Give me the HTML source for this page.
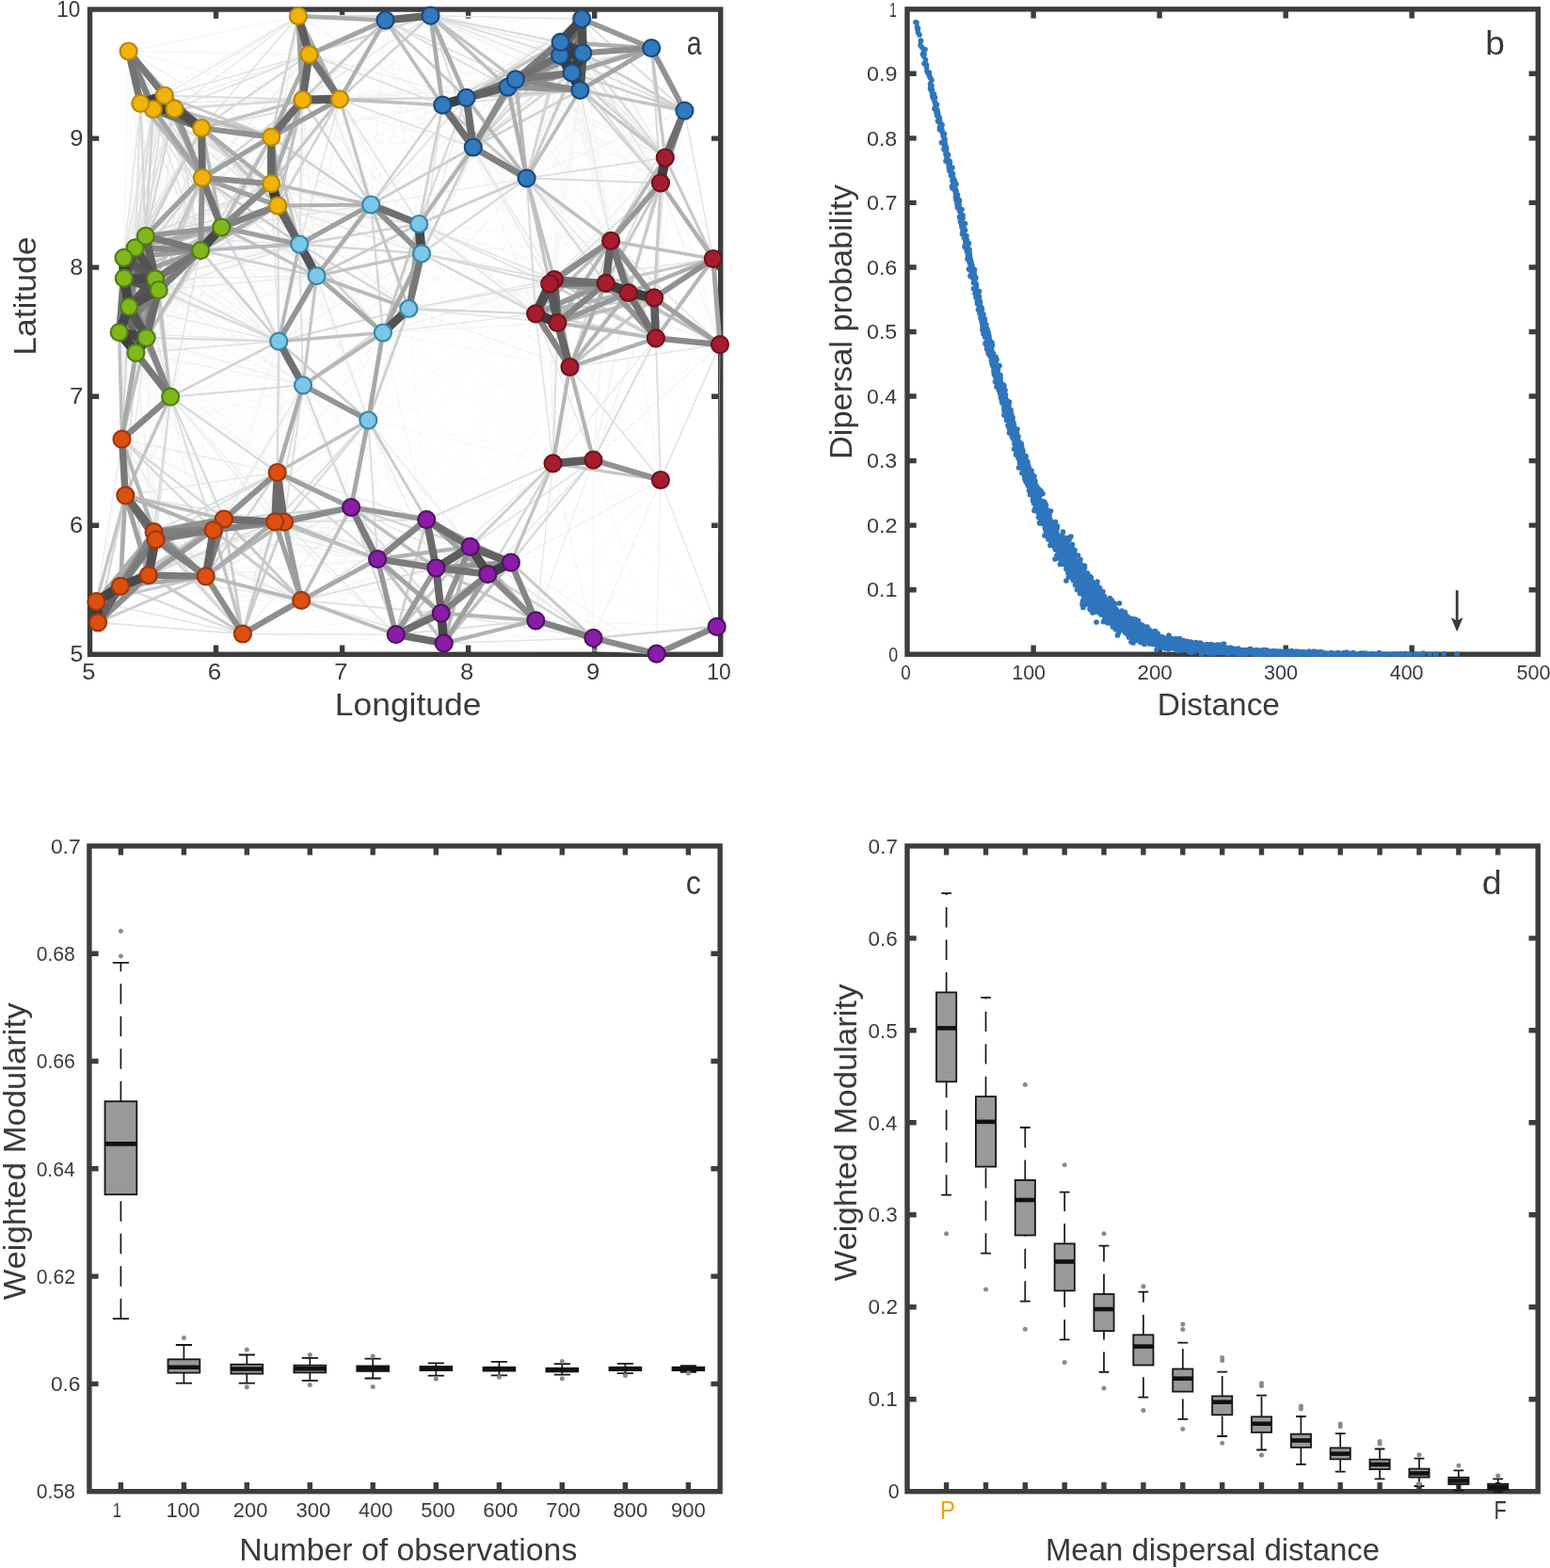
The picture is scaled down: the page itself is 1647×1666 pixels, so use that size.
<!DOCTYPE html>
<html lang="en">
<head>
<meta charset="utf-8">
<title>Network modularity figure</title>
<style>
html,body{margin:0;padding:0;background:#fff;}
body{width:1647px;height:1666px;overflow:hidden;}
svg{display:block;}
svg text{font-family:'Liberation Sans', Arial, Helvetica, sans-serif;fill:#3a3a3a;font-kerning:none;}
</style>
</head>
<body>
<svg width="1647" height="1666" viewBox="0 0 1647 1666">
<rect width="1647" height="1666" fill="#fff"/>
<g id="pa">
<g fill="none" stroke="#3d3d3b" stroke-width="5.4"><rect x="95.5" y="10" width="670.2" height="685.3"/><path d="M229.5 695.3v-9.7M229.5 10v9.7M363.6 695.3v-9.7M363.6 10v9.7M497.6 695.3v-9.7M497.6 10v9.7M631.7 695.3v-9.7M631.7 10v9.7M95.5 558.2h9.7M765.7 558.2h-9.7M95.5 421.2h9.7M765.7 421.2h-9.7M95.5 284.1h9.7M765.7 284.1h-9.7M95.5 147.1h9.7M765.7 147.1h-9.7"/></g>
<g fill="none">
<path stroke="#fbfefd" stroke-width="0.45" d="M696.9 359.4L453.2 552.1M165 296.4L157.8 611.1M154.8 250.8L163.6 565.2M214.9 188.9L391.3 446.5M547.8 84.4L696.9 359.4M162.9 116L470.3 111.7M131.5 273.8L434.3 328M643.7 300.8L542.9 597.7M136.6 54.5L336.5 293.2M445.2 238L630.5 488.7M336.5 293.2L643.7 300.8M445.2 238L453.2 552.1M692.2 51.2L445.2 238M322 409.3L471.7 683.4M667.7 311L542.9 597.7M149.3 109.9L181.1 421.7M696.9 359.4L761.7 665.8M391.3 446.5L667.7 311M162.9 116L445.2 238M296.2 362.7L257.9 673.5M619.2 56.4L696.9 359.4M502.8 156.5L322 409.3M126.7 353.2L373.1 539.1M457.5 16.7L584.2 301.5M727.4 117.6L445.2 238M607.7 77.4L605.5 390M143.6 263.3L391.3 446.5M157.8 611.1L463.4 603.5M181.1 421.7L448 269.4M154.8 250.8L237.9 551.5M569.1 333.3L401.1 594.1M336.5 293.2L133.3 526.3M457.5 16.7L434.3 328M155.6 358.8L448 269.4M131.8 295.7L302 554.7M296.2 362.7L127.9 622.8M361 105.3L569.1 333.3M143.6 263.3L226.7 563.2M502.8 156.5L391.3 446.5M316.9 17.1L619.2 56.4M539.6 92.6L696.9 359.4M168.7 308.1L373.1 539.1M328.5 57.9L131.8 295.7M463.4 603.5L761.7 665.8M143.6 263.3L448 269.4M547.8 84.4L605.5 390M213.1 266.1L165.5 573.4M154.8 250.8L391.3 446.5M104.1 661.4L401.1 594.1M131.8 295.7L434.3 328M457.5 16.7L589 297.1M143.6 263.3L165.5 573.4M470.3 111.7L605.5 390M295.2 218.5L589 297.1M696.9 359.4L518.4 610.1M616.4 95.8L765 366.1M235.3 241.5L237.9 551.5M445.2 238L373.1 539.1M136.6 54.5L394.2 217.5M587.6 492.4L320.2 637.8M559.6 189.3L391.3 446.5M143.6 263.3L445.2 238M185.4 115.7L448 269.4M457.5 16.7L649.1 255.9M692.2 51.2L592.4 343M126.7 353.2L104.1 661.4M163.6 565.2L463.4 603.5M692.2 51.2L569.1 333.3M102.4 639.2L401.1 594.1M168.7 308.1L218.7 612.3M587.6 492.4L292.1 554.3M321.5 106L619.2 56.4M174.8 101.5L445.2 238M692.2 51.2L696.9 359.4M316.9 17.1L618.2 20M336.5 293.2L401.1 594.1M559.6 189.3L630.5 488.7M470.3 111.7L695.1 316.4M157.8 611.1L453.2 552.1M470.3 111.7L296.2 362.7M409.5 21.5L434.3 328M495.5 103.8L605.5 390M181.1 421.7L453.2 552.1M155.6 358.8L104.1 661.4M607.7 77.4L434.3 328M295.2 218.5L584.2 301.5M288.2 195.2L294.7 502M457.5 16.7L702 194.4M618.2 20L695.1 316.4M361 105.3L322 409.3M328.5 57.9L296.2 362.7M296.2 362.7L589 297.1M218.7 612.3L518.4 610.1M328.5 57.9L406.9 353.5M162.9 116L181.1 421.7M131.8 295.7L292.1 554.3M165.5 573.4L463.4 603.5M185.4 115.7L181.1 421.7M445.2 238L294.7 502M129.5 466.7L401.1 594.1M406.9 353.5L129.5 466.7M126.7 353.2L394.2 217.5M131.5 273.8L226.7 563.2M547.8 84.4L406.9 353.5M131.8 295.7L391.3 446.5M470.3 111.7L213.1 266.1M539.6 92.6L605.5 390M136.6 54.5L155.6 358.8M406.9 353.5L468.8 651.6M434.3 328L702 194.4M559.6 189.3L587.6 492.4M321.5 106L155.6 358.8M589 297.1L542.9 597.7M143.6 263.3L434.3 328M618.2 20L448 269.4M137.1 325.8L434.3 328M143.6 263.3L237.9 551.5M127.9 622.8L420.7 674.2M296.2 362.7L592.4 343M316.9 17.1L607.7 77.4M213.1 266.1L163.6 565.2M316.9 17.1L143.6 263.3M318.2 259.5L237.9 551.5M321.5 106L322 409.3M235.3 241.5L133.3 526.3M702 194.4L630.5 488.7M168.7 308.1L157.8 611.1M457.5 16.7L336.5 293.2M295.2 218.5L569.1 333.3M143.6 263.3L163.6 565.2M213.1 266.1L302 554.7M618.2 20L394.2 217.5M174.8 101.5L470.3 111.7M292.1 554.3L569.3 659.3M394.2 217.5L294.7 502M316.9 17.1L559.6 189.3M214.9 188.9L457.5 16.7M361 105.3L131.8 295.7M226.7 563.2L518.4 610.1M361 105.3L589 297.1M321.5 106L616.4 95.8M131.5 273.8L165.5 573.4M296.2 362.7L499.7 580.9M174.8 101.5L457.5 16.7M257.9 673.5L542.9 597.7M104.1 661.4L373.1 539.1M361 105.3L584.2 301.5M296.2 362.7L584.2 301.5M295.2 218.5L129.5 466.7M434.3 328L237.9 551.5M547.8 84.4L336.5 293.2M154.8 250.8L448 269.4M144.4 374.8L434.3 328M144.4 374.8L394.2 217.5M468.8 651.6L761.7 665.8M765 366.1L761.7 665.8M587.6 492.4L294.7 502M495.5 103.8L235.3 241.5M727.4 117.6L605.5 390M696.9 359.4L499.7 580.9M213.1 266.1L292.1 554.3M214.9 188.9L495.5 103.8M584.2 301.5L542.9 597.7M136.6 54.5L126.7 353.2M328.5 57.9L168.7 308.1M328.5 57.9L618.2 20M181.1 421.7L394.2 217.5M587.6 492.4L302 554.7M137.1 325.8L218.7 612.3M131.5 273.8L237.9 551.5M595.6 44.8L592.4 343M589 297.1L499.7 580.9M592.4 343L373.1 539.1M406.9 353.5L320.2 637.8M616.4 95.8L434.3 328M373.1 539.1L630.5 677.9M213.1 266.1L226.7 563.2M328.5 57.9L619.2 56.4M154.8 250.8L445.2 238M137.1 325.8L127.9 622.8M471.7 683.4L761.7 665.8M288.2 145.6L181.1 421.7M406.9 353.5L695.1 316.4M328.5 57.9L616.4 95.8M605.5 390L468.8 651.6M406.9 353.5L696.9 359.4M163.6 565.2L453.2 552.1M607.7 77.4L696.9 359.4M391.3 446.5L643.7 300.8M457.5 16.7L706.8 167.5M214.9 188.9L502.8 156.5M154.8 250.8L434.3 328M318.2 259.5L292.1 554.3M214.2 136.1L502.8 156.5M214.2 136.1L434.3 328M318.2 259.5L302 554.7M618.2 20L667.7 311M296.2 362.7L463.4 603.5M185.4 115.7L457.5 16.7M328.5 57.9L131.5 273.8M502.8 156.5L296.2 362.7M322 409.3L589 297.1M165.5 573.4L453.2 552.1M434.3 328L518.4 610.1M394.2 217.5L667.7 311M495.5 103.8L695.1 316.4M214.2 136.1L322 409.3M616.4 95.8L605.5 390M102.4 639.2L373.1 539.1M322 409.3L542.9 597.7M539.6 92.6L406.9 353.5M149.3 109.9L296.2 362.7M321.5 106L607.7 77.4M457.5 16.7L727.4 117.6M165 296.4L302 554.7M214.2 136.1L406.9 353.5M131.5 273.8L163.6 565.2M445.2 238L587.6 492.4M547.8 84.4L318.2 259.5M237.9 551.5L518.4 610.1M131.5 273.8L406.9 353.5M302 554.7L569.3 659.3M318.2 259.5L592.4 343M584.2 301.5L499.7 580.9M185.4 115.7L445.2 238M336.5 293.2L226.7 563.2M165 296.4L445.2 238M701.9 510L471.7 683.4M618.2 20L757.8 275M605.5 390L401.1 594.1M592.4 343L463.4 603.5M434.3 328L542.9 597.7M336.5 293.2L605.5 390M322 409.3L127.9 622.8M185.4 115.7L470.3 111.7M168.7 308.1L445.2 238M328.5 57.9L165 296.4M214.9 188.9L129.5 466.7M295.2 218.5L547.8 84.4M569.1 333.3L463.4 603.5M328.5 57.9L434.3 328M165 296.4L448 269.4M409.5 21.5L692.2 51.2M322 409.3L605.5 390M589 297.1L453.2 552.1M595.6 44.8L695.1 316.4M391.3 446.5L157.8 611.1M595.6 44.8L569.1 333.3M321.5 106L137.1 325.8M144.4 374.8L104.1 661.4M214.2 136.1L495.5 103.8M174.8 101.5L296.2 362.7M154.8 250.8L294.7 502M218.7 612.3L499.7 580.9M605.5 390L630.5 677.9M322 409.3L584.2 301.5M361 105.3L131.5 273.8M165 296.4L292.1 554.3M539.6 92.6L336.5 293.2M168.7 308.1L448 269.4M539.6 92.6L757.8 275M448 269.4L630.5 488.7M619.2 56.4L592.4 343"/>
<path stroke="#fafdfc" stroke-width="0.45" d="M453.2 552.1L697.6 694.6M288.2 195.2L547.8 84.4M214.2 136.1L181.1 421.7M316.9 17.1L595.1 58.9M569.1 333.3L373.1 539.1M131.8 295.7L406.9 353.5M547.8 84.4L757.8 275M126.7 353.2L102.4 639.2M321.5 106L595.6 44.8M155.6 358.8L434.3 328M137.1 325.8L391.3 446.5M213.1 266.1L237.9 551.5M126.7 353.2L406.9 353.5M316.9 17.1L154.8 250.8M502.8 156.5L235.3 241.5M502.8 156.5L757.8 275M316.9 17.1L595.6 44.8M155.6 358.8L373.1 539.1M126.7 353.2L391.3 446.5M328.5 57.9L607.7 77.4M137.1 325.8L157.8 611.1M296.2 362.7L157.8 611.1M144.4 374.8L373.1 539.1M316.9 17.1L448 269.4M696.9 359.4L542.9 597.7M155.6 358.8L102.4 639.2M318.2 259.5L373.1 539.1M336.5 293.2L453.2 552.1M322 409.3L468.8 651.6M163.6 565.2L420.7 674.2M445.2 238L696.9 359.4M131.8 295.7L226.7 563.2M143.6 263.3L294.7 502M322 409.3L592.4 343M137.1 325.8L394.2 217.5M137.1 325.8L302 554.7M584.2 301.5L453.2 552.1M595.1 58.9L592.4 343M322 409.3L587.6 492.4M322 409.3L518.4 610.1M143.6 263.3L406.9 353.5M420.7 674.2L697.6 694.6M502.8 156.5L696.9 359.4M595.6 44.8L757.8 275M321.5 106L595.1 58.9M470.3 111.7L667.7 311M618.2 20L584.2 301.5M630.5 488.7L420.7 674.2M448 269.4L706.8 167.5M295.2 218.5L294.7 502M322 409.3L420.7 674.2M181.1 421.7L401.1 594.1M318.2 259.5L129.5 466.7M409.5 21.5L235.3 241.5M448 269.4L453.2 552.1M131.5 273.8L294.7 502M361 105.3L168.7 308.1M133.3 526.3L401.1 594.1M618.2 20L643.7 300.8M155.6 358.8L394.2 217.5M162.9 116L296.2 362.7M409.5 21.5L336.5 293.2M168.7 308.1L302 554.7M569.1 333.3L518.4 610.1M619.2 56.4L569.1 333.3M457.5 16.7L318.2 259.5M539.6 92.6L318.2 259.5M499.7 580.9L761.7 665.8M406.9 353.5L542.9 597.7M136.6 54.5L409.5 21.5M288.2 145.6L559.6 189.3M619.2 56.4L394.2 217.5M127.9 622.8L401.1 594.1M406.9 353.5L518.4 610.1M618.2 20L445.2 238M296.2 362.7L569.1 333.3M605.5 390L373.1 539.1M448 269.4L294.7 502M149.3 109.9L409.5 21.5M448 269.4L373.1 539.1M391.3 446.5L569.3 659.3M131.8 295.7L165.5 573.4M295.2 218.5L539.6 92.6M165.5 573.4L420.7 674.2M226.7 563.2L499.7 580.9M131.8 295.7L394.2 217.5M318.2 259.5L589 297.1M328.5 57.9L143.6 263.3M406.9 353.5L226.7 563.2M618.2 20L589 297.1M757.8 275L587.6 492.4M137.1 325.8L292.1 554.3M226.7 563.2L471.7 683.4M131.8 295.7L237.9 551.5M592.4 343L518.4 610.1M288.2 195.2L559.6 189.3M154.8 250.8L406.9 353.5M336.5 293.2L237.9 551.5M137.1 325.8L406.9 353.5M701.9 510L468.8 651.6M165 296.4L434.3 328M434.3 328L463.4 603.5M595.1 58.9L695.1 316.4M165 296.4L165.5 573.4M361 105.3L165 296.4M316.9 17.1L336.5 293.2M288.2 195.2L539.6 92.6M168.7 308.1L292.1 554.3M445.2 238L706.8 167.5M547.8 84.4L695.1 316.4M136.6 54.5L318.2 259.5M361 105.3L618.2 20M394.2 217.5L605.5 390M154.8 250.8L133.3 526.3M595.6 44.8L667.7 311M296.2 362.7L320.2 637.8M616.4 95.8L696.9 359.4M157.8 611.1L420.7 674.2M214.2 136.1L457.5 16.7M165 296.4L391.3 446.5M619.2 56.4L448 269.4M595.1 58.9L569.1 333.3M126.7 353.2L218.7 612.3M391.3 446.5L133.3 526.3M181.1 421.7L434.3 328M318.2 259.5L584.2 301.5M174.8 101.5L144.4 374.8M559.6 189.3L765 366.1M539.6 92.6L695.1 316.4M131.5 273.8L394.2 217.5M165 296.4L226.7 563.2M257.9 673.5L518.4 610.1M214.2 136.1L448 269.4M336.5 293.2L129.5 466.7M692.2 51.2L584.2 301.5M328.5 57.9L595.6 44.8M470.3 111.7L235.3 241.5M237.9 551.5L471.7 683.4M361 105.3L143.6 263.3M595.1 58.9L757.8 275M213.1 266.1L133.3 526.3M328.5 57.9L595.1 58.9M149.3 109.9L394.2 217.5M288.2 195.2L391.3 446.5M288.2 145.6L547.8 84.4M214.9 188.9L470.3 111.7M168.7 308.1L434.3 328M288.2 145.6L144.4 374.8M322 409.3L257.9 673.5M295.2 218.5L559.6 189.3M495.5 103.8L667.7 311M605.5 390L569.3 659.3M185.4 115.7L296.2 362.7M131.8 295.7L163.6 565.2M619.2 56.4L695.1 316.4M321.5 106L131.8 295.7M136.6 54.5L137.1 325.8M294.7 502L542.9 597.7"/>
<path stroke="#fafdfc" stroke-width="0.45" d="M316.9 17.1L213.1 266.1M595.6 44.8L448 269.4M328.5 57.9L559.6 189.3M434.3 328L696.9 359.4M448 269.4L702 194.4M406.9 353.5L667.7 311M448 269.4L696.9 359.4M547.8 84.4L434.3 328M126.7 353.2L302 554.7M727.4 117.6L569.1 333.3M126.7 353.2L127.9 622.8M237.9 551.5L499.7 580.9M162.9 116L409.5 21.5M144.4 374.8L406.9 353.5M434.3 328L292.1 554.3M165 296.4L163.6 565.2M595.6 44.8L394.2 217.5M361 105.3L619.2 56.4M391.3 446.5L129.5 466.7M394.2 217.5L643.7 300.8M218.7 612.3L471.7 683.4M434.3 328L401.1 594.1M630.5 488.7L373.1 539.1M144.4 374.8L102.4 639.2M692.2 51.2L589 297.1M235.3 241.5L294.7 502M445.2 238L695.1 316.4M318.2 259.5L569.1 333.3M434.3 328L695.1 316.4M168.7 308.1L391.3 446.5M336.5 293.2L592.4 343M406.9 353.5L649.1 255.9M445.2 238L702 194.4M607.7 77.4L592.4 343M288.2 145.6L322 409.3M361 105.3L296.2 362.7M165 296.4L237.9 551.5M569.1 333.3L542.9 597.7M495.5 103.8L406.9 353.5M406.9 353.5L630.5 488.7M155.6 358.8L127.9 622.8M168.7 308.1L165.5 573.4M288.2 145.6L126.7 353.2M692.2 51.2L695.1 316.4M131.8 295.7L294.7 502M149.3 109.9L336.5 293.2M336.5 293.2L292.1 554.3M149.3 109.9L144.4 374.8M391.3 446.5L257.9 673.5M448 269.4L587.6 492.4M127.9 622.8L373.1 539.1M727.4 117.6L592.4 343M257.9 673.5L499.7 580.9M434.3 328L302 554.7M214.9 188.9L434.3 328M336.5 293.2L302 554.7M322 409.3L569.1 333.3"/>
<path stroke="#f9fcfb" stroke-width="0.80" d="M181.1 421.7L257.9 673.5M391.3 446.5L165.5 573.4M394.2 217.5L649.1 255.9M143.6 263.3L133.3 526.3M214.2 136.1L470.3 111.7M470.3 111.7L727.4 117.6M226.7 563.2L468.8 651.6M470.3 111.7L592.4 343M406.9 353.5L237.9 551.5M595.1 58.9L667.7 311M126.7 353.2L292.1 554.3M547.8 84.4L592.4 343M322 409.3L157.8 611.1M288.2 145.6L539.6 92.6M185.4 115.7L144.4 374.8M321.5 106L406.9 353.5M144.4 374.8L391.3 446.5M328.5 57.9L154.8 250.8M168.7 308.1L226.7 563.2M296.2 362.7L218.7 612.3M434.3 328L499.7 580.9M155.6 358.8L218.7 612.3M391.3 446.5L163.6 565.2M361 105.3L616.4 95.8M295.2 218.5L457.5 16.7M701.9 510L463.4 603.5M692.2 51.2L667.7 311M595.6 44.8L643.7 300.8M619.2 56.4L757.8 275M143.6 263.3L394.2 217.5M292.1 554.3L542.9 597.7M214.9 188.9L409.5 21.5M126.7 353.2L157.8 611.1M649.1 255.9L701.9 510M235.3 241.5L391.3 446.5M592.4 343L542.9 597.7M595.1 58.9L394.2 217.5M162.9 116L144.4 374.8M129.5 466.7L320.2 637.8M607.7 77.4L394.2 217.5M129.5 466.7L373.1 539.1M619.2 56.4L667.7 311M470.3 111.7L643.7 300.8M607.7 77.4L569.1 333.3M495.5 103.8L592.4 343M539.6 92.6L434.3 328M218.7 612.3L468.8 651.6M595.1 58.9L448 269.4M181.1 421.7L320.2 637.8M605.5 390L463.4 603.5M336.5 293.2L589 297.1M174.8 101.5L155.6 358.8M321.5 106L296.2 362.7M701.9 510L453.2 552.1M616.4 95.8L394.2 217.5M547.8 84.4L667.7 311M569.1 333.3L499.7 580.9M162.9 116L394.2 217.5M321.5 106L559.6 189.3M214.2 136.1L445.2 238M630.5 488.7L401.1 594.1M168.7 308.1L163.6 565.2M434.3 328L630.5 488.7M155.6 358.8L406.9 353.5M448 269.4L695.1 316.4"/>
<path stroke="#f9fcfb" stroke-width="0.80" d="M595.6 44.8L584.2 301.5M316.9 17.1L445.2 238M321.5 106L131.5 273.8M559.6 189.3L318.2 259.5M406.9 353.5L463.4 603.5M155.6 358.8L391.3 446.5M174.8 101.5L126.7 353.2M237.9 551.5L468.8 651.6M213.1 266.1L391.3 446.5M294.7 502L471.7 683.4M463.4 603.5L697.6 694.6M214.9 188.9L406.9 353.5M361 105.3L154.8 250.8M539.6 92.6L592.4 343M592.4 343L499.7 580.9M502.8 156.5L605.5 390M136.6 54.5L168.7 308.1M409.5 21.5L318.2 259.5M320.2 637.8L569.3 659.3M321.5 106L168.7 308.1M607.7 77.4L695.1 316.4M296.2 362.7L401.1 594.1M518.4 610.1L761.7 665.8M539.6 92.6L667.7 311M692.2 51.2L643.7 300.8M137.1 325.8L226.7 563.2M619.2 56.4L445.2 238M165 296.4L406.9 353.5M361 105.3L607.7 77.4M630.5 488.7L471.7 683.4M168.7 308.1L237.9 551.5M502.8 156.5L695.1 316.4M336.5 293.2L584.2 301.5M174.8 101.5L336.5 293.2M294.7 502L518.4 610.1M174.8 101.5L409.5 21.5M592.4 343L453.2 552.1M457.5 16.7L448 269.4M288.2 145.6L155.6 358.8M361 105.3L406.9 353.5M174.8 101.5L394.2 217.5M131.5 273.8L133.3 526.3M595.6 44.8L589 297.1M155.6 358.8L157.8 611.1M181.1 421.7L104.1 661.4M607.7 77.4L448 269.4M294.7 502L104.1 661.4M288.2 195.2L181.1 421.7M214.9 188.9L448 269.4M727.4 117.6L765 366.1M391.3 446.5L589 297.1M409.5 21.5L448 269.4M470.3 111.7L702 194.4M162.9 116L336.5 293.2M391.3 446.5L471.7 683.4M559.6 189.3L336.5 293.2M218.7 612.3L463.4 603.5M470.3 111.7L406.9 353.5M757.8 275L630.5 488.7M213.1 266.1L294.7 502M607.7 77.4L757.8 275M321.5 106L434.3 328"/>
<path stroke="#f8fbfa" stroke-width="0.80" d="M302 554.7L542.9 597.7M322 409.3L499.7 580.9M547.8 84.4L569.1 333.3M235.3 241.5L129.5 466.7M495.5 103.8L336.5 293.2M296.2 362.7L165.5 573.4M157.8 611.1L401.1 594.1M144.4 374.8L218.7 612.3M587.6 492.4L420.7 674.2M137.1 325.8L165.5 573.4M214.2 136.1L144.4 374.8M401.1 594.1L630.5 677.9M149.3 109.9L155.6 358.8M569.1 333.3L453.2 552.1M336.5 293.2L373.1 539.1M321.5 106L165 296.4M288.2 195.2L457.5 16.7M144.4 374.8L127.9 622.8M495.5 103.8L643.7 300.8M587.6 492.4L761.7 665.8M616.4 95.8L592.4 343M296.2 362.7L453.2 552.1M295.2 218.5L391.3 446.5M391.3 446.5L630.5 488.7M470.3 111.7L706.8 167.5M137.1 325.8L237.9 551.5M406.9 353.5L643.7 300.8M168.7 308.1L406.9 353.5M185.4 115.7L409.5 21.5M168.7 308.1L394.2 217.5M619.2 56.4L584.2 301.5M361 105.3L595.6 44.8M165 296.4L394.2 217.5M218.7 612.3L453.2 552.1M154.8 250.8L394.2 217.5M595.1 58.9L643.7 300.8M595.6 44.8L445.2 238M155.6 358.8L302 554.7M406.9 353.5L499.7 580.9M214.9 188.9L322 409.3M619.2 56.4L643.7 300.8M133.3 526.3L373.1 539.1M316.9 17.1L547.8 84.4M706.8 167.5L605.5 390M226.7 563.2L463.4 603.5M185.4 115.7L155.6 358.8M185.4 115.7L126.7 353.2M129.5 466.7L257.9 673.5M391.3 446.5L584.2 301.5M649.1 255.9L587.6 492.4M165 296.4L294.7 502M163.6 565.2L401.1 594.1M616.4 95.8L448 269.4M149.3 109.9L126.7 353.2M328.5 57.9L448 269.4M361 105.3L595.1 58.9M727.4 117.6L696.9 359.4M296.2 362.7L163.6 565.2M318.2 259.5L294.7 502M136.6 54.5L165 296.4M470.3 111.7L569.1 333.3"/>
<path stroke="#f7faf9" stroke-width="0.80" d="M162.9 116L155.6 358.8M595.1 58.9L584.2 301.5M619.2 56.4L589 297.1M539.6 92.6L569.1 333.3M457.5 16.7L692.2 51.2M316.9 17.1L318.2 259.5M616.4 95.8L569.1 333.3M589 297.1L701.9 510M391.3 446.5L218.7 612.3M322 409.3L463.4 603.5M757.8 275L701.9 510M165.5 573.4L401.1 594.1M214.2 136.1L296.2 362.7M495.5 103.8L569.1 333.3M144.4 374.8L302 554.7M607.7 77.4L667.7 311M136.6 54.5L131.8 295.7M336.5 293.2L569.1 333.3M137.1 325.8L163.6 565.2M181.1 421.7L406.9 353.5M584.2 301.5L701.9 510M288.2 145.6L406.9 353.5M406.9 353.5L401.1 594.1M214.9 188.9L445.2 238M321.5 106L143.6 263.3M213.1 266.1L448 269.4M155.6 358.8L292.1 554.3M162.9 116L126.7 353.2M316.9 17.1L539.6 92.6M294.7 502L102.4 639.2M316.9 17.1L235.3 241.5M328.5 57.9L213.1 266.1M434.3 328L667.7 311M213.1 266.1L445.2 238M495.5 103.8L318.2 259.5M445.2 238L667.7 311M137.1 325.8L294.7 502M394.2 217.5L592.4 343M595.1 58.9L589 297.1M292.1 554.3L518.4 610.1M618.2 20L649.1 255.9M468.8 651.6L697.6 694.6M547.8 84.4L643.7 300.8M495.5 103.8L727.4 117.6M605.5 390L518.4 610.1M288.2 145.6L137.1 325.8M131.5 273.8L322 409.3M144.4 374.8L157.8 611.1M185.4 115.7L394.2 217.5"/>
<path stroke="#f7faf9" stroke-width="0.80" d="M237.9 551.5L463.4 603.5M288.2 145.6L434.3 328M595.1 58.9L445.2 238M316.9 17.1L502.8 156.5M328.5 57.9L336.5 293.2M214.9 188.9L181.1 421.7M185.4 115.7L336.5 293.2M727.4 117.6L584.2 301.5M136.6 54.5L361 105.3M361 105.3L434.3 328M470.3 111.7L692.2 51.2M616.4 95.8L695.1 316.4M214.2 136.1L126.7 353.2M295.2 218.5L495.5 103.8M144.4 374.8L292.1 554.3M213.1 266.1L434.3 328M295.2 218.5L181.1 421.7M373.1 539.1L569.3 659.3M542.9 597.7L761.7 665.8M539.6 92.6L643.7 300.8M257.9 673.5L453.2 552.1M143.6 263.3L322 409.3M692.2 51.2L757.8 275M649.1 255.9L630.5 488.7M126.7 353.2L226.7 563.2M296.2 362.7L133.3 526.3M154.8 250.8L322 409.3M502.8 156.5L727.4 117.6M470.3 111.7L649.1 255.9M168.7 308.1L294.7 502M495.5 103.8L434.3 328M406.9 353.5L292.1 554.3M294.7 502L468.8 651.6M321.5 106L547.8 84.4M165 296.4L133.3 526.3M288.2 195.2L144.4 374.8M499.7 580.9L697.6 694.6M630.5 488.7L468.8 651.6M181.1 421.7L102.4 639.2M226.7 563.2L453.2 552.1M157.8 611.1L373.1 539.1M587.6 492.4L697.6 694.6M471.7 683.4L697.6 694.6M320.2 637.8L542.9 597.7M434.3 328L649.1 255.9M406.9 353.5L587.6 492.4M607.7 77.4L445.2 238M288.2 195.2L495.5 103.8M136.6 54.5L295.2 218.5M214.2 136.1L155.6 358.8M131.8 295.7L133.3 526.3M616.4 95.8L757.8 275M214.2 136.1L409.5 21.5M391.3 446.5L592.4 343M495.5 103.8L702 194.4M391.3 446.5L420.7 674.2"/>
<path stroke="#f6f9f8" stroke-width="0.80" d="M322 409.3L165.5 573.4M295.2 218.5L409.5 21.5M394.2 217.5L391.3 446.5M322 409.3L218.7 612.3M302 554.7L104.1 661.4M181.1 421.7L373.1 539.1M502.8 156.5L667.7 311M126.7 353.2L237.9 551.5M727.4 117.6L589 297.1M288.2 195.2L126.7 353.2M322 409.3L320.2 637.8M149.3 109.9L318.2 259.5M448 269.4L667.7 311M302 554.7L518.4 610.1M406.9 353.5L302 554.7M174.8 101.5L137.1 325.8M409.5 21.5L559.6 189.3M226.7 563.2L420.7 674.2M470.3 111.7L336.5 293.2M126.7 353.2L294.7 502M434.3 328L587.6 492.4M559.6 189.3L406.9 353.5M607.7 77.4L643.7 300.8M391.3 446.5L605.5 390M328.5 57.9L547.8 84.4M322 409.3L133.3 526.3M136.6 54.5L213.1 266.1M616.4 95.8L445.2 238M607.7 77.4L584.2 301.5M495.5 103.8L706.8 167.5M131.8 295.7L322 409.3M434.3 328L294.7 502M434.3 328L453.2 552.1M322 409.3L163.6 565.2M605.5 390L453.2 552.1M587.6 492.4L471.7 683.4M292.1 554.3L471.7 683.4M587.6 492.4L373.1 539.1M409.5 21.5L616.4 95.8M294.7 502L499.7 580.9M126.7 353.2L165.5 573.4M321.5 106L154.8 250.8M237.9 551.5L420.7 674.2M445.2 238L605.5 390M321.5 106L539.6 92.6M569.1 333.3L701.9 510M288.2 195.2L502.8 156.5M126.7 353.2L336.5 293.2"/>
<path stroke="#f4f7f6" stroke-width="0.80" d="M102.4 639.2L320.2 637.8M470.3 111.7L584.2 301.5M104.1 661.4L320.2 637.8M630.5 488.7L761.7 665.8M457.5 16.7L445.2 238M470.3 111.7L589 297.1M616.4 95.8L667.7 311M257.9 673.5L463.4 603.5M133.3 526.3L320.2 637.8M168.7 308.1L133.3 526.3M295.2 218.5L502.8 156.5M235.3 241.5L434.3 328M765 366.1L587.6 492.4M302 554.7L102.4 639.2M361 105.3L213.1 266.1M453.2 552.1L630.5 677.9M559.6 189.3L696.9 359.4M607.7 77.4L589 297.1M502.8 156.5L692.2 51.2M547.8 84.4L584.2 301.5M434.3 328L373.1 539.1M237.9 551.5L453.2 552.1M292.1 554.3L104.1 661.4M502.8 156.5L406.9 353.5M559.6 189.3L757.8 275M391.3 446.5L468.8 651.6M361 105.3L559.6 189.3M288.2 145.6L502.8 156.5M295.2 218.5L144.4 374.8M409.5 21.5L445.2 238M605.5 390L499.7 580.9M470.3 111.7L434.3 328M136.6 54.5L131.5 273.8M288.2 145.6L131.8 295.7M235.3 241.5L448 269.4M702 194.4L605.5 390M257.9 673.5L471.7 683.4M295.2 218.5L126.7 353.2M495.5 103.8L649.1 255.9M328.5 57.9L539.6 92.6M701.9 510L499.7 580.9M502.8 156.5L336.5 293.2M595.6 44.8L649.1 255.9M213.1 266.1L129.5 466.7M706.8 167.5L569.1 333.3M495.5 103.8L584.2 301.5M643.7 300.8L701.9 510M154.8 250.8L129.5 466.7M605.5 390L542.9 597.7M288.2 145.6L296.2 362.7M409.5 21.5L619.2 56.4M126.7 353.2L318.2 259.5M630.5 488.7L697.6 694.6M155.6 358.8L226.7 563.2M288.2 195.2L322 409.3M547.8 84.4L589 297.1M257.9 673.5L468.8 651.6M213.1 266.1L406.9 353.5M391.3 446.5L542.9 597.7M149.3 109.9L361 105.3M181.1 421.7L391.3 446.5M149.3 109.9L137.1 325.8M587.6 492.4L401.1 594.1M288.2 145.6L495.5 103.8M328.5 57.9L445.2 238M302 554.7L471.7 683.4"/>
<path stroke="#f3f6f5" stroke-width="0.80" d="M434.3 328L643.7 300.8M288.2 145.6L457.5 16.7M185.4 115.7L137.1 325.8M163.6 565.2L373.1 539.1M445.2 238L391.3 446.5M495.5 103.8L589 297.1M218.7 612.3L420.7 674.2M174.8 101.5L318.2 259.5M316.9 17.1L394.2 217.5M126.7 353.2L163.6 565.2M294.7 502L420.7 674.2M502.8 156.5L318.2 259.5M165.5 573.4L373.1 539.1M155.6 358.8L165.5 573.4M235.3 241.5L445.2 238M420.7 674.2L630.5 677.9M470.3 111.7L318.2 259.5M394.2 217.5L589 297.1M181.1 421.7L318.2 259.5M391.3 446.5L569.1 333.3M162.9 116L318.2 259.5M292.1 554.3L499.7 580.9M539.6 92.6L584.2 301.5M288.2 195.2L409.5 21.5M409.5 21.5L618.2 20M336.5 293.2L294.7 502M394.2 217.5L569.1 333.3M296.2 362.7L226.7 563.2M144.4 374.8L336.5 293.2M701.9 510L518.4 610.1M445.2 238L322 409.3M136.6 54.5L235.3 241.5M288.2 195.2L155.6 358.8M445.2 238L643.7 300.8M144.4 374.8L318.2 259.5M292.1 554.3L102.4 639.2M394.2 217.5L584.2 301.5M162.9 116L137.1 325.8M547.8 84.4L448 269.4M457.5 16.7L394.2 217.5M706.8 167.5L592.4 343M539.6 92.6L589 297.1M131.5 273.8L336.5 293.2M155.6 358.8L237.9 551.5M409.5 21.5L607.7 77.4M692.2 51.2L649.1 255.9M136.6 54.5L288.2 195.2M131.8 295.7L336.5 293.2M445.2 238L649.1 255.9"/>
<path stroke="#f2f5f4" stroke-width="0.80" d="M294.7 502L127.9 622.8M391.3 446.5L518.4 610.1M136.6 54.5L143.6 263.3M502.8 156.5L706.8 167.5M295.2 218.5L470.3 111.7M321.5 106L448 269.4M181.1 421.7L127.9 622.8M616.4 95.8L584.2 301.5M235.3 241.5L406.9 353.5M495.5 103.8L692.2 51.2M502.8 156.5L592.4 343M695.1 316.4L587.6 492.4M126.7 353.2L322 409.3M706.8 167.5L765 366.1M502.8 156.5L702 194.4M616.4 95.8L643.7 300.8M328.5 57.9L235.3 241.5M174.8 101.5L168.7 308.1M137.1 325.8L322 409.3M155.6 358.8L163.6 565.2M137.1 325.8L336.5 293.2M144.4 374.8L226.7 563.2M406.9 353.5L605.5 390M559.6 189.3L605.5 390M448 269.4L649.1 255.9M391.3 446.5L587.6 492.4M547.8 84.4L394.2 217.5M630.5 488.7L463.4 603.5M394.2 217.5L322 409.3M214.2 136.1L137.1 325.8M292.1 554.3L468.8 651.6M288.2 145.6L131.5 273.8M322 409.3L129.5 466.7M288.2 145.6L448 269.4M391.3 446.5L226.7 563.2M391.3 446.5L320.2 637.8M595.1 58.9L649.1 255.9M320.2 637.8L518.4 610.1M181.1 421.7L336.5 293.2"/>
<path stroke="#f1f4f3" stroke-width="0.80" d="M406.9 353.5L453.2 552.1M288.2 195.2L470.3 111.7M502.8 156.5L643.7 300.8M143.6 263.3L129.5 466.7M302 554.7L499.7 580.9M328.5 57.9L502.8 156.5M288.2 145.6L168.7 308.1M616.4 95.8L589 297.1M569.1 333.3L765 366.1M162.9 116L361 105.3M727.4 117.6L667.7 311M316.9 17.1L295.2 218.5M448 269.4L643.7 300.8M288.2 195.2L137.1 325.8M727.4 117.6L643.7 300.8M316.9 17.1L495.5 103.8M667.7 311L701.9 510M328.5 57.9L318.2 259.5M155.6 358.8L294.7 502M619.2 56.4L649.1 255.9M518.4 610.1L697.6 694.6M322 409.3L401.1 594.1M457.5 16.7L559.6 189.3M701.9 510L569.3 659.3M757.8 275L569.1 333.3M727.4 117.6L695.1 316.4"/>
<path stroke="#f0f3f2" stroke-width="0.80" d="M318.2 259.5L391.3 446.5M214.2 136.1L394.2 217.5M448 269.4L605.5 390M592.4 343L701.9 510M316.9 17.1L214.9 188.9M144.4 374.8L237.9 551.5M214.2 136.1L336.5 293.2M137.1 325.8L133.3 526.3M547.8 84.4L649.1 255.9M587.6 492.4L468.8 651.6M295.2 218.5L155.6 358.8M294.7 502L463.4 603.5M539.6 92.6L448 269.4M643.7 300.8L587.6 492.4M288.2 195.2L434.3 328M144.4 374.8L165.5 573.4M296.2 362.7L129.5 466.7M143.6 263.3L336.5 293.2M144.4 374.8L294.7 502M288.2 195.2L406.9 353.5M214.9 188.9L144.4 374.8M149.3 109.9L168.7 308.1M174.8 101.5L131.8 295.7M667.7 311L587.6 492.4"/>
<path stroke="#f0f3f2" stroke-width="0.80" d="M539.6 92.6L649.1 255.9M296.2 362.7L237.9 551.5M185.4 115.7L318.2 259.5M127.9 622.8L320.2 637.8M136.6 54.5L154.8 250.8M129.5 466.7L302 554.7M445.2 238L296.2 362.7M569.3 659.3L761.7 665.8M137.1 325.8L318.2 259.5M409.5 21.5L394.2 217.5M288.2 145.6L165 296.4M129.5 466.7L104.1 661.4M155.6 358.8L336.5 293.2M165 296.4L322 409.3M136.6 54.5L328.5 57.9M589 297.1L630.5 488.7M302 554.7L468.8 651.6"/>
<path stroke="#eff2f1" stroke-width="0.81" d="M136.6 54.5L321.5 106M322 409.3L453.2 552.1M584.2 301.5L765 366.1M589 297.1L587.6 492.4M174.8 101.5L165 296.4M316.9 17.1L149.3 109.9M539.6 92.6L702 194.4M321.5 106L213.1 266.1M133.3 526.3L257.9 673.5M406.9 353.5L589 297.1M181.1 421.7L218.7 612.3M702 194.4L569.1 333.3M618.2 20L702 194.4M539.6 92.6L394.2 217.5M295.2 218.5L137.1 325.8M131.8 295.7L318.2 259.5M695.1 316.4L701.9 510M155.6 358.8L318.2 259.5M539.6 92.6L727.4 117.6M757.8 275L605.5 390M692.2 51.2L559.6 189.3M409.5 21.5L595.1 58.9"/>
<path stroke="#eef1f0" stroke-width="0.85" d="M185.4 115.7L168.7 308.1M296.2 362.7L373.1 539.1M584.2 301.5L630.5 488.7M131.5 273.8L129.5 466.7M295.2 218.5L322 409.3M589 297.1L765 366.1M214.9 188.9L296.2 362.7M547.8 84.4L702 194.4M162.9 116L168.7 308.1M706.8 167.5L696.9 359.4M320.2 637.8L499.7 580.9M361 105.3L547.8 84.4M321.5 106L502.8 156.5M296.2 362.7L302 554.7M630.5 488.7L453.2 552.1M409.5 21.5L595.6 44.8M296.2 362.7L292.1 554.3M213.1 266.1L394.2 217.5M131.5 273.8L318.2 259.5M144.4 374.8L163.6 565.2M584.2 301.5L587.6 492.4M181.1 421.7L157.8 611.1M587.6 492.4L630.5 677.9M302 554.7L127.9 622.8M154.8 250.8L336.5 293.2"/>
<path stroke="#eef1f0" stroke-width="0.89" d="M328.5 57.9L149.3 109.9M131.5 273.8L296.2 362.7M174.8 101.5L361 105.3M448 269.4L322 409.3M406.9 353.5L592.4 343M235.3 241.5L322 409.3M361 105.3L336.5 293.2M502.8 156.5L569.1 333.3M288.2 145.6L470.3 111.7M630.5 488.7L630.5 677.9M288.2 145.6L143.6 263.3M288.2 195.2L131.8 295.7M559.6 189.3L434.3 328M406.9 353.5L373.1 539.1M391.3 446.5L237.9 551.5M406.9 353.5L584.2 301.5M235.3 241.5L181.1 421.7M643.7 300.8L630.5 488.7M185.4 115.7L131.8 295.7M136.6 54.5L316.9 17.1M559.6 189.3L695.1 316.4M129.5 466.7L292.1 554.3M321.5 106L336.5 293.2"/>
<path stroke="#edf0ef" stroke-width="0.93" d="M406.9 353.5L294.7 502M214.9 188.9L126.7 353.2M218.7 612.3L401.1 594.1M361 105.3L235.3 241.5M149.3 109.9L165 296.4M361 105.3L448 269.4M149.3 109.9L131.8 295.7M539.6 92.6L706.8 167.5M547.8 84.4L727.4 117.6M168.7 308.1L322 409.3M463.4 603.5L630.5 677.9M448 269.4L391.3 446.5M702 194.4L592.4 343M547.8 84.4L445.2 238M727.4 117.6L559.6 189.3M316.9 17.1L162.9 116M434.3 328L605.5 390M214.9 188.9L394.2 217.5M542.9 597.7L697.6 694.6M502.8 156.5L434.3 328M288.2 145.6L445.2 238"/>
<path stroke="#ecefee" stroke-width="0.99" d="M143.6 263.3L296.2 362.7M595.6 44.8L702 194.4M144.4 374.8L322 409.3M701.9 510L542.9 597.7M701.9 510L697.6 694.6M149.3 109.9L295.2 218.5M695.1 316.4L630.5 488.7M765 366.1L630.5 488.7M295.2 218.5L131.8 295.7M401.1 594.1L569.3 659.3M445.2 238L592.4 343M706.8 167.5L584.2 301.5M607.7 77.4L649.1 255.9M702 194.4L765 366.1M373.1 539.1L542.9 597.7M316.9 17.1L470.3 111.7M701.9 510L630.5 677.9M361 105.3L539.6 92.6M154.8 250.8L296.2 362.7M321.5 106L445.2 238M547.8 84.4L706.8 167.5M162.9 116L131.8 295.7"/>
<path stroke="#ebeeed" stroke-width="1.05" d="M757.8 275L592.4 343M322 409.3L226.7 563.2M292.1 554.3L463.4 603.5M185.4 115.7L165 296.4M667.7 311L630.5 488.7M630.5 488.7L569.3 659.3M181.1 421.7L302 554.7M213.1 266.1L322 409.3M292.1 554.3L127.9 622.8M448 269.4L296.2 362.7M226.7 563.2L401.1 594.1M131.8 295.7L296.2 362.7M457.5 16.7L616.4 95.8M316.9 17.1L288.2 195.2M214.2 136.1L131.8 295.7M502.8 156.5L618.2 20M162.9 116L165 296.4M214.9 188.9L155.6 358.8M185.4 115.7L361 105.3M136.6 54.5L288.2 145.6M502.8 156.5L649.1 255.9M618.2 20L559.6 189.3"/>
<path stroke="#eaedec" stroke-width="1.11" d="M295.2 218.5L434.3 328M757.8 275L584.2 301.5M288.2 195.2L448 269.4M328.5 57.9L162.9 116M257.9 673.5L373.1 539.1M143.6 263.3L318.2 259.5M288.2 195.2L131.5 273.8M214.2 136.1L168.7 308.1M592.4 343L765 366.1M292.1 554.3L420.7 674.2M321.5 106L495.5 103.8M174.8 101.5L131.5 273.8M155.6 358.8L322 409.3M294.7 502L157.8 611.1M706.8 167.5L589 297.1M470.3 111.7L618.2 20M295.2 218.5L406.9 353.5M328.5 57.9L495.5 103.8"/>
<path stroke="#e9eceb" stroke-width="1.18" d="M394.2 217.5L296.2 362.7M295.2 218.5L131.5 273.8M149.3 109.9L321.5 106M373.1 539.1L471.7 683.4M163.6 565.2L320.2 637.8M294.7 502L257.9 673.5M237.9 551.5L104.1 661.4M288.2 145.6L409.5 21.5M165 296.4L336.5 293.2M328.5 57.9L214.9 188.9M133.3 526.3L302 554.7M129.5 466.7L102.4 639.2M181.1 421.7L292.1 554.3M539.6 92.6L445.2 238M391.3 446.5L499.7 580.9M165 296.4L129.5 466.7M595.1 58.9L702 194.4"/>
<path stroke="#e7eae9" stroke-width="1.24" d="M218.7 612.3L373.1 539.1M757.8 275L589 297.1M696.9 359.4L587.6 492.4M126.7 353.2L296.2 362.7M391.3 446.5L463.4 603.5M126.7 353.2L133.3 526.3M328.5 57.9L394.2 217.5M618.2 20L706.8 167.5M154.8 250.8L181.1 421.7M495.5 103.8L448 269.4M129.5 466.7L294.7 502M288.2 145.6L154.8 250.8M237.9 551.5L401.1 594.1M168.7 308.1L336.5 293.2M302 554.7L463.4 603.5M129.5 466.7L218.7 612.3M559.6 189.3L394.2 217.5"/>
<path stroke="#e6e9e8" stroke-width="1.31" d="M361 105.3L214.9 188.9M131.8 295.7L129.5 466.7M165.5 573.4L320.2 637.8M302 554.7L420.7 674.2M457.5 16.7L619.2 56.4M174.8 101.5L295.2 218.5M162.9 116L295.2 218.5M294.7 502L453.2 552.1M149.3 109.9L213.1 266.1M174.8 101.5L213.1 266.1M155.6 358.8L133.3 526.3M587.6 492.4L463.4 603.5"/>
<path stroke="#e5e8e7" stroke-width="1.39" d="M157.8 611.1L320.2 637.8M316.9 17.1L174.8 101.5M214.2 136.1L165 296.4M587.6 492.4L569.3 659.3M288.2 195.2L296.2 362.7M569.1 333.3L630.5 488.7M185.4 115.7L131.5 273.8M468.8 651.6L630.5 677.9M701.9 510L761.7 665.8M154.8 250.8L318.2 259.5M595.6 44.8L706.8 167.5M502.8 156.5L584.2 301.5M406.9 353.5L569.1 333.3M630.5 488.7L518.4 610.1M137.1 325.8L296.2 362.7M133.3 526.3L294.7 502M316.9 17.1L185.4 115.7M257.9 673.5L401.1 594.1M257.9 673.5L420.7 674.2M288.2 195.2L168.7 308.1M322 409.3L237.9 551.5M288.2 195.2L445.2 238M502.8 156.5L589 297.1"/>
<path stroke="#e4e7e6" stroke-width="1.46" d="M149.3 109.9L288.2 195.2M409.5 21.5L502.8 156.5M321.5 106L457.5 16.7M499.7 580.9L630.5 677.9M457.5 16.7L607.7 77.4M702 194.4L696.9 359.4M448 269.4L592.4 343M174.8 101.5L143.6 263.3M149.3 109.9L131.5 273.8M765 366.1L605.5 390M133.3 526.3L292.1 554.3M292.1 554.3L453.2 552.1M373.1 539.1L518.4 610.1M559.6 189.3L667.7 311M457.5 16.7L618.2 20M295.2 218.5L448 269.4M235.3 241.5L394.2 217.5M328.5 57.9L295.2 218.5M237.9 551.5L102.4 639.2M168.7 308.1L129.5 466.7M616.4 95.8L649.1 255.9M336.5 293.2L391.3 446.5"/>
<path stroke="#e2e5e4" stroke-width="1.53" d="M328.5 57.9L174.8 101.5M143.6 263.3L181.1 421.7M214.2 136.1L318.2 259.5M288.2 195.2L143.6 263.3M102.4 639.2L257.9 673.5M235.3 241.5L144.4 374.8M162.9 116L321.5 106M471.7 683.4L630.5 677.9M630.5 488.7L499.7 580.9M434.3 328L592.4 343M214.9 188.9L336.5 293.2M470.3 111.7L619.2 56.4M619.2 56.4L702 194.4M649.1 255.9L765 366.1M321.5 106L235.3 241.5M214.2 136.1L131.5 273.8M288.2 195.2L165 296.4M320.2 637.8L471.7 683.4M539.6 92.6L692.2 51.2M295.2 218.5L143.6 263.3M702 194.4L584.2 301.5M434.3 328L589 297.1M162.9 116L131.5 273.8M165 296.4L318.2 259.5M320.2 637.8L453.2 552.1M727.4 117.6L757.8 275M168.7 308.1L318.2 259.5"/>
<path stroke="#e1e4e3" stroke-width="1.61" d="M361 105.3L318.2 259.5M569.1 333.3L587.6 492.4M453.2 552.1L569.3 659.3M727.4 117.6L649.1 255.9M470.3 111.7L448 269.4M226.7 563.2L104.1 661.4M213.1 266.1L181.1 421.7M316.9 17.1L214.2 136.1M162.9 116L213.1 266.1M445.2 238L569.1 333.3M445.2 238L589 297.1M214.9 188.9L137.1 325.8M149.3 109.9L235.3 241.5M361 105.3L445.2 238M302 554.7L157.8 611.1M104.1 661.4L257.9 673.5M765 366.1L701.9 510"/>
<path stroke="#e0e3e2" stroke-width="1.69" d="M595.1 58.9L706.8 167.5M235.3 241.5L126.7 353.2M295.2 218.5L168.7 308.1M328.5 57.9L185.4 115.7M559.6 189.3L592.4 343M136.6 54.5L214.9 188.9M131.5 273.8L181.1 421.7M129.5 466.7L127.9 622.8M144.4 374.8L296.2 362.7M445.2 238L584.2 301.5M288.2 145.6L336.5 293.2M434.3 328L584.2 301.5M502.8 156.5L619.2 56.4M605.5 390L701.9 510"/>
<path stroke="#dee1e0" stroke-width="1.77" d="M409.5 21.5L547.8 84.4M328.5 57.9L470.3 111.7M302 554.7L453.2 552.1M295.2 218.5L445.2 238M702 194.4L589 297.1M295.2 218.5L165 296.4M495.5 103.8L394.2 217.5M361 105.3L502.8 156.5M185.4 115.7L143.6 263.3M321.5 106L318.2 259.5M149.3 109.9L143.6 263.3M214.2 136.1L361 105.3M595.6 44.8L727.4 117.6M174.8 101.5L235.3 241.5M185.4 115.7L213.1 266.1M420.7 674.2L569.3 659.3M320.2 637.8L468.8 651.6M181.1 421.7L165.5 573.4M321.5 106L470.3 111.7M185.4 115.7L295.2 218.5"/>
<path stroke="#dcdfde" stroke-width="1.86" d="M559.6 189.3L706.8 167.5M144.4 374.8L133.3 526.3M226.7 563.2L373.1 539.1M607.7 77.4L702 194.4M547.8 84.4L692.2 51.2M495.5 103.8L618.2 20M409.5 21.5L539.6 92.6M592.4 343L630.5 488.7M174.8 101.5L154.8 250.8M696.9 359.4L701.9 510M162.9 116L288.2 195.2M320.2 637.8L463.4 603.5M470.3 111.7L616.4 95.8M294.7 502L165.5 573.4M174.8 101.5L321.5 106M318.2 259.5L322 409.3M587.6 492.4L453.2 552.1M165 296.4L296.2 362.7M592.4 343L587.6 492.4"/>
<path stroke="#dbdedd" stroke-width="1.96" d="M706.8 167.5L695.1 316.4M595.6 44.8L559.6 189.3M373.1 539.1L468.8 651.6M174.8 101.5L288.2 195.2M181.1 421.7L226.7 563.2M706.8 167.5L667.7 311M162.9 116L143.6 263.3M292.1 554.3L157.8 611.1M618.2 20L727.4 117.6M294.7 502L163.6 565.2M322 409.3L292.1 554.3M706.8 167.5L643.7 300.8M226.7 563.2L102.4 639.2M391.3 446.5L292.1 554.3M391.3 446.5L401.1 594.1M595.1 58.9L727.4 117.6M288.2 195.2L154.8 250.8M457.5 16.7L502.8 156.5M129.5 466.7L157.8 611.1M295.2 218.5L154.8 250.8M457.5 16.7L595.1 58.9M322 409.3L302 554.7M448 269.4L589 297.1"/>
<path stroke="#d9dcdb" stroke-width="2.05" d="M502.8 156.5L595.6 44.8M542.9 597.7L420.7 674.2M149.3 109.9L288.2 145.6M214.2 136.1L143.6 263.3M619.2 56.4L559.6 189.3M696.9 359.4L630.5 488.7M162.9 116L235.3 241.5M559.6 189.3L702 194.4M434.3 328L296.2 362.7M401.1 594.1L542.9 597.7M163.6 565.2L257.9 673.5M470.3 111.7L607.7 77.4M181.1 421.7L163.6 565.2M181.1 421.7L322 409.3M470.3 111.7L595.6 44.8M559.6 189.3L569.1 333.3M295.2 218.5L296.2 362.7M457.5 16.7L595.6 44.8"/>
<path stroke="#d7dad9" stroke-width="2.15" d="M155.6 358.8L296.2 362.7M316.9 17.1L457.5 16.7M495.5 103.8L445.2 238M373.1 539.1L420.7 674.2M692.2 51.2L702 194.4M328.5 57.9L288.2 195.2M448 269.4L584.2 301.5M288.2 145.6L213.1 266.1M235.3 241.5L155.6 358.8M619.2 56.4L706.8 167.5M294.7 502L401.1 594.1M127.9 622.8L257.9 673.5M181.1 421.7L237.9 551.5M163.6 565.2L302 554.7M391.3 446.5L302 554.7M168.7 308.1L296.2 362.7M649.1 255.9L605.5 390M181.1 421.7L294.7 502"/>
<path stroke="#d6d9d8" stroke-width="2.25" d="M137.1 325.8L129.5 466.7M630.5 488.7L542.9 597.7M149.3 109.9L154.8 250.8M165.5 573.4L302 554.7M559.6 189.3L643.7 300.8M434.3 328L322 409.3M328.5 57.9L214.2 136.1M643.7 300.8L765 366.1M322 409.3L373.1 539.1M129.5 466.7L237.9 551.5M185.4 115.7L321.5 106M559.6 189.3L448 269.4M448 269.4L569.1 333.3M296.2 362.7L294.7 502M237.9 551.5L373.1 539.1M185.4 115.7L154.8 250.8M129.5 466.7L226.7 563.2"/>
<path stroke="#d4d7d6" stroke-width="2.35" d="M133.3 526.3L104.1 661.4M294.7 502L320.2 637.8M328.5 57.9L457.5 16.7M470.3 111.7L595.1 58.9M434.3 328L569.1 333.3M165.5 573.4L257.9 673.5M361 105.3L495.5 103.8M587.6 492.4L518.4 610.1M318.2 259.5L434.3 328M321.5 106L214.9 188.9M394.2 217.5L406.9 353.5M214.9 188.9L131.8 295.7M235.3 241.5L296.2 362.7M373.1 539.1L499.7 580.9M569.3 659.3L697.6 694.6M502.8 156.5L595.1 58.9M185.4 115.7L235.3 241.5M131.8 295.7L181.1 421.7"/>
<path stroke="#d2d5d4" stroke-width="2.45" d="M607.7 77.4L706.8 167.5M595.1 58.9L559.6 189.3M495.5 103.8L619.2 56.4M162.9 116L154.8 250.8M294.7 502L218.7 612.3M630.5 677.9L761.7 665.8M321.5 106L394.2 217.5M502.8 156.5L607.7 77.4M569.1 333.3L696.9 359.4M518.4 610.1L630.5 677.9M237.9 551.5L127.9 622.8M318.2 259.5L448 269.4"/>
<path stroke="#d0d3d2" stroke-width="2.56" d="M453.2 552.1L471.7 683.4M361 105.3L457.5 16.7M163.6 565.2L292.1 554.3M616.4 95.8L702 194.4M316.9 17.1L288.2 145.6M185.4 115.7L288.2 195.2M361 105.3L295.2 218.5M181.1 421.7L296.2 362.7M445.2 238L318.2 259.5M162.9 116L288.2 145.6M470.3 111.7L394.2 217.5M235.3 241.5L137.1 325.8M502.8 156.5L616.4 95.8M165.5 573.4L292.1 554.3M318.2 259.5L406.9 353.5"/>
<path stroke="#ced1d0" stroke-width="2.67" d="M288.2 145.6L394.2 217.5M214.2 136.1L213.1 266.1M695.1 316.4L569.1 333.3M214.2 136.1L154.8 250.8M213.1 266.1L144.4 374.8M213.1 266.1L336.5 293.2M584.2 301.5L696.9 359.4M470.3 111.7L445.2 238M607.7 77.4L727.4 117.6M213.1 266.1L296.2 362.7M296.2 362.7L391.3 446.5M214.9 188.9L168.7 308.1"/>
<path stroke="#cccfce" stroke-width="2.78" d="M302 554.7L257.9 673.5M218.7 612.3L104.1 661.4M214.9 188.9L318.2 259.5M559.6 189.3L445.2 238M589 297.1L696.9 359.4M502.8 156.5L394.2 217.5M453.2 552.1L420.7 674.2M619.2 56.4L727.4 117.6M434.3 328L391.3 446.5M165 296.4L181.1 421.7M587.6 492.4L499.7 580.9M502.8 156.5L448 269.4"/>
<path stroke="#c9cccb" stroke-width="2.92" d="M154.8 250.8L144.4 374.8M292.1 554.3L257.9 673.5M445.2 238L336.5 293.2M213.1 266.1L126.7 353.2M174.8 101.5L288.2 145.6M495.5 103.8L616.4 95.8M237.9 551.5L257.9 673.5M321.5 106L409.5 21.5M499.7 580.9L420.7 674.2M391.3 446.5L453.2 552.1M133.3 526.3L218.7 612.3M607.7 77.4L559.6 189.3M702 194.4L695.1 316.4"/>
<path stroke="#c7cac9" stroke-width="3.07" d="M702 194.4L643.7 300.8M445.2 238L406.9 353.5M218.7 612.3L102.4 639.2M463.4 603.5L569.3 659.3M702 194.4L667.7 311M226.7 563.2L320.2 637.8M401.1 594.1L518.4 610.1M237.9 551.5L320.2 637.8M409.5 21.5L495.5 103.8M214.9 188.9L131.5 273.8M542.9 597.7L630.5 677.9M157.8 611.1L257.9 673.5M470.3 111.7L559.6 189.3M757.8 275L643.7 300.8M706.8 167.5L757.8 275"/>
<path stroke="#c4c7c6" stroke-width="3.22" d="M214.9 188.9L165 296.4M235.3 241.5L131.8 295.7M518.4 610.1L420.7 674.2M292.1 554.3L401.1 594.1M587.6 492.4L701.9 510M495.5 103.8L595.6 44.8M288.2 145.6L318.2 259.5M394.2 217.5L434.3 328M495.5 103.8L607.7 77.4M695.1 316.4L605.5 390M226.7 563.2L127.9 622.8M692.2 51.2L706.8 167.5M133.3 526.3L102.4 639.2M361 105.3L394.2 217.5M336.5 293.2L322 409.3M616.4 95.8L706.8 167.5M214.2 136.1L295.2 218.5M361 105.3L288.2 195.2"/>
<path stroke="#c1c4c3" stroke-width="3.38" d="M448 269.4L336.5 293.2M235.3 241.5L336.5 293.2M321.5 106L295.2 218.5M616.4 95.8L727.4 117.6M181.1 421.7L133.3 526.3M559.6 189.3L584.2 301.5M401.1 594.1L471.7 683.4M226.7 563.2L257.9 673.5M587.6 492.4L542.9 597.7M457.5 16.7L547.8 84.4M649.1 255.9L696.9 359.4M584.2 301.5L695.1 316.4M168.7 308.1L181.1 421.7M163.6 565.2L104.1 661.4M136.6 54.5L214.2 136.1M214.2 136.1L321.5 106"/>
<path stroke="#bec1c0" stroke-width="3.55" d="M667.7 311L765 366.1M406.9 353.5L296.2 362.7M126.7 353.2L129.5 466.7M391.3 446.5L294.7 502M559.6 189.3L649.1 255.9M457.5 16.7L539.6 92.6M129.5 466.7L165.5 573.4M649.1 255.9L757.8 275M649.1 255.9L569.1 333.3M373.1 539.1L463.4 603.5M320.2 637.8L373.1 539.1M542.9 597.7L471.7 683.4M361 105.3L470.3 111.7M559.6 189.3L589 297.1M143.6 263.3L144.4 374.8M495.5 103.8L595.1 58.9M155.6 358.8L129.5 466.7"/>
<path stroke="#bbbebd" stroke-width="3.71" d="M235.3 241.5L131.5 273.8M288.2 195.2L394.2 217.5M589 297.1L695.1 316.4M288.2 145.6L235.3 241.5M616.4 95.8L559.6 189.3M133.3 526.3L237.9 551.5M213.1 266.1L155.6 358.8M288.2 195.2L336.5 293.2M409.5 21.5L470.3 111.7M185.4 115.7L288.2 145.6M320.2 637.8L420.7 674.2M302 554.7L401.1 594.1M695.1 316.4L592.4 343M539.6 92.6L618.2 20"/>
<path stroke="#b7bab9" stroke-width="3.88" d="M592.4 343L696.9 359.4M165.5 573.4L104.1 661.4M154.8 250.8L155.6 358.8M495.5 103.8L559.6 189.3M213.1 266.1L318.2 259.5M214.2 136.1L235.3 241.5M218.7 612.3L320.2 637.8M499.7 580.9L471.7 683.4M154.8 250.8L126.7 353.2M706.8 167.5L649.1 255.9M137.1 325.8L181.1 421.7M336.5 293.2L434.3 328M499.7 580.9L569.3 659.3M318.2 259.5L296.2 362.7M547.8 84.4L559.6 189.3"/>
<path stroke="#b4b7b6" stroke-width="4.06" d="M757.8 275L696.9 359.4M649.1 255.9L592.4 343M288.2 195.2L213.1 266.1M129.5 466.7L163.6 565.2M214.9 188.9L143.6 263.3M605.5 390L587.6 492.4M149.3 109.9L214.9 188.9M667.7 311L569.1 333.3M406.9 353.5L322 409.3M468.8 651.6L569.3 659.3M302 554.7L218.7 612.3"/>
<path stroke="#b1b4b3" stroke-width="4.24" d="M471.7 683.4L569.3 659.3M453.2 552.1L542.9 597.7M133.3 526.3L226.7 563.2M605.5 390L630.5 488.7M131.5 273.8L144.4 374.8M401.1 594.1L499.7 580.9M667.7 311L605.5 390M237.9 551.5L157.8 611.1M295.2 218.5L394.2 217.5M453.2 552.1L468.8 651.6M502.8 156.5L445.2 238"/>
<path stroke="#adb0af" stroke-width="4.42" d="M595.1 58.9L692.2 51.2M316.9 17.1L361 105.3M595.6 44.8L692.2 51.2M757.8 275L667.7 311M539.6 92.6L559.6 189.3M702 194.4L757.8 275M696.9 359.4L605.5 390M213.1 266.1L137.1 325.8M643.7 300.8L605.5 390M361 105.3L409.5 21.5"/>
<path stroke="#aaadac" stroke-width="4.61" d="M163.6 565.2L102.4 639.2M328.5 57.9L288.2 145.6M322 409.3L294.7 502M133.3 526.3L127.9 622.8M547.8 84.4L618.2 20M174.8 101.5L214.9 188.9M295.2 218.5L213.1 266.1M143.6 263.3L155.6 358.8M235.3 241.5L143.6 263.3M214.2 136.1L288.2 195.2M394.2 217.5L336.5 293.2M457.5 16.7L470.3 111.7M321.5 106L288.2 195.2M457.5 16.7L495.5 103.8M235.3 241.5L168.7 308.1M292.1 554.3L218.7 612.3M316.9 17.1L409.5 21.5"/>
<path stroke="#a6a9a8" stroke-width="4.81" d="M391.3 446.5L373.1 539.1M589 297.1L605.5 390M406.9 353.5L391.3 446.5M448 269.4L406.9 353.5M336.5 293.2L406.9 353.5M320.2 637.8L401.1 594.1M218.7 612.3L127.9 622.8M144.4 374.8L129.5 466.7M542.9 597.7L468.8 651.6M294.7 502L226.7 563.2M165.5 573.4L102.4 639.2"/>
<path stroke="#a2a5a4" stroke-width="5.00" d="M143.6 263.3L126.7 353.2M757.8 275L765 366.1M584.2 301.5L605.5 390M445.2 238L434.3 328M328.5 57.9L409.5 21.5M235.3 241.5L165 296.4M607.7 77.4L692.2 51.2M162.9 116L214.9 188.9M401.1 594.1L468.8 651.6M616.4 95.8L692.2 51.2"/>
<path stroke="#9ea1a0" stroke-width="5.21" d="M539.6 92.6L619.2 56.4M316.9 17.1L321.5 106M131.5 273.8L155.6 358.8M133.3 526.3L157.8 611.1M453.2 552.1L518.4 610.1M394.2 217.5L318.2 259.5M294.7 502L373.1 539.1M292.1 554.3L320.2 637.8M213.1 266.1L131.8 295.7M126.7 353.2L181.1 421.7M518.4 610.1L471.7 683.4M214.9 188.9L295.2 218.5M214.9 188.9L154.8 250.8M695.1 316.4L765 366.1M235.3 241.5L318.2 259.5M288.2 145.6L214.9 188.9"/>
<path stroke="#9a9d9c" stroke-width="5.41" d="M584.2 301.5L667.7 311M295.2 218.5L336.5 293.2M547.8 84.4L502.8 156.5M226.7 563.2L157.8 611.1M302 554.7L320.2 637.8M288.2 145.6L361 105.3M292.1 554.3L373.1 539.1M470.3 111.7L547.8 84.4M131.5 273.8L213.1 266.1"/>
<path stroke="#969998" stroke-width="5.62" d="M667.7 311L592.4 343M463.4 603.5L420.7 674.2M373.1 539.1L453.2 552.1M643.7 300.8L569.1 333.3M235.3 241.5L154.8 250.8M401.1 594.1L420.7 674.2M702 194.4L649.1 255.9M618.2 20L692.2 51.2M589 297.1L667.7 311M463.4 603.5L542.9 597.7M165 296.4L144.4 374.8M727.4 117.6L702 194.4"/>
<path stroke="#959595" stroke-width="5.82" d="M336.5 293.2L296.2 362.7M649.1 255.9L584.2 301.5M463.4 603.5L471.7 683.4M131.8 295.7L144.4 374.8M322 409.3L391.3 446.5M643.7 300.8L696.9 359.4M131.5 273.8L126.7 353.2M185.4 115.7L214.9 188.9M136.6 54.5L185.4 115.7M539.6 92.6L616.4 95.8M547.8 84.4L619.2 56.4"/>
<path stroke="#919191" stroke-width="6.02" d="M226.7 563.2L302 554.7M499.7 580.9L468.8 651.6M214.9 188.9L213.1 266.1M165.5 573.4L237.9 551.5M163.6 565.2L237.9 551.5M154.8 250.8L137.1 325.8M649.1 255.9L695.1 316.4M757.8 275L695.1 316.4M294.7 502L237.9 551.5M214.2 136.1L288.2 145.6M630.5 488.7L701.9 510M618.2 20L616.4 95.8M394.2 217.5L448 269.4M692.2 51.2L727.4 117.6"/>
<path stroke="#8d8d8d" stroke-width="6.22" d="M214.9 188.9L288.2 195.2M619.2 56.4L692.2 51.2M539.6 92.6L595.6 44.8M157.8 611.1L104.1 661.4M302 554.7L373.1 539.1M539.6 92.6L502.8 156.5M649.1 255.9L589 297.1M163.6 565.2L218.7 612.3M470.3 111.7L539.6 92.6M288.2 145.6L295.2 218.5M218.7 612.3L257.9 673.5M257.9 673.5L320.2 637.8"/>
<path stroke="#898989" stroke-width="6.43" d="M518.4 610.1L569.3 659.3M697.6 694.6L761.7 665.8M149.3 109.9L214.2 136.1M539.6 92.6L607.7 77.4M288.2 195.2L318.2 259.5M288.2 195.2L235.3 241.5M168.7 308.1L144.4 374.8M143.6 263.3L213.1 266.1M547.8 84.4L616.4 95.8M630.5 677.9L697.6 694.6M696.9 359.4L765 366.1"/>
<path stroke="#858585" stroke-width="6.64" d="M181.1 421.7L129.5 466.7M165 296.4L126.7 353.2M163.6 565.2L127.9 622.8M155.6 358.8L181.1 421.7M453.2 552.1L401.1 594.1M569.1 333.3L605.5 390M131.8 295.7L155.6 358.8M226.7 563.2L292.1 554.3M643.7 300.8L592.4 343M542.9 597.7L569.3 659.3"/>
<path stroke="#818181" stroke-width="6.85" d="M136.6 54.5L162.9 116M165.5 573.4L218.7 612.3M502.8 156.5L559.6 189.3M539.6 92.6L595.1 58.9M237.9 551.5L302 554.7M518.4 610.1L468.8 651.6M295.2 218.5L235.3 241.5M569.3 659.3L630.5 677.9M163.6 565.2L226.7 563.2"/>
<path stroke="#7c7c7c" stroke-width="7.07" d="M401.1 594.1L463.4 603.5M237.9 551.5L218.7 612.3M165.5 573.4L226.7 563.2M157.8 611.1L102.4 639.2M165 296.4L155.6 358.8M547.8 84.4L595.6 44.8M143.6 263.3L137.1 325.8M165.5 573.4L127.9 622.8M157.8 611.1L218.7 612.3M168.7 308.1L126.7 353.2M373.1 539.1L401.1 594.1M213.1 266.1L168.7 308.1"/>
<path stroke="#787878" stroke-width="7.29" d="M547.8 84.4L607.7 77.4M154.8 250.8L213.1 266.1M136.6 54.5L174.8 101.5M584.2 301.5L643.7 300.8M448 269.4L434.3 328M144.4 374.8L181.1 421.7M129.5 466.7L133.3 526.3M154.8 250.8L168.7 308.1"/>
<path stroke="#747474" stroke-width="7.51" d="M618.2 20L607.7 77.4M649.1 255.9L667.7 311M328.5 57.9L361 105.3M213.1 266.1L165 296.4M131.8 295.7L126.7 353.2M133.3 526.3L165.5 573.4M136.6 54.5L149.3 109.9M495.5 103.8L547.8 84.4M667.7 311L696.9 359.4M463.4 603.5L518.4 610.1M214.9 188.9L235.3 241.5"/>
<path stroke="#6f6f6f" stroke-width="7.74" d="M162.9 116L214.2 136.1M589 297.1L643.7 300.8M394.2 217.5L445.2 238M470.3 111.7L502.8 156.5M453.2 552.1L499.7 580.9M237.9 551.5L292.1 554.3M595.6 44.8L616.4 95.8M643.7 300.8L695.1 316.4M547.8 84.4L595.1 58.9M727.4 117.6L706.8 167.5M468.8 651.6L420.7 674.2M296.2 362.7L322 409.3"/>
<path stroke="#6b6b6b" stroke-width="7.97" d="M294.7 502L302 554.7M495.5 103.8L502.8 156.5M174.8 101.5L214.2 136.1M420.7 674.2L471.7 683.4M214.2 136.1L214.9 188.9M453.2 552.1L463.4 603.5M168.7 308.1L155.6 358.8M294.7 502L292.1 554.3M131.5 273.8L137.1 325.8M288.2 145.6L321.5 106M143.6 263.3L168.7 308.1M131.5 273.8L168.7 308.1"/>
<path stroke="#666666" stroke-width="8.21" d="M154.8 250.8L131.8 295.7M226.7 563.2L218.7 612.3M133.3 526.3L163.6 565.2M288.2 145.6L288.2 195.2M137.1 325.8L144.4 374.8M409.5 21.5L457.5 16.7M592.4 343L605.5 390M328.5 57.9L321.5 106M463.4 603.5L468.8 651.6"/>
<path stroke="#626262" stroke-width="8.45" d="M295.2 218.5L318.2 259.5M499.7 580.9L542.9 597.7M154.8 250.8L165 296.4M495.5 103.8L539.6 92.6M163.6 565.2L157.8 611.1M589 297.1L592.4 343M127.9 622.8L104.1 661.4M618.2 20L595.1 58.9M649.1 255.9L643.7 300.8"/>
<path stroke="#5d5d5d" stroke-width="8.69" d="M587.6 492.4L630.5 488.7M463.4 603.5L499.7 580.9M695.1 316.4L696.9 359.4M595.1 58.9L616.4 95.8M316.9 17.1L328.5 57.9"/>
<path stroke="#585858" stroke-width="8.93" d="M584.2 301.5L592.4 343M589 297.1L569.1 333.3M131.5 273.8L165 296.4M165 296.4L137.1 325.8M321.5 106L361 105.3"/>
<path stroke="#535353" stroke-width="9.18" d="M131.8 295.7L168.7 308.1M143.6 263.3L165 296.4M619.2 56.4L616.4 95.8M318.2 259.5L336.5 293.2M165.5 573.4L157.8 611.1M137.1 325.8L155.6 358.8M434.3 328L406.9 353.5M149.3 109.9L185.4 115.7"/>
<path stroke="#4e4e4e" stroke-width="9.44" d="M168.7 308.1L137.1 325.8M618.2 20L619.2 56.4M185.4 115.7L214.2 136.1M584.2 301.5L569.1 333.3M499.7 580.9L518.4 610.1M595.6 44.8L607.7 77.4M143.6 263.3L131.8 295.7"/>
<path stroke="#494949" stroke-width="9.69" d="M131.8 295.7L165 296.4M618.2 20L595.6 44.8M235.3 241.5L213.1 266.1M154.8 250.8L131.5 273.8M157.8 611.1L127.9 622.8M468.8 651.6L471.7 683.4M445.2 238L448 269.4"/>
<path stroke="#444444" stroke-width="9.95" d="M127.9 622.8L102.4 639.2M131.8 295.7L137.1 325.8M126.7 353.2L155.6 358.8M137.1 325.8L126.7 353.2"/>
<path stroke="#3f3f3f" stroke-width="10.21" d="M667.7 311L695.1 316.4M126.7 353.2L144.4 374.8M518.4 610.1L542.9 597.7M174.8 101.5L149.3 109.9M706.8 167.5L702 194.4M470.3 111.7L495.5 103.8M595.6 44.8L619.2 56.4M643.7 300.8L667.7 311"/>
<path stroke="#3b3b3b" stroke-width="10.47" d="M569.1 333.3L592.4 343M595.1 58.9L619.2 56.4M288.2 195.2L295.2 218.5M619.2 56.4L607.7 77.4"/>
<path stroke="#3b3b3b" stroke-width="10.74" d="M162.9 116L185.4 115.7M595.1 58.9L607.7 77.4M102.4 639.2L104.1 661.4M131.5 273.8L131.8 295.7"/>
<path stroke="#3b3b3b" stroke-width="11.01" d="M607.7 77.4L616.4 95.8M155.6 358.8L144.4 374.8M162.9 116L174.8 101.5M174.8 101.5L185.4 115.7"/>
<path stroke="#3b3b3b" stroke-width="11.28" d="M143.6 263.3L154.8 250.8M237.9 551.5L226.7 563.2M143.6 263.3L131.5 273.8M162.9 116L149.3 109.9"/>
<path stroke="#3b3b3b" stroke-width="11.46" d="M595.1 58.9L595.6 44.8"/>
<path stroke="#3b3b3b" stroke-width="11.62" d="M165 296.4L168.7 308.1M539.6 92.6L547.8 84.4M302 554.7L292.1 554.3"/>
<path stroke="#3b3b3b" stroke-width="11.74" d="M163.6 565.2L165.5 573.4"/>
<path stroke="#3b3b3b" stroke-width="11.82" d="M589 297.1L584.2 301.5"/>
</g>
<g fill="#f0b409" stroke="#b8860f" stroke-width="2.2">
<circle cx="136.6" cy="54.5" r="9"/>
<circle cx="316.9" cy="17.1" r="9"/>
<circle cx="328.5" cy="57.9" r="9"/>
<circle cx="162.9" cy="116" r="9"/>
<circle cx="174.8" cy="101.5" r="9"/>
<circle cx="149.3" cy="109.9" r="9"/>
<circle cx="185.4" cy="115.7" r="9"/>
<circle cx="214.2" cy="136.1" r="9"/>
<circle cx="288.2" cy="145.6" r="9"/>
<circle cx="321.5" cy="106" r="9"/>
<circle cx="361" cy="105.3" r="9"/>
<circle cx="214.9" cy="188.9" r="9"/>
<circle cx="288.2" cy="195.2" r="9"/>
<circle cx="295.2" cy="218.5" r="9"/>
</g>
<g fill="#3279be" stroke="#1c4a7e" stroke-width="2.2">
<circle cx="409.5" cy="21.5" r="9"/>
<circle cx="457.5" cy="16.7" r="9"/>
<circle cx="470.3" cy="111.7" r="9"/>
<circle cx="495.5" cy="103.8" r="9"/>
<circle cx="539.6" cy="92.6" r="9"/>
<circle cx="547.8" cy="84.4" r="9"/>
<circle cx="502.8" cy="156.5" r="9"/>
<circle cx="618.2" cy="20" r="9"/>
<circle cx="595.1" cy="58.9" r="9"/>
<circle cx="595.6" cy="44.8" r="9"/>
<circle cx="619.2" cy="56.4" r="9"/>
<circle cx="607.7" cy="77.4" r="9"/>
<circle cx="616.4" cy="95.8" r="9"/>
<circle cx="692.2" cy="51.2" r="9"/>
<circle cx="727.4" cy="117.6" r="9"/>
<circle cx="559.6" cy="189.3" r="9"/>
</g>
<g fill="#7fb81b" stroke="#517d16" stroke-width="2.2">
<circle cx="235.3" cy="241.5" r="9"/>
<circle cx="143.6" cy="263.3" r="9"/>
<circle cx="154.8" cy="250.8" r="9"/>
<circle cx="131.5" cy="273.8" r="9"/>
<circle cx="213.1" cy="266.1" r="9"/>
<circle cx="131.8" cy="295.7" r="9"/>
<circle cx="165" cy="296.4" r="9"/>
<circle cx="168.7" cy="308.1" r="9"/>
<circle cx="137.1" cy="325.8" r="9"/>
<circle cx="126.7" cy="353.2" r="9"/>
<circle cx="155.6" cy="358.8" r="9"/>
<circle cx="144.4" cy="374.8" r="9"/>
<circle cx="181.1" cy="421.7" r="9"/>
</g>
<g fill="#7ec6e8" stroke="#3a86a8" stroke-width="2.2">
<circle cx="394.2" cy="217.5" r="9"/>
<circle cx="445.2" cy="238" r="9"/>
<circle cx="318.2" cy="259.5" r="9"/>
<circle cx="448" cy="269.4" r="9"/>
<circle cx="336.5" cy="293.2" r="9"/>
<circle cx="434.3" cy="328" r="9"/>
<circle cx="406.9" cy="353.5" r="9"/>
<circle cx="296.2" cy="362.7" r="9"/>
<circle cx="322" cy="409.3" r="9"/>
<circle cx="391.3" cy="446.5" r="9"/>
</g>
<g fill="#a51d2d" stroke="#6e1420" stroke-width="2.2">
<circle cx="706.8" cy="167.5" r="9"/>
<circle cx="702" cy="194.4" r="9"/>
<circle cx="649.1" cy="255.9" r="9"/>
<circle cx="757.8" cy="275" r="9"/>
<circle cx="589" cy="297.1" r="9"/>
<circle cx="584.2" cy="301.5" r="9"/>
<circle cx="643.7" cy="300.8" r="9"/>
<circle cx="667.7" cy="311" r="9"/>
<circle cx="695.1" cy="316.4" r="9"/>
<circle cx="569.1" cy="333.3" r="9"/>
<circle cx="592.4" cy="343" r="9"/>
<circle cx="696.9" cy="359.4" r="9"/>
<circle cx="765" cy="366.1" r="9"/>
<circle cx="605.5" cy="390" r="9"/>
<circle cx="587.6" cy="492.4" r="9"/>
<circle cx="630.5" cy="488.7" r="9"/>
<circle cx="701.9" cy="510" r="9"/>
</g>
<g fill="#dc4f0f" stroke="#9c3712" stroke-width="2.2">
<circle cx="129.5" cy="466.7" r="9"/>
<circle cx="133.3" cy="526.3" r="9"/>
<circle cx="294.7" cy="502" r="9"/>
<circle cx="163.6" cy="565.2" r="9"/>
<circle cx="165.5" cy="573.4" r="9"/>
<circle cx="237.9" cy="551.5" r="9"/>
<circle cx="226.7" cy="563.2" r="9"/>
<circle cx="302" cy="554.7" r="9"/>
<circle cx="292.1" cy="554.3" r="9"/>
<circle cx="157.8" cy="611.1" r="9"/>
<circle cx="218.7" cy="612.3" r="9"/>
<circle cx="127.9" cy="622.8" r="9"/>
<circle cx="102.4" cy="639.2" r="9"/>
<circle cx="104.1" cy="661.4" r="9"/>
<circle cx="257.9" cy="673.5" r="9"/>
<circle cx="320.2" cy="637.8" r="9"/>
</g>
<g fill="#8a1ca8" stroke="#4f1461" stroke-width="2.2">
<circle cx="373.1" cy="539.1" r="9"/>
<circle cx="453.2" cy="552.1" r="9"/>
<circle cx="401.1" cy="594.1" r="9"/>
<circle cx="463.4" cy="603.5" r="9"/>
<circle cx="499.7" cy="580.9" r="9"/>
<circle cx="518.4" cy="610.1" r="9"/>
<circle cx="542.9" cy="597.7" r="9"/>
<circle cx="468.8" cy="651.6" r="9"/>
<circle cx="420.7" cy="674.2" r="9"/>
<circle cx="471.7" cy="683.4" r="9"/>
<circle cx="569.3" cy="659.3" r="9"/>
<circle cx="630.5" cy="677.9" r="9"/>
<circle cx="697.6" cy="694.6" r="9"/>
<circle cx="761.7" cy="665.8" r="9"/>
</g>
<text x="87.29" y="722.20" font-size="23.3" textLength="14.08" lengthAdjust="spacingAndGlyphs">5</text>
<text x="220.78" y="722.20" font-size="23.3" textLength="14.46" lengthAdjust="spacingAndGlyphs">6</text>
<text x="355.19" y="722.20" font-size="23.3" textLength="14.19" lengthAdjust="spacingAndGlyphs">7</text>
<text x="488.99" y="722.20" font-size="23.3" textLength="14.22" lengthAdjust="spacingAndGlyphs">8</text>
<text x="622.90" y="722.20" font-size="23.3" textLength="14.21" lengthAdjust="spacingAndGlyphs">9</text>
<text x="751.37" y="722.20" font-size="23.3" textLength="25.32" lengthAdjust="spacingAndGlyphs">10</text>
<text x="74.40" y="703.20" font-size="23.3" textLength="13.84" lengthAdjust="spacingAndGlyphs">5</text>
<text x="74.10" y="566.14" font-size="23.3" textLength="14.22" lengthAdjust="spacingAndGlyphs">6</text>
<text x="74.07" y="429.08" font-size="23.3" textLength="14.44" lengthAdjust="spacingAndGlyphs">7</text>
<text x="74.31" y="292.02" font-size="23.3" textLength="13.99" lengthAdjust="spacingAndGlyphs">8</text>
<text x="74.20" y="154.96" font-size="23.3" textLength="14.21" lengthAdjust="spacingAndGlyphs">9</text>
<text x="60.18" y="17.90" font-size="23.3" textLength="25.10" lengthAdjust="spacingAndGlyphs">10</text>
<text x="355.79" y="759.50" font-size="34" textLength="155.68" lengthAdjust="spacingAndGlyphs">Longitude</text>
<text transform="translate(38.20 374.80) rotate(-90)" x="-2.91" y="0" font-size="34" textLength="126.08" lengthAdjust="spacingAndGlyphs">Latitude</text>
<text x="729.79" y="57.70" font-size="35" textLength="15.81" lengthAdjust="spacingAndGlyphs">a</text>
</g>
<g id="pb">
<g fill="none" stroke="#3d3d3b" stroke-width="5.4"><rect x="964" y="9.8" width="670.3" height="685.4"/><path d="M1098.1 695.2v-9.7M1098.1 9.8v9.7M1232.1 695.2v-9.7M1232.1 9.8v9.7M1366.2 695.2v-9.7M1366.2 9.8v9.7M1500.2 695.2v-9.7M1500.2 9.8v9.7M964 626.7h9.7M1634.3 626.7h-9.7M964 558.1h9.7M1634.3 558.1h-9.7M964 489.6h9.7M1634.3 489.6h-9.7M964 421h9.7M1634.3 421h-9.7M964 352.5h9.7M1634.3 352.5h-9.7M964 284h9.7M1634.3 284h-9.7M964 215.4h9.7M1634.3 215.4h-9.7M964 146.9h9.7M1634.3 146.9h-9.7M964 78.3h9.7M1634.3 78.3h-9.7"/></g>
<path fill="none" stroke="#2e75bc" stroke-width="5.7" stroke-linecap="round" d="M973 23.5h0M974 24h0M974.5 28.5h0M975 31.5h0M975.5 30.5h0M975.5 34.5h0M977 37h0M978 48h0M978.5 43h0M978.5 43.5h0M979.5 50h0M980.5 57.5h0M981.5 55h0M981.5 58h0M981.5 59.5h0M982 57.5h0M982 58.5h0M982 67.5h0M983 52.5h0M983 66.5h0M983.5 63.5h0M984.5 69h0M984.5 71.5h0M985 75.5h0M986 77.5h0M987.5 77h0M987.5 80.5h0M987.5 81h0M988.5 82.5h0M988.5 89h0M988.5 94h0M989 92.5h0M989.5 91.5h0M989.5 96h0M990 85h0M990 91h0M990 96.5h0M990.5 95.5h0M990.5 101h0M991 100.5h0M991 101.5h0M991 103h0M991.5 99.5h0M992 104.5h0M992.5 100h0M992.5 101.5h0M992.5 102h0M992.5 105.5h0M993 105.5h0M993 107.5h0M993 115.5h0M993.5 103.5h0M993.5 114.5h0M994 109.5h0M994 110.5h0M994 111.5h0M994 115h0M994.5 112h0M994.5 113.5h0M995 119h0M995.5 111h0M995.5 118h0M995.5 119h0M995.5 122.5h0M996 117h0M996 118h0M996.5 119.5h0M996.5 128.5h0M997 123.5h0M997.5 123.5h0M998 130h0M998.5 125.5h0M998.5 128h0M998.5 128.5h0M998.5 135.5h0M998.5 137.5h0M999 130h0M999 135h0M999 135.5h0M999.5 136h0M1000 132h0M1000 133.5h0M1000 134h0M1000.5 136h0M1000.5 151.5h0M1001 132.5h0M1001 138h0M1001 140h0M1002 144h0M1003 146h0M1003 149.5h0M1003 150.5h0M1003 151h0M1003 153h0M1003 158.5h0M1003.5 142h0M1003.5 153.5h0M1003.5 155h0M1004 148h0M1004 149.5h0M1004.5 153.5h0M1004.5 156.5h0M1004.5 158.5h0M1004.5 159h0M1005 161h0M1005 162h0M1005 164h0M1005 171h0M1005.5 156.5h0M1005.5 157h0M1005.5 158h0M1005.5 159h0M1005.5 159.5h0M1006 162.5h0M1006 166.5h0M1006 168h0M1006 168.5h0M1006.5 165.5h0M1007 164.5h0M1007 170h0M1007.5 164.5h0M1007.5 165h0M1007.5 171h0M1007.5 173h0M1008 172h0M1008 174.5h0M1008.5 175.5h0M1008.5 176h0M1008.5 178.5h0M1009 171h0M1009 172.5h0M1009 173.5h0M1009 174.5h0M1009 180.5h0M1009 181.5h0M1009.5 173h0M1009.5 176.5h0M1010 179h0M1010.5 182h0M1010.5 186.5h0M1011 183.5h0M1011.5 185.5h0M1011.5 198h0M1012 178h0M1012 185.5h0M1012 192h0M1012 200h0M1012.5 184.5h0M1012.5 189h0M1012.5 190h0M1013 191h0M1013 192h0M1013 193.5h0M1013 196h0M1013.5 190h0M1013.5 191h0M1013.5 191.5h0M1013.5 196.5h0M1014 195.5h0M1014.5 192.5h0M1014.5 202h0M1015 200h0M1015 202.5h0M1015.5 202.5h0M1015.5 205.5h0M1015.5 209.5h0M1016 195.5h0M1016 203h0M1016 207h0M1016 207.5h0M1016 208h0M1016 209h0M1016 210h0M1016 211h0M1016 212.5h0M1016.5 206h0M1016.5 210h0M1016.5 211.5h0M1017 210.5h0M1017 213h0M1017 214.5h0M1017 216.5h0M1017.5 207h0M1017.5 209h0M1017.5 210.5h0M1017.5 213h0M1017.5 220.5h0M1018 220.5h0M1018.5 212h0M1019 216.5h0M1019 217.5h0M1019 218h0M1019 220.5h0M1019 221.5h0M1019.5 213h0M1019.5 222.5h0M1019.5 230.5h0M1020 223h0M1020 223.5h0M1020 225h0M1020.5 223.5h0M1020.5 235.5h0M1021 230h0M1021.5 238h0M1022 222.5h0M1022 230h0M1022 230.5h0M1022 235h0M1022 237.5h0M1022 240h0M1022 241h0M1022.5 231h0M1022.5 233h0M1022.5 234.5h0M1022.5 235.5h0M1022.5 239h0M1022.5 240h0M1022.5 240.5h0M1022.5 248.5h0M1023 228.5h0M1023 231.5h0M1023 241h0M1023 241.5h0M1023 242h0M1023 245.5h0M1023.5 239h0M1023.5 245h0M1023.5 249h0M1024 239.5h0M1024 246.5h0M1024.5 243.5h0M1024.5 249.5h0M1024.5 251h0M1024.5 252h0M1024.5 252.5h0M1025 237.5h0M1025 249.5h0M1025 262h0M1025.5 237.5h0M1025.5 244.5h0M1025.5 252h0M1025.5 253h0M1025.5 254.5h0M1026 256.5h0M1026 258.5h0M1026.5 252.5h0M1026.5 258.5h0M1027 250.5h0M1027 254.5h0M1027 256h0M1027 265.5h0M1027.5 255.5h0M1027.5 258h0M1027.5 258.5h0M1027.5 259.5h0M1027.5 261.5h0M1027.5 263.5h0M1027.5 264.5h0M1028 258.5h0M1028 261.5h0M1028 267h0M1028 268.5h0M1028 275h0M1028.5 264.5h0M1028.5 265h0M1028.5 268h0M1028.5 271.5h0M1029 267h0M1029 275.5h0M1029.5 258.5h0M1029.5 266h0M1029.5 269.5h0M1029.5 272h0M1029.5 273.5h0M1029.5 277h0M1029.5 286h0M1030 265h0M1030 267h0M1030 276h0M1030.5 270h0M1030.5 272h0M1030.5 273.5h0M1030.5 278h0M1030.5 279.5h0M1031 275h0M1031 281h0M1031 293h0M1031.5 276.5h0M1031.5 279h0M1031.5 280h0M1031.5 282h0M1031.5 284h0M1031.5 284.5h0M1031.5 286.5h0M1031.5 287h0M1031.5 293.5h0M1032 279h0M1032 279.5h0M1032 286h0M1032 287.5h0M1032 288.5h0M1032.5 281h0M1032.5 282.5h0M1032.5 286.5h0M1033 282h0M1033 289h0M1033 290.5h0M1033.5 285h0M1033.5 287h0M1033.5 289h0M1033.5 295h0M1034 292h0M1034.5 286.5h0M1034.5 287.5h0M1034.5 292h0M1034.5 300.5h0M1034.5 306.5h0M1035 286.5h0M1035 289h0M1035 294.5h0M1035 295h0M1035 297.5h0M1035 298h0M1035 299h0M1035.5 286.5h0M1035.5 292h0M1035.5 294.5h0M1035.5 295h0M1035.5 295.5h0M1035.5 296h0M1035.5 296.5h0M1035.5 299.5h0M1035.5 300h0M1036 297h0M1036 307h0M1036 311.5h0M1036.5 301h0M1036.5 308h0M1037 295h0M1037 301.5h0M1037 306h0M1037 316h0M1037.5 302.5h0M1037.5 305h0M1037.5 308.5h0M1037.5 313.5h0M1038 310h0M1038 310.5h0M1038 311h0M1038 311.5h0M1038 314h0M1038 314.5h0M1038 315.5h0M1038.5 310.5h0M1038.5 313h0M1038.5 313.5h0M1038.5 320.5h0M1038.5 321h0M1038.5 322.5h0M1039 310.5h0M1039 311h0M1039 316h0M1039 321h0M1039.5 319h0M1039.5 319.5h0M1039.5 329h0M1040 316h0M1040 321h0M1040 324h0M1040 328.5h0M1040.5 309.5h0M1040.5 315h0M1040.5 315.5h0M1040.5 316h0M1040.5 322h0M1041 325h0M1041 333h0M1041.5 320.5h0M1041.5 321.5h0M1041.5 331.5h0M1041.5 333.5h0M1042 325.5h0M1042 328.5h0M1042 332h0M1042 337.5h0M1042.5 330.5h0M1042.5 334h0M1043 327h0M1043 328h0M1043 340.5h0M1043.5 329h0M1043.5 333.5h0M1043.5 334h0M1043.5 339.5h0M1043.5 341h0M1043.5 343h0M1044 340h0M1044 347h0M1044 350.5h0M1044.5 334h0M1044.5 340h0M1044.5 341.5h0M1044.5 344h0M1044.5 346h0M1045 334h0M1045 337h0M1045 337.5h0M1045 341h0M1045 342h0M1045 344.5h0M1045 347h0M1045 350h0M1045 354.5h0M1045.5 339.5h0M1045.5 341.5h0M1045.5 343.5h0M1045.5 345h0M1045.5 347h0M1045.5 347.5h0M1045.5 348.5h0M1045.5 351.5h0M1046.5 339h0M1046.5 342h0M1046.5 345h0M1046.5 356.5h0M1046.5 358h0M1047 347.5h0M1047 348.5h0M1047 351.5h0M1047 354.5h0M1047 355h0M1047 356.5h0M1047 357h0M1047 357.5h0M1047 365h0M1047.5 346.5h0M1047.5 352h0M1047.5 352.5h0M1047.5 353h0M1047.5 356.5h0M1047.5 364h0M1048 345h0M1048 351.5h0M1048 352.5h0M1048 353.5h0M1048 358h0M1048.5 350h0M1048.5 351.5h0M1048.5 352.5h0M1048.5 354h0M1048.5 356h0M1048.5 368h0M1048.5 370.5h0M1049 349.5h0M1049 354.5h0M1049 355h0M1049 362h0M1049 363.5h0M1049 364.5h0M1049 368.5h0M1049.5 358.5h0M1049.5 360.5h0M1049.5 361h0M1050 352.5h0M1050 358.5h0M1050 369h0M1050 374h0M1050.5 355h0M1050.5 358h0M1050.5 359.5h0M1050.5 360h0M1050.5 361h0M1050.5 363h0M1050.5 366h0M1050.5 369.5h0M1050.5 376h0M1051 357.5h0M1051 368h0M1051 369.5h0M1051 376.5h0M1051.5 360.5h0M1051.5 361h0M1051.5 366h0M1051.5 368.5h0M1052 362h0M1052 367.5h0M1052 370h0M1052 375h0M1052 378h0M1052.5 368h0M1052.5 371h0M1052.5 372.5h0M1052.5 378h0M1053 369.5h0M1053 375h0M1053 375.5h0M1053 376.5h0M1053.5 371h0M1053.5 376h0M1053.5 381h0M1053.5 383h0M1054 364h0M1054 373.5h0M1054 375h0M1054 376.5h0M1054 378.5h0M1054 379h0M1054 379.5h0M1054 386.5h0M1054.5 367h0M1054.5 379h0M1054.5 387h0M1054.5 388h0M1055 380h0M1055 382h0M1055 383.5h0M1055.5 375.5h0M1055.5 378.5h0M1055.5 385h0M1055.5 386.5h0M1056 380.5h0M1056 384.5h0M1056 385.5h0M1056 386.5h0M1056 389.5h0M1056 392h0M1056 394.5h0M1056.5 379.5h0M1056.5 383.5h0M1056.5 385h0M1056.5 390h0M1056.5 396h0M1056.5 398h0M1057 379h0M1057 381h0M1057 385.5h0M1057 388.5h0M1057 389.5h0M1057.5 381h0M1057.5 405.5h0M1058 379h0M1058 383h0M1058 384h0M1058 385h0M1058 387h0M1058 393h0M1058 398.5h0M1058 400.5h0M1058.5 393h0M1059 381.5h0M1059 382.5h0M1059 391h0M1059 396h0M1059 400.5h0M1059 401h0M1059 401.5h0M1059 403h0M1059 411h0M1059.5 394.5h0M1059.5 395.5h0M1059.5 397h0M1059.5 400h0M1059.5 408h0M1060 389h0M1060 399.5h0M1060 400.5h0M1060.5 390.5h0M1060.5 392h0M1060.5 396h0M1060.5 397h0M1060.5 399.5h0M1060.5 403h0M1060.5 404h0M1060.5 407h0M1061 398h0M1061 402.5h0M1061 403.5h0M1061 407.5h0M1061 411.5h0M1061.5 405.5h0M1061.5 408h0M1061.5 414.5h0M1062 388.5h0M1062 401h0M1062 407.5h0M1062 410.5h0M1062.5 404.5h0M1062.5 407.5h0M1062.5 408.5h0M1062.5 409.5h0M1062.5 411.5h0M1062.5 416.5h0M1062.5 417.5h0M1063 398.5h0M1063 401.5h0M1063 403.5h0M1063 409.5h0M1063 410h0M1063 413.5h0M1063.5 406h0M1063.5 407.5h0M1063.5 408h0M1063.5 410h0M1063.5 410.5h0M1063.5 412.5h0M1063.5 413.5h0M1063.5 414h0M1063.5 417h0M1063.5 419.5h0M1063.5 420h0M1063.5 420.5h0M1063.5 422.5h0M1064 408h0M1064 412h0M1064 413h0M1064.5 413.5h0M1064.5 418h0M1064.5 418.5h0M1064.5 421h0M1064.5 423h0M1064.5 424.5h0M1064.5 426.5h0M1065 412.5h0M1065 414h0M1065 421h0M1065 423h0M1065 428h0M1065.5 409.5h0M1065.5 418h0M1065.5 419h0M1065.5 419.5h0M1065.5 424.5h0M1065.5 425.5h0M1065.5 427h0M1066 414.5h0M1066 419h0M1066 419.5h0M1066 420.5h0M1066 425h0M1066.5 409h0M1066.5 411h0M1066.5 418h0M1066.5 426h0M1066.5 429h0M1066.5 430h0M1067 410.5h0M1067 411.5h0M1067 419.5h0M1067 424.5h0M1067 430.5h0M1067 434h0M1067 435h0M1067 436h0M1067 441h0M1067.5 423h0M1067.5 426.5h0M1067.5 428h0M1067.5 437.5h0M1068 414.5h0M1068 424.5h0M1068 426h0M1068 429.5h0M1068 431.5h0M1068 436.5h0M1068.5 419.5h0M1068.5 423h0M1068.5 427h0M1068.5 427.5h0M1068.5 431h0M1068.5 436.5h0M1068.5 440.5h0M1069 427.5h0M1069 429h0M1069 432h0M1069.5 427h0M1069.5 427.5h0M1069.5 428.5h0M1069.5 433h0M1069.5 437.5h0M1069.5 444h0M1069.5 446.5h0M1070 425.5h0M1070 434h0M1070 435h0M1070 436h0M1070 440.5h0M1070 446.5h0M1070.5 433h0M1070.5 433.5h0M1070.5 435h0M1070.5 435.5h0M1070.5 436h0M1070.5 439.5h0M1070.5 441.5h0M1071 432h0M1071 434.5h0M1071 435h0M1071 437.5h0M1071 446.5h0M1071 452h0M1071.5 427h0M1071.5 428.5h0M1071.5 431.5h0M1071.5 436.5h0M1071.5 437h0M1071.5 439.5h0M1071.5 440.5h0M1071.5 443.5h0M1071.5 444h0M1072 431.5h0M1072 441h0M1072 446.5h0M1072 452.5h0M1072.5 427h0M1072.5 437h0M1072.5 439.5h0M1072.5 441.5h0M1072.5 442.5h0M1072.5 455h0M1072.5 455.5h0M1072.5 460h0M1073 435h0M1073 445h0M1073 450h0M1073 451h0M1073.5 436h0M1073.5 437h0M1073.5 442h0M1073.5 443.5h0M1073.5 445.5h0M1073.5 446.5h0M1073.5 448.5h0M1074 435.5h0M1074 443h0M1074 448.5h0M1074 452.5h0M1074.5 439h0M1074.5 441h0M1074.5 443h0M1074.5 448.5h0M1074.5 456h0M1075 441.5h0M1075 444.5h0M1075 451.5h0M1075 455h0M1075 458h0M1075.5 445h0M1075.5 448h0M1075.5 456.5h0M1075.5 459.5h0M1075.5 464h0M1076 443.5h0M1076 447h0M1076 447.5h0M1076 450h0M1076 458.5h0M1076 460h0M1076 460.5h0M1076.5 448.5h0M1076.5 455h0M1076.5 466h0M1077 449.5h0M1077 459h0M1077 461h0M1077 463.5h0M1077 465.5h0M1077 466h0M1077.5 451.5h0M1077.5 454h0M1077.5 456.5h0M1077.5 461.5h0M1077.5 477h0M1078 458.5h0M1078 460h0M1078 460.5h0M1078 461.5h0M1078 469h0M1078 471.5h0M1078.5 461.5h0M1078.5 468h0M1078.5 469h0M1079 456h0M1079 471h0M1079 471.5h0M1079.5 459.5h0M1079.5 461h0M1079.5 465h0M1079.5 465.5h0M1079.5 468h0M1079.5 470h0M1079.5 472h0M1079.5 473h0M1079.5 474.5h0M1079.5 483h0M1080 463h0M1080 465.5h0M1080 471.5h0M1080 475h0M1080 477.5h0M1080 481.5h0M1080.5 460.5h0M1080.5 462.5h0M1080.5 469h0M1080.5 477h0M1081 456h0M1081 464h0M1081 465h0M1081 466.5h0M1081 468h0M1081 470h0M1081 472.5h0M1081 474h0M1081 475.5h0M1081 479h0M1081.5 478h0M1082 463.5h0M1082 464h0M1082 483.5h0M1082 484h0M1082 487h0M1082.5 469h0M1082.5 474.5h0M1082.5 476h0M1082.5 485h0M1082.5 497h0M1083 476.5h0M1083 477.5h0M1083 479h0M1083 480.5h0M1083 481.5h0M1083.5 471h0M1083.5 473.5h0M1083.5 475h0M1083.5 476h0M1083.5 478h0M1083.5 478.5h0M1083.5 480.5h0M1083.5 481h0M1083.5 483h0M1083.5 488h0M1083.5 491.5h0M1084 476.5h0M1084 483h0M1084 486h0M1084 490h0M1084 493.5h0M1084.5 476.5h0M1084.5 478.5h0M1084.5 481.5h0M1084.5 483h0M1084.5 489.5h0M1084.5 490.5h0M1084.5 491h0M1085 471h0M1085 478h0M1085 484h0M1085 487h0M1085 488.5h0M1085.5 473h0M1085.5 478h0M1085.5 479h0M1085.5 486.5h0M1085.5 490h0M1085.5 491h0M1085.5 491.5h0M1085.5 493h0M1086 476.5h0M1086 479h0M1086 479.5h0M1086 482h0M1086 483h0M1086 483.5h0M1086 486.5h0M1086 488.5h0M1086 493.5h0M1086 495.5h0M1086 502.5h0M1086.5 483h0M1086.5 486h0M1086.5 490h0M1086.5 492h0M1086.5 492.5h0M1086.5 495.5h0M1087 479h0M1087 482h0M1087 486.5h0M1087 489h0M1087 491h0M1087 500h0M1087.5 483.5h0M1087.5 484.5h0M1087.5 490.5h0M1087.5 493.5h0M1087.5 499h0M1087.5 500.5h0M1087.5 503h0M1088 487h0M1088 488.5h0M1088 490.5h0M1088 494h0M1088 495h0M1088 501h0M1088 503.5h0M1088.5 487.5h0M1088.5 492h0M1088.5 493h0M1088.5 495h0M1088.5 496h0M1088.5 496.5h0M1088.5 497.5h0M1088.5 500.5h0M1088.5 501h0M1088.5 504h0M1088.5 505.5h0M1089 492.5h0M1089 494.5h0M1089 496h0M1089 497h0M1089 497.5h0M1089 499h0M1089 501.5h0M1089 503.5h0M1089 509h0M1089.5 491.5h0M1089.5 498.5h0M1089.5 502.5h0M1089.5 504h0M1089.5 504.5h0M1089.5 506h0M1090 484.5h0M1090 485.5h0M1090 495.5h0M1090 496.5h0M1090 503h0M1090 509h0M1090 509.5h0M1090 510h0M1090 511.5h0M1090.5 492h0M1090.5 499h0M1090.5 502h0M1090.5 502.5h0M1090.5 505.5h0M1091 493h0M1091 494h0M1091 495.5h0M1091 496h0M1091 500.5h0M1091 501h0M1091 504h0M1091 506.5h0M1091 509h0M1091 510h0M1091.5 490h0M1091.5 495.5h0M1091.5 497h0M1091.5 501h0M1091.5 503h0M1091.5 514h0M1092 491.5h0M1092 497.5h0M1092 513h0M1092 514h0M1092.5 502.5h0M1092.5 508h0M1092.5 510.5h0M1092.5 516h0M1093 495.5h0M1093 503h0M1093 514h0M1093 514.5h0M1093 516h0M1093.5 502h0M1093.5 509h0M1093.5 512.5h0M1093.5 513h0M1093.5 521h0M1094 498.5h0M1094 503.5h0M1094 505h0M1094 508h0M1094 515h0M1094 515.5h0M1094.5 507.5h0M1094.5 508.5h0M1094.5 511h0M1094.5 512.5h0M1094.5 514h0M1094.5 518h0M1094.5 525.5h0M1095 505h0M1095 507h0M1095 507.5h0M1095 508h0M1095 516h0M1095.5 517.5h0M1095.5 518h0M1095.5 519h0M1095.5 520.5h0M1095.5 521.5h0M1096 500h0M1096 505h0M1096 506h0M1096 508h0M1096 510h0M1096 515h0M1096 517h0M1096 522.5h0M1096.5 503.5h0M1096.5 511h0M1096.5 516h0M1097 513.5h0M1097 520h0M1097 526h0M1097.5 510h0M1097.5 515h0M1097.5 517h0M1097.5 519h0M1097.5 527h0M1097.5 531.5h0M1098 506h0M1098 516.5h0M1098 525h0M1098.5 508.5h0M1098.5 510h0M1098.5 518.5h0M1098.5 519.5h0M1098.5 520h0M1098.5 522h0M1098.5 523h0M1098.5 525h0M1098.5 526h0M1098.5 534.5h0M1099 506h0M1099 510.5h0M1099 514.5h0M1099 516.5h0M1099 520.5h0M1099 522.5h0M1099 523h0M1099 542.5h0M1099.5 515h0M1099.5 520.5h0M1099.5 523h0M1099.5 526h0M1099.5 529h0M1100 511h0M1100 517.5h0M1100 526.5h0M1100 527h0M1100 528h0M1100 539.5h0M1100.5 517.5h0M1100.5 524h0M1100.5 528.5h0M1100.5 531h0M1101 515.5h0M1101 516h0M1101 525.5h0M1101 527h0M1101 527.5h0M1101 528h0M1101 529.5h0M1101 530.5h0M1101 531.5h0M1101 539h0M1101.5 523h0M1101.5 523.5h0M1101.5 525h0M1101.5 528h0M1101.5 534h0M1102 519.5h0M1102 520.5h0M1102 524h0M1102 526.5h0M1102 527h0M1102 530h0M1102 532.5h0M1102 537h0M1102 543h0M1102.5 522h0M1102.5 525.5h0M1102.5 527h0M1102.5 532h0M1102.5 533h0M1102.5 533.5h0M1102.5 537h0M1103 518.5h0M1103 528.5h0M1103 532h0M1103 535.5h0M1103 540h0M1103.5 529.5h0M1103.5 531.5h0M1103.5 535.5h0M1103.5 541h0M1103.5 544.5h0M1103.5 549.5h0M1104 520h0M1104 526h0M1104 530.5h0M1104.5 526.5h0M1104.5 534.5h0M1104.5 540h0M1104.5 543.5h0M1104.5 555.5h0M1105 524.5h0M1105 526.5h0M1105 534.5h0M1105 536.5h0M1105 542h0M1105 546h0M1105 546.5h0M1105 556h0M1105.5 532h0M1105.5 535h0M1105.5 538.5h0M1105.5 539.5h0M1105.5 545h0M1105.5 547.5h0M1106 521.5h0M1106 534h0M1106 537.5h0M1106 541.5h0M1106 553.5h0M1106.5 532h0M1106.5 533h0M1106.5 538.5h0M1106.5 539h0M1106.5 554.5h0M1107 524.5h0M1107 536h0M1107 539h0M1107 542.5h0M1107 547h0M1107 549.5h0M1107 551.5h0M1107.5 534.5h0M1107.5 535.5h0M1107.5 539h0M1107.5 545h0M1108 524.5h0M1108 534h0M1108 538h0M1108 541h0M1108 542.5h0M1108 546h0M1108 555h0M1108.5 544h0M1108.5 545.5h0M1108.5 546h0M1108.5 548h0M1108.5 556h0M1108.5 556.5h0M1109 538.5h0M1109 541.5h0M1109 543h0M1109 547.5h0M1109 549.5h0M1109 551.5h0M1109 555.5h0M1109.5 533h0M1109.5 545.5h0M1109.5 551.5h0M1110 535.5h0M1110 544.5h0M1110 554.5h0M1110 569h0M1110.5 534.5h0M1110.5 542h0M1110.5 546.5h0M1110.5 547h0M1110.5 547.5h0M1110.5 549h0M1110.5 553h0M1110.5 554.5h0M1110.5 557.5h0M1110.5 559.5h0M1110.5 561h0M1111 543h0M1111 546h0M1111 549.5h0M1111 553.5h0M1111 555h0M1111 556h0M1111 557.5h0M1111 563h0M1111.5 536.5h0M1111.5 550h0M1111.5 552h0M1111.5 558h0M1111.5 559.5h0M1111.5 565h0M1112 541h0M1112 542.5h0M1112 548.5h0M1112 552.5h0M1112 556.5h0M1112 559.5h0M1112 560h0M1112 564h0M1112 565.5h0M1112 569.5h0M1112.5 546h0M1112.5 547.5h0M1112.5 554.5h0M1112.5 555.5h0M1112.5 556.5h0M1112.5 560h0M1113 542.5h0M1113 547h0M1113 553.5h0M1113 563h0M1113 564.5h0M1113 567h0M1113.5 544.5h0M1113.5 545h0M1113.5 559h0M1113.5 560h0M1113.5 560.5h0M1114 553h0M1114 553.5h0M1114 556.5h0M1114 562h0M1114 564h0M1114 572.5h0M1114 573h0M1114.5 551h0M1114.5 557h0M1114.5 557.5h0M1114.5 559h0M1114.5 560h0M1114.5 563h0M1114.5 566.5h0M1115 547.5h0M1115 555h0M1115 559.5h0M1115 565.5h0M1115 569h0M1115 569.5h0M1115 570h0M1115.5 552h0M1115.5 557.5h0M1115.5 560h0M1115.5 562.5h0M1115.5 564h0M1115.5 564.5h0M1115.5 565.5h0M1115.5 566h0M1115.5 569h0M1116 552h0M1116 552.5h0M1116 558.5h0M1116 563h0M1116 569h0M1116 579.5h0M1116.5 543h0M1116.5 556h0M1116.5 559.5h0M1116.5 560.5h0M1116.5 561h0M1116.5 566h0M1116.5 567h0M1116.5 569h0M1116.5 573h0M1116.5 574.5h0M1117 562h0M1117 567h0M1117 571h0M1117 577h0M1117 578.5h0M1117.5 554.5h0M1117.5 557.5h0M1117.5 560.5h0M1117.5 561.5h0M1117.5 564.5h0M1117.5 567h0M1117.5 569h0M1118 563.5h0M1118 567.5h0M1118 571.5h0M1118 572h0M1118 573.5h0M1118.5 558.5h0M1119 560h0M1119 561h0M1119 562.5h0M1119 564h0M1119 564.5h0M1119 565h0M1119 565.5h0M1119 566.5h0M1119 568.5h0M1119 570h0M1119 573h0M1119 573.5h0M1119 574h0M1119 575.5h0M1119.5 560h0M1119.5 567.5h0M1119.5 569.5h0M1119.5 576h0M1119.5 580h0M1120 566.5h0M1120 569.5h0M1120 571.5h0M1120 572h0M1120 577h0M1120.5 559.5h0M1120.5 564.5h0M1120.5 565h0M1120.5 570h0M1120.5 574.5h0M1120.5 579.5h0M1121 565h0M1121 567h0M1121 571.5h0M1121 572.5h0M1121 574.5h0M1121 576.5h0M1121 577.5h0M1121 582.5h0M1121 594h0M1121.5 554.5h0M1121.5 559h0M1121.5 566.5h0M1121.5 568.5h0M1121.5 570h0M1121.5 573h0M1121.5 575h0M1121.5 578h0M1121.5 582h0M1121.5 584h0M1122 560h0M1122 565.5h0M1122 566.5h0M1122 580.5h0M1122.5 565.5h0M1123 562h0M1123 566.5h0M1123 570.5h0M1123 578.5h0M1123 579h0M1123 590h0M1123.5 559h0M1123.5 568h0M1123.5 569.5h0M1123.5 573h0M1123.5 576h0M1123.5 578h0M1123.5 584.5h0M1124 569h0M1124 580h0M1124 580.5h0M1124 582.5h0M1124.5 571h0M1124.5 571.5h0M1124.5 572.5h0M1124.5 574.5h0M1124.5 575h0M1124.5 576.5h0M1124.5 582.5h0M1124.5 584h0M1125 569.5h0M1125 574h0M1125 574.5h0M1125 576h0M1125 582h0M1125 583h0M1125 584h0M1125 585h0M1125.5 574.5h0M1125.5 575h0M1125.5 577.5h0M1125.5 583h0M1125.5 583.5h0M1125.5 584h0M1125.5 590h0M1126 571h0M1126 574h0M1126 575.5h0M1126 577h0M1126 579.5h0M1126 593.5h0M1126.5 570.5h0M1126.5 578h0M1126.5 579h0M1126.5 579.5h0M1126.5 584h0M1126.5 585.5h0M1126.5 586h0M1126.5 599.5h0M1127 572h0M1127 577.5h0M1127 581.5h0M1127 586h0M1127 590h0M1127 590.5h0M1127.5 569.5h0M1127.5 574h0M1127.5 575.5h0M1127.5 576h0M1127.5 579h0M1127.5 582.5h0M1127.5 594h0M1128 571.5h0M1128 572h0M1128 575h0M1128 576h0M1128 581.5h0M1128 584.5h0M1128 585h0M1128 596h0M1128 597h0M1128.5 579h0M1128.5 579.5h0M1128.5 580h0M1128.5 581.5h0M1128.5 588.5h0M1129 569.5h0M1129 574.5h0M1129 576h0M1129 577.5h0M1129 588h0M1129.5 565h0M1129.5 579.5h0M1129.5 580h0M1129.5 581h0M1129.5 583.5h0M1129.5 586.5h0M1129.5 592.5h0M1130 572.5h0M1130 582h0M1130 582.5h0M1130 586.5h0M1130 587.5h0M1130 588.5h0M1130 599.5h0M1130.5 573.5h0M1130.5 577.5h0M1130.5 579.5h0M1130.5 580h0M1130.5 585h0M1130.5 588h0M1131 576.5h0M1131 579.5h0M1131 583.5h0M1131 585.5h0M1131 593.5h0M1131 594h0M1131.5 583h0M1131.5 583.5h0M1131.5 588.5h0M1131.5 597h0M1132 572.5h0M1132 575.5h0M1132 576.5h0M1132 580.5h0M1132 583.5h0M1132 587.5h0M1132 588h0M1132 590h0M1132 592.5h0M1132 598h0M1132.5 584h0M1132.5 590.5h0M1132.5 591.5h0M1132.5 593h0M1132.5 593.5h0M1133 583.5h0M1133 584h0M1133 588h0M1133 589h0M1133 590.5h0M1133 600h0M1133 604.5h0M1133 617h0M1133.5 581.5h0M1133.5 588h0M1133.5 590h0M1133.5 593h0M1133.5 594h0M1133.5 598.5h0M1134 578h0M1134 581h0M1134 589h0M1134 593h0M1134 601h0M1134 603.5h0M1134.5 571.5h0M1134.5 575h0M1134.5 590.5h0M1134.5 593.5h0M1134.5 601.5h0M1134.5 603.5h0M1134.5 605.5h0M1135 581h0M1135 584h0M1135 587h0M1135 591h0M1135 591.5h0M1135 593h0M1135 593.5h0M1135 598h0M1135 601.5h0M1135 602h0M1135 608h0M1135 608.5h0M1135.5 587h0M1135.5 592h0M1135.5 594.5h0M1135.5 595h0M1135.5 599.5h0M1135.5 613h0M1136 573.5h0M1136 580.5h0M1136 591.5h0M1136 598.5h0M1136.5 589h0M1136.5 594h0M1137 585h0M1137 588.5h0M1137 594.5h0M1137 596h0M1137 598.5h0M1137 601.5h0M1137 602h0M1137 605h0M1137 608h0M1137.5 581h0M1137.5 591.5h0M1137.5 592h0M1137.5 601.5h0M1137.5 602h0M1137.5 602.5h0M1137.5 604h0M1137.5 605.5h0M1137.5 611.5h0M1137.5 612h0M1138 570h0M1138 589.5h0M1138 599h0M1138 601.5h0M1138 603h0M1138.5 589h0M1138.5 591h0M1138.5 597h0M1138.5 599h0M1138.5 603h0M1139 582.5h0M1139 591h0M1139 593.5h0M1139 595.5h0M1139 597h0M1139 613h0M1139.5 578.5h0M1139.5 592.5h0M1139.5 593h0M1139.5 595.5h0M1139.5 601h0M1139.5 602h0M1139.5 603.5h0M1139.5 611.5h0M1140 591h0M1140 591.5h0M1140 596.5h0M1140 597.5h0M1140 600h0M1140 603h0M1140 607h0M1140 609h0M1140 615.5h0M1140.5 596h0M1140.5 596.5h0M1140.5 597.5h0M1140.5 600h0M1140.5 603h0M1140.5 609h0M1140.5 609.5h0M1140.5 611h0M1140.5 613h0M1140.5 613.5h0M1140.5 616.5h0M1141 589h0M1141 597.5h0M1141 601h0M1141 606.5h0M1141 613.5h0M1141 615.5h0M1141.5 588.5h0M1141.5 599.5h0M1141.5 600h0M1141.5 602.5h0M1141.5 603h0M1141.5 607.5h0M1141.5 608h0M1141.5 616.5h0M1142 584.5h0M1142 591h0M1142 598h0M1142 602h0M1142 603h0M1142 610h0M1142.5 590.5h0M1142.5 595h0M1142.5 599h0M1142.5 601h0M1142.5 602h0M1142.5 607.5h0M1142.5 608.5h0M1142.5 617h0M1142.5 617.5h0M1142.5 621.5h0M1143 602h0M1143 605.5h0M1143 606h0M1143 607h0M1143 612h0M1143.5 596.5h0M1143.5 602.5h0M1143.5 607.5h0M1143.5 610h0M1143.5 611.5h0M1143.5 614.5h0M1144 601h0M1144 607.5h0M1144 610h0M1144 612h0M1144 614h0M1144.5 598.5h0M1144.5 600h0M1144.5 604h0M1144.5 605.5h0M1144.5 611h0M1144.5 611.5h0M1144.5 626.5h0M1145 600h0M1145 602h0M1145 606h0M1145 612h0M1145.5 590h0M1145.5 600.5h0M1145.5 601.5h0M1145.5 607.5h0M1145.5 609h0M1145.5 610h0M1145.5 615h0M1145.5 617h0M1145.5 618h0M1145.5 625.5h0M1146 599.5h0M1146 600h0M1146 603h0M1146 607h0M1146 609h0M1146 612h0M1146 615h0M1146 616.5h0M1146 619h0M1146 621h0M1146.5 603.5h0M1146.5 604h0M1146.5 605h0M1146.5 607h0M1146.5 609h0M1146.5 609.5h0M1146.5 612.5h0M1146.5 618h0M1147 597.5h0M1147 604.5h0M1147 610.5h0M1147 613h0M1147 614h0M1147 615h0M1147 620.5h0M1147 624h0M1147.5 613h0M1147.5 614.5h0M1147.5 620.5h0M1147.5 630.5h0M1148 594.5h0M1148 601h0M1148 606h0M1148 606.5h0M1148 609.5h0M1148 611.5h0M1148 613h0M1148 614h0M1148 616.5h0M1148 618h0M1148 618.5h0M1148 623.5h0M1148.5 605.5h0M1148.5 610h0M1148.5 614.5h0M1148.5 621h0M1149 600h0M1149 607.5h0M1149 614.5h0M1149 616h0M1149 619.5h0M1149 621h0M1149.5 606.5h0M1149.5 607.5h0M1149.5 611h0M1149.5 612h0M1149.5 617.5h0M1149.5 620h0M1149.5 623h0M1149.5 624h0M1149.5 624.5h0M1149.5 630.5h0M1150 613.5h0M1150 625.5h0M1150 642h0M1150.5 615h0M1150.5 616h0M1150.5 617h0M1150.5 622.5h0M1150.5 627.5h0M1150.5 629h0M1150.5 630h0M1150.5 638.5h0M1151 605.5h0M1151 608h0M1151 613.5h0M1151 616h0M1151 616.5h0M1151 619h0M1151 620.5h0M1151 621.5h0M1151 625.5h0M1151 630.5h0M1151 645.5h0M1151.5 612.5h0M1151.5 622h0M1151.5 622.5h0M1151.5 625h0M1151.5 627h0M1151.5 633.5h0M1152 607h0M1152 609.5h0M1152 616h0M1152 619.5h0M1152 625.5h0M1152 626.5h0M1152 630h0M1152 631.5h0M1152 632h0M1152 638.5h0M1152.5 601h0M1152.5 603h0M1152.5 620h0M1152.5 629.5h0M1152.5 632h0M1153 613h0M1153 622h0M1153 624h0M1153 628.5h0M1153 629.5h0M1153 630.5h0M1153.5 616.5h0M1153.5 618.5h0M1153.5 622h0M1153.5 622.5h0M1153.5 623.5h0M1153.5 626.5h0M1153.5 627.5h0M1153.5 628.5h0M1153.5 629h0M1153.5 631.5h0M1154 612.5h0M1154 613h0M1154 614.5h0M1154 625h0M1154 629h0M1154 631.5h0M1154 634.5h0M1154 642h0M1154.5 632h0M1154.5 633h0M1154.5 635.5h0M1155 624.5h0M1155 627h0M1155 627.5h0M1155 629.5h0M1155 630h0M1155 631h0M1155 634h0M1155 635h0M1155.5 609h0M1155.5 614.5h0M1155.5 620h0M1155.5 621.5h0M1155.5 622.5h0M1155.5 628.5h0M1155.5 636h0M1156 615.5h0M1156 622h0M1156 623h0M1156 623.5h0M1156 624h0M1156 624.5h0M1156 628h0M1156 631h0M1156 631.5h0M1156.5 626h0M1156.5 630.5h0M1156.5 639.5h0M1157 625.5h0M1157 627h0M1157 633.5h0M1157 635.5h0M1157 637h0M1157.5 622h0M1157.5 625.5h0M1157.5 626.5h0M1157.5 634h0M1158 626.5h0M1158 627h0M1158 631h0M1158 633h0M1158 640h0M1158 647h0M1158.5 612.5h0M1158.5 625h0M1158.5 627.5h0M1158.5 628h0M1158.5 629h0M1158.5 644.5h0M1159 617.5h0M1159 618h0M1159 625h0M1159 626.5h0M1159 628.5h0M1159 631.5h0M1159 632h0M1159 639h0M1159 648h0M1159.5 614h0M1159.5 618h0M1159.5 621h0M1159.5 623h0M1159.5 625.5h0M1159.5 628.5h0M1159.5 629.5h0M1159.5 630h0M1159.5 634h0M1159.5 635.5h0M1159.5 638.5h0M1159.5 640h0M1159.5 645.5h0M1160 622.5h0M1160 630h0M1160 635h0M1160 641h0M1160 644h0M1160.5 628h0M1160.5 629h0M1160.5 630.5h0M1160.5 635.5h0M1160.5 638h0M1160.5 639.5h0M1160.5 644h0M1161 618.5h0M1161 620h0M1161 631.5h0M1161 638h0M1161 639.5h0M1161 643h0M1161 644h0M1161 647.5h0M1161 651h0M1161.5 622h0M1161.5 625h0M1161.5 627.5h0M1161.5 628h0M1161.5 630h0M1161.5 634h0M1161.5 634.5h0M1161.5 635h0M1161.5 636h0M1161.5 636.5h0M1161.5 640h0M1162 641.5h0M1162 648.5h0M1162 650.5h0M1162.5 624.5h0M1162.5 625h0M1162.5 638.5h0M1162.5 642h0M1163 628h0M1163 630.5h0M1163 632h0M1163 633.5h0M1163 637.5h0M1163 646h0M1163.5 621h0M1163.5 632h0M1163.5 633.5h0M1163.5 638h0M1163.5 641h0M1164 628.5h0M1164 629h0M1164 630.5h0M1164 632.5h0M1164 635h0M1164 638.5h0M1164 642.5h0M1164 649h0M1164.5 630.5h0M1164.5 632.5h0M1164.5 635.5h0M1164.5 637.5h0M1164.5 641h0M1165 632h0M1165 633.5h0M1165 634h0M1165 634.5h0M1165 635.5h0M1165 647.5h0M1165 661h0M1165.5 625h0M1165.5 626.5h0M1165.5 630.5h0M1165.5 632.5h0M1165.5 633h0M1165.5 634.5h0M1165.5 640.5h0M1165.5 644.5h0M1165.5 645.5h0M1166 618h0M1166 622.5h0M1166 623h0M1166 629h0M1166 631.5h0M1166 632h0M1166 633.5h0M1166.5 632.5h0M1166.5 637.5h0M1166.5 644.5h0M1166.5 645h0M1166.5 646h0M1166.5 647h0M1166.5 649.5h0M1167 624h0M1167 626.5h0M1167 630.5h0M1167 635.5h0M1167 636.5h0M1167 638.5h0M1167 640h0M1167 644h0M1167 650.5h0M1167.5 628h0M1167.5 630.5h0M1167.5 635.5h0M1167.5 639.5h0M1167.5 643.5h0M1168 626h0M1168 642h0M1168 644.5h0M1168 648h0M1168 650.5h0M1168.5 624.5h0M1168.5 632h0M1168.5 635h0M1168.5 635.5h0M1168.5 638h0M1168.5 640h0M1168.5 640.5h0M1168.5 641.5h0M1168.5 643h0M1168.5 643.5h0M1168.5 644.5h0M1168.5 645.5h0M1168.5 648.5h0M1169 627.5h0M1169 635h0M1169 636h0M1169 642.5h0M1169 643h0M1169 646h0M1169 647h0M1169.5 635h0M1169.5 639h0M1169.5 640h0M1169.5 642.5h0M1169.5 645.5h0M1169.5 646h0M1169.5 647.5h0M1169.5 651.5h0M1170 630h0M1170 635.5h0M1170 636h0M1170 637h0M1170 642.5h0M1170 653h0M1170.5 633.5h0M1170.5 637.5h0M1170.5 638h0M1170.5 639h0M1170.5 644h0M1170.5 645h0M1170.5 648h0M1171 634h0M1171 637h0M1171 640.5h0M1171 642.5h0M1171 646h0M1171 648.5h0M1171.5 639.5h0M1171.5 640h0M1171.5 642.5h0M1171.5 645.5h0M1171.5 648h0M1171.5 651.5h0M1172 628.5h0M1172 637.5h0M1172 640.5h0M1172 643.5h0M1172.5 634.5h0M1172.5 635h0M1172.5 636h0M1172.5 637.5h0M1172.5 640h0M1172.5 647h0M1172.5 648.5h0M1172.5 650h0M1172.5 660.5h0M1173 639h0M1173 642h0M1173 646.5h0M1173 650h0M1173 651h0M1173 652.5h0M1173.5 633.5h0M1173.5 636h0M1173.5 637h0M1173.5 640h0M1173.5 641h0M1173.5 646h0M1173.5 649h0M1173.5 659.5h0M1174 645h0M1174 645.5h0M1174 646.5h0M1174 648.5h0M1174 650h0M1174 653.5h0M1174 656.5h0M1174.5 637.5h0M1174.5 639h0M1174.5 640.5h0M1174.5 646h0M1174.5 647.5h0M1174.5 649h0M1175 638.5h0M1175 640h0M1175 640.5h0M1175 643.5h0M1175 649h0M1175 651.5h0M1175 652h0M1175 654h0M1175 656.5h0M1175.5 641h0M1175.5 642h0M1175.5 646h0M1175.5 647.5h0M1175.5 651.5h0M1176 639.5h0M1176 645.5h0M1176 646.5h0M1176 647.5h0M1176 648h0M1176 651.5h0M1176 661h0M1176.5 643h0M1176.5 645.5h0M1176.5 649h0M1176.5 650h0M1176.5 650.5h0M1177 642.5h0M1177 644h0M1177 644.5h0M1177 648h0M1177 649h0M1177 649.5h0M1177 650h0M1177 654h0M1177 658h0M1177 658.5h0M1177.5 640h0M1177.5 645.5h0M1177.5 647h0M1177.5 652h0M1177.5 652.5h0M1177.5 662h0M1178 637h0M1178 643.5h0M1178 645h0M1178 648h0M1178 650h0M1178 651h0M1178 652h0M1178 653.5h0M1178 661.5h0M1178.5 643h0M1178.5 648h0M1178.5 649h0M1178.5 654h0M1178.5 654.5h0M1178.5 657.5h0M1179 637.5h0M1179 638.5h0M1179 641.5h0M1179 648h0M1179 649.5h0M1179 650h0M1179 654h0M1179 656h0M1179.5 635.5h0M1179.5 637.5h0M1179.5 648h0M1179.5 662h0M1180 637h0M1180 648h0M1180 648.5h0M1180 652h0M1180 657.5h0M1180 658.5h0M1180.5 643h0M1180.5 651.5h0M1180.5 653h0M1180.5 654.5h0M1180.5 657.5h0M1180.5 660h0M1181 641.5h0M1181 643.5h0M1181 645.5h0M1181 650h0M1181 652h0M1181 654.5h0M1181 655.5h0M1181.5 638h0M1181.5 644h0M1181.5 645h0M1181.5 650.5h0M1181.5 653.5h0M1181.5 654h0M1181.5 655h0M1181.5 657.5h0M1181.5 660h0M1182 649h0M1182 652h0M1182 652.5h0M1182 659h0M1182.5 642.5h0M1182.5 643.5h0M1182.5 645.5h0M1182.5 648h0M1182.5 650h0M1182.5 651h0M1182.5 653.5h0M1182.5 657.5h0M1182.5 658h0M1182.5 666h0M1183 653h0M1183 656h0M1183 656.5h0M1183 657h0M1183 661h0M1183.5 646h0M1183.5 649.5h0M1183.5 650h0M1183.5 650.5h0M1183.5 651h0M1183.5 652h0M1183.5 657h0M1183.5 658h0M1183.5 659h0M1183.5 661h0M1183.5 661.5h0M1183.5 662.5h0M1183.5 663h0M1183.5 663.5h0M1183.5 664h0M1184 641h0M1184 654.5h0M1184 655.5h0M1184 656h0M1184 658h0M1184 659.5h0M1184.5 641.5h0M1184.5 648.5h0M1184.5 652h0M1184.5 653h0M1184.5 655.5h0M1185 651h0M1185 652h0M1185 653h0M1185 654h0M1185 655.5h0M1185 659.5h0M1185.5 648.5h0M1185.5 649.5h0M1185.5 651.5h0M1185.5 655.5h0M1185.5 656.5h0M1185.5 657.5h0M1185.5 662h0M1185.5 668h0M1185.5 668.5h0M1186 647h0M1186 654h0M1186 657h0M1186 657.5h0M1186 658h0M1186 660.5h0M1186 661h0M1186 661.5h0M1186 663.5h0M1186.5 651.5h0M1186.5 652h0M1186.5 652.5h0M1186.5 657h0M1186.5 657.5h0M1186.5 662.5h0M1186.5 663h0M1187 653.5h0M1187 657h0M1187 657.5h0M1187 658.5h0M1187 664h0M1187 664.5h0M1187.5 655.5h0M1187.5 658h0M1187.5 658.5h0M1187.5 659.5h0M1187.5 663h0M1187.5 664h0M1187.5 675h0M1188 651.5h0M1188 652.5h0M1188 653h0M1188 654.5h0M1188 656.5h0M1188 658.5h0M1188 660.5h0M1188 662.5h0M1188.5 654.5h0M1188.5 657.5h0M1188.5 658h0M1188.5 660h0M1188.5 661h0M1188.5 662.5h0M1188.5 665.5h0M1188.5 672.5h0M1189 650.5h0M1189 660.5h0M1189 663h0M1189 666h0M1189.5 641h0M1189.5 652h0M1189.5 653h0M1189.5 656.5h0M1189.5 657h0M1189.5 658h0M1189.5 665.5h0M1190 656h0M1190 661h0M1190 661.5h0M1190 664h0M1190 665.5h0M1190 670h0M1190.5 656.5h0M1190.5 658.5h0M1190.5 664h0M1191 651.5h0M1191 653h0M1191 655.5h0M1191 658h0M1191 661.5h0M1191 667h0M1191.5 657.5h0M1191.5 660.5h0M1191.5 661h0M1191.5 663.5h0M1191.5 664.5h0M1191.5 665.5h0M1192 649h0M1192 654h0M1192 659h0M1192 660.5h0M1192 662.5h0M1192 665.5h0M1192.5 658h0M1192.5 659.5h0M1192.5 666.5h0M1192.5 667h0M1192.5 668.5h0M1193 660.5h0M1193 662h0M1193 662.5h0M1193 665h0M1193 668h0M1193 668.5h0M1193.5 651h0M1193.5 655h0M1193.5 656h0M1193.5 657.5h0M1193.5 658.5h0M1193.5 659h0M1193.5 661h0M1193.5 662h0M1193.5 664h0M1193.5 666.5h0M1193.5 669h0M1194 658.5h0M1194 659.5h0M1194 661h0M1194 664h0M1194 666h0M1194 667.5h0M1194 669h0M1194.5 663.5h0M1194.5 664.5h0M1194.5 665h0M1194.5 668.5h0M1194.5 669h0M1194.5 670h0M1195 657h0M1195 658.5h0M1195 660h0M1195 662h0M1195 665.5h0M1195 668h0M1195 669.5h0M1195.5 650.5h0M1195.5 653.5h0M1195.5 660h0M1195.5 661.5h0M1195.5 662h0M1195.5 662.5h0M1195.5 664h0M1195.5 666.5h0M1195.5 667h0M1195.5 668h0M1195.5 669.5h0M1195.5 672h0M1196 657.5h0M1196 660.5h0M1196 665h0M1196 665.5h0M1196 666h0M1196 667h0M1196 669.5h0M1196.5 656.5h0M1196.5 665h0M1196.5 666h0M1196.5 667h0M1196.5 671h0M1197 654.5h0M1197 659h0M1197 663h0M1197 663.5h0M1197 664.5h0M1197 666.5h0M1197 668h0M1197 670h0M1197 672h0M1197.5 660h0M1197.5 661h0M1197.5 663.5h0M1197.5 666.5h0M1197.5 668.5h0M1197.5 669.5h0M1197.5 673h0M1197.5 673.5h0M1198 660h0M1198 660.5h0M1198 661h0M1198 661.5h0M1198 662h0M1198 664h0M1198 665h0M1198 666h0M1198 670.5h0M1198.5 656.5h0M1198.5 665h0M1198.5 665.5h0M1198.5 667h0M1198.5 669h0M1198.5 673h0M1199 656h0M1199 658.5h0M1199 659h0M1199 665.5h0M1199 666h0M1199 666.5h0M1199 670.5h0M1199.5 660.5h0M1199.5 661.5h0M1199.5 662h0M1199.5 662.5h0M1199.5 666.5h0M1199.5 667.5h0M1199.5 668h0M1199.5 671h0M1199.5 677h0M1200 660.5h0M1200 663.5h0M1200 664h0M1200 667h0M1200 670h0M1200.5 657h0M1200.5 665.5h0M1200.5 668h0M1200.5 669h0M1200.5 669.5h0M1200.5 674h0M1200.5 676h0M1201 659h0M1201 660.5h0M1201 666.5h0M1201 667.5h0M1201 673h0M1201.5 661h0M1201.5 663.5h0M1201.5 666h0M1201.5 667.5h0M1201.5 668.5h0M1201.5 672h0M1201.5 672.5h0M1202 658h0M1202 662h0M1202 663h0M1202 672.5h0M1202 682h0M1202.5 666.5h0M1203 658h0M1203 660h0M1203 663.5h0M1203 665.5h0M1203 666.5h0M1203 667h0M1203 667.5h0M1203 669.5h0M1203 673h0M1203 674.5h0M1203 676h0M1203.5 657.5h0M1203.5 662h0M1203.5 662.5h0M1203.5 666h0M1203.5 670.5h0M1203.5 675.5h0M1203.5 679h0M1204 661.5h0M1204 664.5h0M1204 666h0M1204 666.5h0M1204 670.5h0M1204 671h0M1204 683h0M1204.5 670h0M1205 662.5h0M1205 667h0M1205 669.5h0M1205.5 659.5h0M1205.5 661.5h0M1205.5 663h0M1205.5 665.5h0M1205.5 668.5h0M1205.5 669.5h0M1205.5 670h0M1205.5 673h0M1206 659h0M1206 664.5h0M1206 666.5h0M1206 669.5h0M1206 674h0M1206.5 658h0M1206.5 667.5h0M1206.5 669h0M1206.5 670h0M1206.5 672h0M1206.5 678.5h0M1207 659h0M1207 659.5h0M1207 662h0M1207 666h0M1207 668.5h0M1207 669h0M1207 672h0M1207 675.5h0M1207.5 665h0M1207.5 665.5h0M1207.5 668.5h0M1207.5 669.5h0M1207.5 670.5h0M1207.5 672.5h0M1207.5 673.5h0M1208 664h0M1208 666h0M1208 667h0M1208 669.5h0M1208 671.5h0M1208 674h0M1208 677.5h0M1208.5 663h0M1208.5 670.5h0M1208.5 671h0M1208.5 671.5h0M1208.5 673.5h0M1208.5 680.5h0M1209 665.5h0M1209 666.5h0M1209 672h0M1209.5 659.5h0M1209.5 665h0M1209.5 668.5h0M1209.5 670.5h0M1209.5 672h0M1209.5 673h0M1209.5 675h0M1209.5 675.5h0M1209.5 676h0M1209.5 680h0M1210 662h0M1210 667.5h0M1210 668.5h0M1210 669.5h0M1210 673.5h0M1210.5 663h0M1210.5 669h0M1210.5 669.5h0M1210.5 675.5h0M1211 668h0M1211 671.5h0M1211 672.5h0M1211 675h0M1211.5 666h0M1211.5 671.5h0M1211.5 673.5h0M1211.5 674.5h0M1211.5 676h0M1211.5 676.5h0M1212 671h0M1212 672.5h0M1212 673h0M1212 673.5h0M1212 674h0M1212 682.5h0M1212.5 666.5h0M1212.5 668.5h0M1212.5 669h0M1212.5 670h0M1212.5 670.5h0M1212.5 672h0M1212.5 674h0M1213 664.5h0M1213 667.5h0M1213 669h0M1213 671.5h0M1213 673h0M1213 674h0M1213 676.5h0M1213 678.5h0M1213 679h0M1213 680.5h0M1213 681h0M1213.5 664h0M1213.5 668h0M1213.5 671.5h0M1213.5 673h0M1213.5 674.5h0M1213.5 678.5h0M1213.5 681h0M1214 666.5h0M1214 668h0M1214 669.5h0M1214 671.5h0M1214 674h0M1214 677h0M1214.5 665h0M1214.5 667.5h0M1214.5 670.5h0M1214.5 673h0M1214.5 673.5h0M1214.5 676.5h0M1214.5 678.5h0M1215 665.5h0M1215 666h0M1215 670h0M1215 675h0M1215 676.5h0M1215 677h0M1215 678h0M1215.5 670.5h0M1215.5 672h0M1215.5 677h0M1215.5 678.5h0M1216 670h0M1216 671.5h0M1216 673h0M1216 673.5h0M1216 674h0M1216 675h0M1216 675.5h0M1216 678h0M1216 684.5h0M1216.5 674h0M1216.5 674.5h0M1216.5 678.5h0M1216.5 680.5h0M1217 669h0M1217 671h0M1217 673h0M1217 676.5h0M1217 677h0M1217 677.5h0M1217 680h0M1217.5 673.5h0M1217.5 678h0M1218 674h0M1218 677h0M1218 679.5h0M1218.5 670.5h0M1218.5 671h0M1218.5 672.5h0M1218.5 674h0M1218.5 674.5h0M1218.5 679h0M1218.5 679.5h0M1219 666h0M1219 671.5h0M1219 672h0M1219 673h0M1219 673.5h0M1219 674.5h0M1219 675.5h0M1219 677h0M1219 680h0M1219.5 670.5h0M1219.5 671.5h0M1219.5 672h0M1219.5 672.5h0M1219.5 673h0M1219.5 674.5h0M1219.5 676h0M1219.5 676.5h0M1220 669.5h0M1220 670h0M1220 672h0M1220 674h0M1220 674.5h0M1220 675.5h0M1220 678h0M1220 678.5h0M1220.5 668.5h0M1220.5 674h0M1220.5 676h0M1220.5 677h0M1220.5 678.5h0M1221 669h0M1221 673.5h0M1221 676h0M1221 677h0M1221 677.5h0M1221 679h0M1221 680h0M1221.5 674h0M1221.5 675h0M1221.5 676h0M1221.5 676.5h0M1221.5 677h0M1221.5 684h0M1222 671.5h0M1222 673.5h0M1222 675h0M1222 676h0M1222 677h0M1222 678.5h0M1222 683h0M1222.5 674h0M1222.5 681h0M1222.5 682h0M1223 672.5h0M1223 674.5h0M1223 675h0M1223 675.5h0M1223 676h0M1223 680.5h0M1223 683h0M1223.5 672h0M1223.5 673h0M1223.5 674.5h0M1223.5 676h0M1223.5 677h0M1223.5 677.5h0M1223.5 678h0M1223.5 678.5h0M1223.5 679.5h0M1223.5 680h0M1223.5 681h0M1224 676h0M1224 678.5h0M1224 680h0M1224 680.5h0M1224.5 671h0M1224.5 673.5h0M1224.5 674h0M1224.5 674.5h0M1224.5 677h0M1224.5 678.5h0M1224.5 681.5h0M1225 674.5h0M1225 676.5h0M1225 679.5h0M1225 680h0M1225 682h0M1225 683h0M1225.5 674h0M1225.5 675.5h0M1225.5 679h0M1225.5 680h0M1225.5 681h0M1225.5 682.5h0M1225.5 683.5h0M1225.5 684.5h0M1226 674.5h0M1226 677h0M1226 679h0M1226 684.5h0M1226.5 674.5h0M1226.5 675.5h0M1226.5 676h0M1226.5 677.5h0M1226.5 679h0M1226.5 679.5h0M1227 677.5h0M1227 678.5h0M1227 679.5h0M1227 680h0M1227 681h0M1227 682h0M1227 682.5h0M1227.5 670.5h0M1227.5 674.5h0M1227.5 678h0M1227.5 678.5h0M1227.5 679.5h0M1227.5 680.5h0M1227.5 683h0M1227.5 684.5h0M1228 674.5h0M1228 676h0M1228 679h0M1228 684h0M1228.5 677.5h0M1228.5 679.5h0M1228.5 682.5h0M1229 675.5h0M1229 678.5h0M1229 680.5h0M1229 681.5h0M1229 682.5h0M1229 684.5h0M1229 690.5h0M1229.5 676.5h0M1229.5 677.5h0M1229.5 678.5h0M1229.5 679.5h0M1229.5 680h0M1229.5 681h0M1229.5 682.5h0M1229.5 683.5h0M1229.5 684h0M1230 673h0M1230 674h0M1230 678h0M1230 679h0M1230 683h0M1230 686.5h0M1230.5 674h0M1230.5 679h0M1230.5 679.5h0M1230.5 680h0M1230.5 680.5h0M1230.5 681.5h0M1230.5 682h0M1231 676.5h0M1231 680.5h0M1231 683.5h0M1231 684h0M1231 684.5h0M1231 685h0M1231.5 677.5h0M1231.5 679.5h0M1231.5 680h0M1231.5 681h0M1231.5 681.5h0M1231.5 683.5h0M1231.5 686.5h0M1232 677h0M1232 677.5h0M1232 680h0M1232 681h0M1232 682.5h0M1232 683h0M1232 683.5h0M1232 685.5h0M1232.5 679h0M1232.5 680h0M1232.5 681h0M1232.5 681.5h0M1232.5 682h0M1232.5 683h0M1232.5 684h0M1232.5 685h0M1233 676.5h0M1233 679.5h0M1233 680h0M1233 682h0M1233 683.5h0M1233 686h0M1233 687h0M1233.5 678h0M1233.5 680h0M1233.5 680.5h0M1233.5 681h0M1233.5 681.5h0M1233.5 682.5h0M1233.5 683.5h0M1233.5 684.5h0M1234 678h0M1234 678.5h0M1234 679.5h0M1234 681.5h0M1234 685h0M1234.5 679h0M1234.5 679.5h0M1234.5 681.5h0M1234.5 682h0M1234.5 682.5h0M1234.5 683.5h0M1234.5 685h0M1234.5 687.5h0M1235 676.5h0M1235 680h0M1235 680.5h0M1235 681.5h0M1235 683h0M1235 685h0M1235 686.5h0M1235.5 678.5h0M1235.5 679h0M1235.5 681h0M1235.5 682h0M1235.5 682.5h0M1235.5 683h0M1235.5 684h0M1236 678h0M1236 681.5h0M1236 682h0M1236 683h0M1236 684h0M1236 684.5h0M1236 685h0M1236.5 680.5h0M1236.5 681.5h0M1236.5 682h0M1236.5 684h0M1236.5 685.5h0M1236.5 687h0M1237 680h0M1237 681h0M1237 682h0M1237 683.5h0M1237 687h0M1237.5 679.5h0M1237.5 680h0M1237.5 680.5h0M1238 679h0M1238 679.5h0M1238 681.5h0M1238 682h0M1238 687h0M1238 689h0M1238.5 681h0M1238.5 682.5h0M1238.5 683.5h0M1238.5 684.5h0M1239 679h0M1239 680.5h0M1239 683h0M1239 684h0M1239 684.5h0M1239 685.5h0M1239 687h0M1239.5 678h0M1239.5 679h0M1239.5 679.5h0M1239.5 680h0M1239.5 684.5h0M1240 679h0M1240 679.5h0M1240 681h0M1240 681.5h0M1240 682.5h0M1240 683.5h0M1240 687h0M1240 689h0M1240.5 679.5h0M1240.5 680.5h0M1240.5 684h0M1240.5 685h0M1240.5 686h0M1241 681.5h0M1241 682h0M1241 683h0M1241 683.5h0M1241 684h0M1241 684.5h0M1241 686h0M1241 687h0M1241 688h0M1241.5 679.5h0M1241.5 687h0M1242 675h0M1242 678.5h0M1242 680h0M1242 682h0M1242 684h0M1242 684.5h0M1242 685.5h0M1242 689.5h0M1242.5 680.5h0M1242.5 682h0M1242.5 687h0M1243 681.5h0M1243 682.5h0M1243 687h0M1243 687.5h0M1243 688h0M1243.5 678.5h0M1243.5 680.5h0M1243.5 682.5h0M1243.5 683h0M1243.5 683.5h0M1243.5 684.5h0M1243.5 686.5h0M1243.5 687h0M1244 681h0M1244 683h0M1244 685h0M1244 685.5h0M1244 686h0M1244.5 678.5h0M1244.5 681.5h0M1244.5 682.5h0M1244.5 683h0M1244.5 683.5h0M1244.5 684h0M1244.5 687.5h0M1245 681h0M1245 681.5h0M1245 682h0M1245 683h0M1245 683.5h0M1245 684h0M1245 684.5h0M1245 685.5h0M1245 686.5h0M1245 688.5h0M1245.5 681h0M1245.5 681.5h0M1245.5 683h0M1245.5 683.5h0M1245.5 685.5h0M1246 679.5h0M1246 681h0M1246 682.5h0M1246 683h0M1246 683.5h0M1246 684h0M1246 686h0M1246 687h0M1246 688h0M1246.5 679h0M1246.5 681.5h0M1246.5 683h0M1246.5 683.5h0M1246.5 685.5h0M1247 680.5h0M1247 683.5h0M1247 684h0M1247 686.5h0M1247.5 682h0M1247.5 683h0M1247.5 683.5h0M1247.5 684h0M1247.5 685h0M1247.5 685.5h0M1247.5 686.5h0M1248 681.5h0M1248 684h0M1248 684.5h0M1248 685.5h0M1248 689h0M1248.5 681h0M1248.5 683.5h0M1248.5 684h0M1248.5 685.5h0M1248.5 688.5h0M1249 680h0M1249 680.5h0M1249 683h0M1249 683.5h0M1249 685h0M1249 686.5h0M1249 689.5h0M1249.5 678.5h0M1249.5 679.5h0M1249.5 682h0M1249.5 683h0M1249.5 684h0M1249.5 685h0M1249.5 686.5h0M1250 682h0M1250 682.5h0M1250 684.5h0M1250 687.5h0M1250.5 682h0M1250.5 682.5h0M1250.5 683.5h0M1250.5 684h0M1250.5 684.5h0M1250.5 685h0M1250.5 687h0M1251 683.5h0M1251 685h0M1251 687h0M1251.5 679.5h0M1251.5 682.5h0M1251.5 683h0M1251.5 683.5h0M1251.5 686h0M1251.5 686.5h0M1251.5 687.5h0M1251.5 689h0M1252 683h0M1252 683.5h0M1252 685h0M1252 686h0M1252 687h0M1252 688h0M1252 691.5h0M1252.5 681h0M1252.5 683h0M1252.5 683.5h0M1252.5 687h0M1252.5 689h0M1253 684h0M1253 685.5h0M1253 687h0M1253.5 678.5h0M1253.5 684h0M1253.5 685.5h0M1253.5 686h0M1253.5 691h0M1254 683h0M1254 685h0M1254 685.5h0M1254 686.5h0M1254 687h0M1254.5 680.5h0M1254.5 685h0M1254.5 685.5h0M1255 683.5h0M1255 684h0M1255 684.5h0M1255 685h0M1255 685.5h0M1255 686h0M1255 687h0M1255 688.5h0M1255.5 682h0M1255.5 683.5h0M1255.5 686.5h0M1255.5 687h0M1255.5 688h0M1255.5 689h0M1255.5 689.5h0M1256 683h0M1256 683.5h0M1256 686.5h0M1256 687.5h0M1256.5 682h0M1256.5 682.5h0M1256.5 683h0M1256.5 685.5h0M1256.5 687h0M1256.5 688.5h0M1257 681.5h0M1257 683.5h0M1257 684h0M1257 685h0M1257 685.5h0M1257 686.5h0M1257 687.5h0M1257 689h0M1257.5 680.5h0M1257.5 685h0M1257.5 686.5h0M1257.5 690.5h0M1258 683.5h0M1258 684h0M1258 684.5h0M1258 686h0M1258 688.5h0M1258 689h0M1258.5 682.5h0M1258.5 684h0M1258.5 685.5h0M1258.5 686.5h0M1258.5 687.5h0M1258.5 689h0M1258.5 689.5h0M1259 681h0M1259 682h0M1259 682.5h0M1259 683.5h0M1259 684.5h0M1259 685h0M1259 686h0M1259 686.5h0M1259 688h0M1259.5 683h0M1259.5 683.5h0M1259.5 684h0M1259.5 685h0M1259.5 685.5h0M1259.5 686.5h0M1259.5 687h0M1259.5 688.5h0M1260 684.5h0M1260 685.5h0M1260 686h0M1260 686.5h0M1260 689.5h0M1260 690h0M1260.5 683.5h0M1260.5 687.5h0M1260.5 689.5h0M1261 682.5h0M1261 683h0M1261 684h0M1261 684.5h0M1261 685h0M1261 687h0M1261 687.5h0M1261.5 683h0M1261.5 684.5h0M1261.5 685h0M1261.5 685.5h0M1261.5 686h0M1261.5 686.5h0M1261.5 688h0M1261.5 690.5h0M1262 681.5h0M1262 684.5h0M1262 686.5h0M1262 688.5h0M1262.5 684h0M1262.5 685.5h0M1262.5 686h0M1262.5 687.5h0M1262.5 688.5h0M1263 684.5h0M1263 688h0M1263 688.5h0M1263.5 683.5h0M1263.5 684h0M1263.5 687h0M1263.5 687.5h0M1263.5 691h0M1264 685.5h0M1264 690h0M1264 692.5h0M1264.5 685h0M1264.5 686h0M1264.5 688.5h0M1264.5 689h0M1264.5 689.5h0M1264.5 690h0M1265 683h0M1265 684.5h0M1265 685h0M1265 686h0M1265 687h0M1265 688h0M1265 689h0M1265 689.5h0M1265 690h0M1265 690.5h0M1265.5 682h0M1265.5 683.5h0M1265.5 684.5h0M1265.5 685h0M1265.5 685.5h0M1265.5 686.5h0M1265.5 687h0M1265.5 693.5h0M1266 685.5h0M1266 686.5h0M1266 687.5h0M1266 690h0M1266.5 685h0M1266.5 686.5h0M1266.5 687.5h0M1266.5 688h0M1266.5 689.5h0M1266.5 690h0M1267 683.5h0M1267 685.5h0M1267 686h0M1267 687.5h0M1267 689h0M1267 690h0M1267 690.5h0M1267 691h0M1267.5 683h0M1267.5 685h0M1267.5 686.5h0M1267.5 687h0M1267.5 688.5h0M1267.5 689.5h0M1267.5 690h0M1268 684.5h0M1268 685.5h0M1268 687.5h0M1268 688h0M1268 689h0M1268 692.5h0M1268.5 684.5h0M1268.5 685h0M1268.5 686.5h0M1268.5 687h0M1268.5 687.5h0M1268.5 690h0M1268.5 690.5h0M1268.5 692.5h0M1269 686.5h0M1269 687.5h0M1269.5 684.5h0M1269.5 685h0M1269.5 686h0M1269.5 688.5h0M1270 685.5h0M1270 686h0M1270 687h0M1270 688h0M1270 690h0M1270 690.5h0M1270.5 685h0M1270.5 685.5h0M1270.5 687.5h0M1271 682.5h0M1271 684h0M1271 685.5h0M1271 687h0M1271 688h0M1271 689h0M1271 689.5h0M1271.5 683h0M1271.5 687h0M1271.5 687.5h0M1271.5 688.5h0M1271.5 689h0M1272 687h0M1272 687.5h0M1272 688h0M1272 688.5h0M1272 689h0M1272 690.5h0M1272.5 684h0M1272.5 685.5h0M1272.5 687h0M1272.5 688h0M1272.5 689h0M1272.5 690h0M1273 685.5h0M1273 686.5h0M1273 688.5h0M1273 689h0M1273.5 686h0M1273.5 686.5h0M1273.5 687h0M1273.5 687.5h0M1273.5 688h0M1273.5 688.5h0M1273.5 689.5h0M1273.5 690.5h0M1274 686.5h0M1274 688.5h0M1274 689h0M1274.5 685h0M1274.5 685.5h0M1274.5 688.5h0M1274.5 690.5h0M1275 684.5h0M1275 688h0M1275 689h0M1275 689.5h0M1275.5 683h0M1275.5 685.5h0M1275.5 687h0M1275.5 688.5h0M1275.5 692h0M1276 686.5h0M1276 687h0M1276 688.5h0M1276 690.5h0M1276 691h0M1276.5 685h0M1276.5 688.5h0M1276.5 689h0M1276.5 689.5h0M1276.5 690h0M1276.5 691h0M1276.5 695h0M1277 687h0M1277 687.5h0M1277 688.5h0M1277 689.5h0M1277 690h0M1277 693.5h0M1277.5 687h0M1277.5 688h0M1277.5 689h0M1277.5 691h0M1277.5 691.5h0M1278 687h0M1278 688h0M1278 688.5h0M1278 690.5h0M1278 691h0M1278 691.5h0M1278.5 687h0M1278.5 688.5h0M1278.5 689.5h0M1279 685h0M1279 689h0M1279 690h0M1279 692.5h0M1279.5 685.5h0M1279.5 686h0M1279.5 687h0M1279.5 688h0M1279.5 689.5h0M1280 689h0M1280 689.5h0M1280 691.5h0M1280 692h0M1280.5 687h0M1280.5 690h0M1280.5 690.5h0M1280.5 691h0M1281 686.5h0M1281 687.5h0M1281 688h0M1281 688.5h0M1281 689h0M1281 689.5h0M1281 690.5h0M1281 693h0M1281.5 687h0M1281.5 689.5h0M1281.5 692.5h0M1282 687.5h0M1282 689h0M1282 690h0M1282 690.5h0M1282 691h0M1282.5 684.5h0M1282.5 686h0M1282.5 688h0M1282.5 689h0M1282.5 689.5h0M1282.5 690h0M1283 688.5h0M1283 689.5h0M1283 691.5h0M1283.5 688h0M1283.5 690h0M1283.5 693h0M1284 687h0M1284 688h0M1284 689.5h0M1284 690h0M1284 691.5h0M1284.5 688.5h0M1284.5 689h0M1284.5 690h0M1284.5 691.5h0M1284.5 692.5h0M1284.5 694h0M1285 687h0M1285 688.5h0M1285 689h0M1285 689.5h0M1285 691.5h0M1285 692h0M1285 693.5h0M1285.5 687h0M1285.5 687.5h0M1285.5 688h0M1285.5 688.5h0M1285.5 689h0M1285.5 689.5h0M1285.5 690h0M1286 686.5h0M1286 689h0M1286 689.5h0M1286 690h0M1286 691.5h0M1286 692.5h0M1286.5 687.5h0M1286.5 689h0M1286.5 689.5h0M1286.5 690h0M1286.5 690.5h0M1286.5 691h0M1286.5 692.5h0M1287 684.5h0M1287 688h0M1287 688.5h0M1287 689.5h0M1287 691h0M1287 692h0M1287.5 687.5h0M1287.5 688.5h0M1287.5 690.5h0M1287.5 691h0M1287.5 691.5h0M1287.5 692.5h0M1288 688h0M1288 690h0M1288.5 687.5h0M1288.5 688h0M1288.5 688.5h0M1288.5 691h0M1288.5 691.5h0M1288.5 692h0M1288.5 694h0M1289 687.5h0M1289 688.5h0M1289 689h0M1289 689.5h0M1289 691h0M1289.5 687.5h0M1289.5 689.5h0M1289.5 690h0M1289.5 690.5h0M1289.5 691.5h0M1290 685.5h0M1290 686.5h0M1290 687.5h0M1290 689h0M1290 690h0M1290 691.5h0M1290 692.5h0M1290 694.5h0M1290.5 686h0M1290.5 687h0M1290.5 688h0M1290.5 688.5h0M1290.5 690h0M1290.5 690.5h0M1290.5 691h0M1291 687.5h0M1291 689h0M1291 690h0M1291 691.5h0M1291 693.5h0M1291.5 687h0M1291.5 687.5h0M1291.5 690.5h0M1291.5 691.5h0M1292 688.5h0M1292 690h0M1292 691.5h0M1292.5 688.5h0M1292.5 690h0M1292.5 690.5h0M1292.5 691.5h0M1293 688.5h0M1293 689.5h0M1293 691h0M1293 691.5h0M1293 692h0M1293.5 685h0M1293.5 687.5h0M1293.5 689.5h0M1293.5 690.5h0M1293.5 691h0M1293.5 692h0M1293.5 692.5h0M1293.5 693.5h0M1294 689.5h0M1294 691h0M1294 691.5h0M1294 692.5h0M1294 693h0M1294.5 688h0M1294.5 689.5h0M1294.5 690h0M1294.5 690.5h0M1295 687.5h0M1295 688.5h0M1295 689h0M1295 690h0M1295 690.5h0M1295 691.5h0M1295 692h0M1295 693.5h0M1295.5 688h0M1295.5 688.5h0M1295.5 689h0M1295.5 689.5h0M1295.5 690h0M1295.5 690.5h0M1296 688.5h0M1296 689h0M1296 691h0M1296 692.5h0M1296.5 685h0M1296.5 687h0M1296.5 688h0M1296.5 690h0M1296.5 690.5h0M1297 687h0M1297 688.5h0M1297 689h0M1297 690h0M1297 690.5h0M1297 691.5h0M1297.5 688.5h0M1297.5 689.5h0M1297.5 690h0M1297.5 690.5h0M1297.5 691.5h0M1297.5 692h0M1298 689h0M1298 690.5h0M1298 691.5h0M1298.5 688.5h0M1298.5 689h0M1298.5 692h0M1299 688h0M1299 688.5h0M1299 690.5h0M1299.5 689.5h0M1299.5 690h0M1299.5 690.5h0M1299.5 691h0M1299.5 691.5h0M1299.5 692h0M1299.5 693.5h0M1300 690h0M1300 691h0M1300 692h0M1300 692.5h0M1300.5 684h0M1300.5 689.5h0M1300.5 690h0M1300.5 690.5h0M1300.5 691.5h0M1300.5 692.5h0M1301 687.5h0M1301 689.5h0M1301 690h0M1301 690.5h0M1301 691h0M1301 691.5h0M1301 692h0M1301.5 688.5h0M1301.5 690.5h0M1301.5 691h0M1301.5 691.5h0M1302 688.5h0M1302 689h0M1302 690.5h0M1302 691h0M1302 692.5h0M1302 693.5h0M1302.5 688h0M1302.5 690.5h0M1302.5 692h0M1302.5 693h0M1303 688h0M1303 689.5h0M1303 691.5h0M1303.5 688.5h0M1303.5 689h0M1303.5 689.5h0M1303.5 690.5h0M1303.5 691h0M1303.5 692h0M1303.5 693h0M1304 689h0M1304 691h0M1304 692.5h0M1304 693.5h0M1304 694h0M1304 694.5h0M1304.5 690h0M1304.5 690.5h0M1304.5 694.5h0M1305 689.5h0M1305 691h0M1305 692h0M1305 693h0M1305 693.5h0M1305.5 689.5h0M1305.5 690h0M1305.5 690.5h0M1305.5 691.5h0M1305.5 692h0M1305.5 692.5h0M1306 689h0M1306 691.5h0M1306 692.5h0M1306 693h0M1306.5 690h0M1306.5 690.5h0M1306.5 691h0M1306.5 692h0M1306.5 692.5h0M1306.5 693.5h0M1307 689.5h0M1307 692h0M1307 693h0M1307.5 688h0M1307.5 690h0M1307.5 693.5h0M1308 689.5h0M1308 691h0M1308 692h0M1308 694h0M1308.5 689.5h0M1308.5 691.5h0M1309 689.5h0M1309 690h0M1309 690.5h0M1309 691.5h0M1309 692h0M1309 693.5h0M1309.5 689.5h0M1309.5 691h0M1309.5 693.5h0M1310 690h0M1310 690.5h0M1310 691.5h0M1310 692.5h0M1310.5 689h0M1310.5 690h0M1310.5 691.5h0M1310.5 692h0M1310.5 693h0M1311 690h0M1311 692h0M1311.5 690h0M1311.5 691h0M1311.5 692h0M1311.5 692.5h0M1312 690.5h0M1312 691.5h0M1312 692.5h0M1312 693.5h0M1312.5 690h0M1312.5 690.5h0M1312.5 692.5h0M1312.5 693h0M1312.5 694h0M1313 690h0M1313 693h0M1313.5 690.5h0M1313.5 691h0M1313.5 692h0M1313.5 693h0M1314 689.5h0M1314 690h0M1314 691h0M1314 692h0M1314 693h0M1314.5 692h0M1314.5 692.5h0M1314.5 694h0M1315 690.5h0M1315 691h0M1315 691.5h0M1315 692h0M1315 693h0M1315 693.5h0M1315 695h0M1315.5 690.5h0M1315.5 692h0M1315.5 693h0M1316 689h0M1316 689.5h0M1316 691.5h0M1316 692h0M1316 692.5h0M1316.5 690.5h0M1316.5 691.5h0M1316.5 692.5h0M1316.5 693h0M1316.5 694.5h0M1317 692.5h0M1317 693h0M1317.5 691.5h0M1317.5 692h0M1317.5 693h0M1317.5 693.5h0M1318 691.5h0M1318 692h0M1318 692.5h0M1318 693h0M1318.5 690.5h0M1318.5 691h0M1318.5 692.5h0M1319 691h0M1319 691.5h0M1319 692h0M1319 692.5h0M1319 693h0M1319 693.5h0M1319 694.5h0M1319.5 691.5h0M1319.5 693h0M1319.5 694h0M1320 691h0M1320 692h0M1320 693h0M1320 695h0M1320.5 691h0M1320.5 692.5h0M1321 690.5h0M1321 691h0M1321 692h0M1321 692.5h0M1321 693.5h0M1321 694h0M1321 694.5h0M1321.5 691.5h0M1321.5 692h0M1321.5 693h0M1321.5 693.5h0M1321.5 694.5h0M1322 692.5h0M1322 693.5h0M1322 694.5h0M1322.5 691.5h0M1322.5 692h0M1322.5 692.5h0M1322.5 693h0M1322.5 694.5h0M1323 692h0M1323 692.5h0M1323 693h0M1323.5 691.5h0M1323.5 693h0M1323.5 694h0M1323.5 694.5h0M1324 690.5h0M1324 691h0M1324 692h0M1324 692.5h0M1324 693h0M1324.5 691h0M1324.5 692h0M1324.5 693.5h0M1325 691h0M1325 691.5h0M1325 692h0M1325 692.5h0M1325 694h0M1325.5 692h0M1325.5 692.5h0M1325.5 693h0M1325.5 693.5h0M1326 691h0M1326 691.5h0M1326 692.5h0M1326 693.5h0M1326.5 692.5h0M1327 691.5h0M1327 692h0M1327.5 692.5h0M1328 689.5h0M1328 690h0M1328 691h0M1328 691.5h0M1328 692.5h0M1328 693h0M1328.5 693.5h0M1329 689.5h0M1329 691h0M1329 692.5h0M1329.5 691.5h0M1329.5 692h0M1329.5 692.5h0M1329.5 693h0M1330 691h0M1330 691.5h0M1330 693h0M1330 693.5h0M1330 694h0M1330.5 692h0M1330.5 692.5h0M1330.5 693h0M1330.5 693.5h0M1330.5 694h0M1331 692.5h0M1331 693.5h0M1331.5 691h0M1331.5 693.5h0M1331.5 694.5h0M1332 692h0M1332 692.5h0M1332 693.5h0M1332.5 691.5h0M1332.5 695h0M1333 694h0M1333 695h0M1333.5 691.5h0M1333.5 692h0M1333.5 692.5h0M1334 691.5h0M1334 692h0M1334 692.5h0M1334 693.5h0M1334 695h0M1334.5 691.5h0M1334.5 693.5h0M1334.5 694.5h0M1335 690.5h0M1335 691h0M1335 692h0M1335 693h0M1335 693.5h0M1335 694h0M1335.5 692.5h0M1335.5 695h0M1336 692h0M1336 692.5h0M1336 693.5h0M1336 695h0M1336.5 692h0M1336.5 692.5h0M1336.5 693h0M1336.5 693.5h0M1337 691h0M1337 692h0M1337 692.5h0M1337 693.5h0M1337.5 693h0M1337.5 693.5h0M1338 692h0M1338 692.5h0M1338 693.5h0M1338 694h0M1338 695h0M1338.5 691h0M1338.5 693h0M1338.5 693.5h0M1338.5 694h0M1338.5 695h0M1339 692h0M1339 693h0M1339 693.5h0M1339 694h0M1339.5 692h0M1339.5 693.5h0M1339.5 694h0M1340 691.5h0M1340 692.5h0M1340 693h0M1340 693.5h0M1340.5 693h0M1340.5 693.5h0M1340.5 694h0M1341 693.5h0M1341.5 691.5h0M1341.5 692h0M1341.5 692.5h0M1341.5 695h0M1342 692.5h0M1342 693h0M1342.5 690.5h0M1342.5 692.5h0M1342.5 693h0M1342.5 693.5h0M1343 691.5h0M1343 692h0M1343 693h0M1343 694h0M1343 694.5h0M1343 695h0M1343.5 691.5h0M1343.5 692h0M1343.5 693h0M1343.5 695h0M1344 690.5h0M1344 692h0M1344 692.5h0M1344 693h0M1344 693.5h0M1344 694h0M1344.5 692h0M1344.5 693h0M1345 691.5h0M1345 692h0M1345 693h0M1345 693.5h0M1345.5 692.5h0M1345.5 693h0M1345.5 694h0M1346 691h0M1346 692.5h0M1346 693h0M1346 694h0M1346 694.5h0M1346.5 691h0M1346.5 692h0M1346.5 692.5h0M1346.5 693h0M1346.5 693.5h0M1346.5 694h0M1346.5 695h0M1347 693h0M1347 693.5h0M1347.5 691.5h0M1347.5 692h0M1347.5 694h0M1348 693.5h0M1348 694.5h0M1348.5 693.5h0M1348.5 694h0M1348.5 694.5h0M1348.5 695h0M1349 692h0M1349 692.5h0M1349 694h0M1349.5 692.5h0M1349.5 693h0M1349.5 693.5h0M1349.5 694h0M1350 693h0M1350 694h0M1350 694.5h0M1350.5 693h0M1350.5 693.5h0M1350.5 694h0M1350.5 694.5h0M1351 692h0M1351 693h0M1351 693.5h0M1351 694h0M1351 694.5h0M1351 695h0M1351.5 692h0M1351.5 692.5h0M1351.5 693h0M1351.5 693.5h0M1351.5 694h0M1352 692.5h0M1352 693h0M1352 693.5h0M1352 694h0M1352 695h0M1352.5 692h0M1352.5 693h0M1352.5 693.5h0M1352.5 694.5h0M1353 692h0M1353 692.5h0M1353 693h0M1353 694.5h0M1353 695h0M1353.5 691.5h0M1353.5 693h0M1353.5 694h0M1354 692.5h0M1354 693.5h0M1354 694.5h0M1354.5 693h0M1354.5 694h0M1355 693.5h0M1355 694.5h0M1355 695h0M1355.5 693.5h0M1355.5 694h0M1355.5 695h0M1356 692h0M1356 692.5h0M1356 693h0M1356 694h0M1356 695h0M1356.5 694h0M1357 693.5h0M1357 694h0M1357 695h0M1357.5 692h0M1357.5 692.5h0M1357.5 693h0M1357.5 693.5h0M1357.5 695h0M1358 693.5h0M1358 695h0M1358.5 693.5h0M1358.5 694h0M1358.5 694.5h0M1359 692.5h0M1359 694h0M1359 694.5h0M1359.5 692h0M1359.5 694.5h0M1359.5 695h0M1360 694h0M1360 694.5h0M1360.5 693h0M1360.5 693.5h0M1360.5 694h0M1361 692h0M1361 695h0M1361.5 692.5h0M1361.5 693h0M1361.5 694.5h0M1361.5 695h0M1362 694h0M1362 694.5h0M1363 693.5h0M1363 694h0M1363 694.5h0M1363.5 694h0M1363.5 694.5h0M1363.5 695h0M1364 692.5h0M1364 694h0M1364 694.5h0M1364.5 692.5h0M1364.5 693h0M1364.5 693.5h0M1364.5 694h0M1364.5 695h0M1365 693h0M1365.5 693.5h0M1365.5 694.5h0M1365.5 695h0M1366 693.5h0M1366 695h0M1366.5 693h0M1366.5 694h0M1366.5 694.5h0M1367 693h0M1367 693.5h0M1367 694h0M1367 694.5h0M1367.5 694.5h0M1368 693.5h0M1368 695h0M1368.5 693h0M1369 692h0M1369 692.5h0M1369 693h0M1369 694h0M1369 695h0M1369.5 692h0M1369.5 692.5h0M1369.5 693h0M1369.5 694h0M1369.5 694.5h0M1371 693.5h0M1371 694.5h0M1371.5 692.5h0M1371.5 694.5h0M1371.5 695h0M1372 693h0M1372 693.5h0M1372 694h0M1372 694.5h0M1372 695h0M1372.5 691.5h0M1372.5 692h0M1372.5 692.5h0M1373 693h0M1373 695h0M1373.5 692.5h0M1373.5 693h0M1373.5 694h0M1373.5 695h0M1374 693h0M1374 693.5h0M1374 694h0M1374 695h0M1374.5 693h0M1374.5 694.5h0M1375 692.5h0M1375 694h0M1375 694.5h0M1375.5 694.5h0M1376 692.5h0M1376 694h0M1376.5 694h0M1377 693h0M1377 694h0M1377.5 692.5h0M1377.5 693h0M1377.5 694h0M1377.5 694.5h0M1377.5 695h0M1378 692h0M1378 694.5h0M1378 695h0M1378.5 693.5h0M1378.5 694h0M1378.5 695h0M1380 694h0M1380 694.5h0M1380.5 692.5h0M1380.5 693.5h0M1380.5 694h0M1381 693h0M1381.5 693.5h0M1381.5 694h0M1382 693h0M1382 693.5h0M1382 694h0M1382.5 694.5h0M1383 692.5h0M1383 693h0M1383 695h0M1383.5 693.5h0M1383.5 695h0M1384 694.5h0M1384 695h0M1384.5 695h0M1385 692.5h0M1385 695h0M1385.5 693.5h0M1385.5 694.5h0M1386 693h0M1386 693.5h0M1386 695h0M1386.5 694.5h0M1387 693.5h0M1387 694h0M1387 694.5h0M1387 695h0M1387.5 693.5h0M1387.5 694h0M1388.5 693.5h0M1388.5 694h0M1388.5 694.5h0M1389 693.5h0M1389 694.5h0M1389.5 694h0M1389.5 694.5h0M1390 692.5h0M1390 694.5h0M1390.5 694h0M1391 692h0M1391 692.5h0M1391 693.5h0M1391.5 693.5h0M1391.5 694.5h0M1392.5 693h0M1392.5 693.5h0M1392.5 694h0M1393 693h0M1393 693.5h0M1393 694.5h0M1393.5 694.5h0M1393.5 695h0M1394.5 693.5h0M1394.5 694h0M1394.5 694.5h0M1395 693h0M1395 694h0M1395 695h0M1396 692h0M1396 693.5h0M1396 694h0M1396 694.5h0M1396 695h0M1396.5 693h0M1396.5 693.5h0M1396.5 694h0M1396.5 694.5h0M1396.5 695h0M1397 694.5h0M1398.5 692.5h0M1398.5 693h0M1398.5 694h0M1398.5 695h0M1399 694.5h0M1399 695h0M1399.5 694h0M1399.5 694.5h0M1400 694h0M1400.5 693.5h0M1400.5 694.5h0M1401 694.5h0M1401 695h0M1401.5 693h0M1401.5 694.5h0M1401.5 695h0M1402 695h0M1402.5 695h0M1403 692.5h0M1403 695h0M1403.5 693.5h0M1403.5 695h0M1404 694h0M1404 694.5h0M1404 695h0M1404.5 693h0M1404.5 695h0M1405 693.5h0M1405 694.5h0M1405.5 693h0M1405.5 694h0M1405.5 694.5h0M1406 694h0M1406 695h0M1406.5 694h0M1406.5 695h0M1407 694h0M1407 695h0M1407.5 694.5h0M1408 694.5h0M1408.5 695h0M1409 694.5h0M1409 695h0M1409.5 694h0M1409.5 695h0M1410 695h0M1410.5 695h0M1411 694.5h0M1411.5 694.5h0M1411.5 695h0M1412 695h0M1412.5 694.5h0M1413 694h0M1413 695h0M1415 693.5h0M1415.5 694.5h0M1416.5 694h0M1416.5 694.5h0M1417 695h0M1417.5 694.5h0M1417.5 695h0M1418.5 694.5h0M1419.5 694.5h0M1420 694h0M1420 695h0M1421 694.5h0M1422 693.5h0M1422 694.5h0M1422.5 694.5h0M1423 695h0M1423.5 694.5h0M1424 695h0M1426.5 694h0M1427 695h0M1427.5 694h0M1428 693.5h0M1428 694.5h0M1428.5 694h0M1428.5 695h0M1429 695h0M1430 695h0M1430.5 695h0M1431 693h0M1431 693.5h0M1431.5 693.5h0M1431.5 694.5h0M1432 695h0M1432.5 694h0M1432.5 695h0M1433.5 695h0M1434 695h0M1434.5 694.5h0M1435 695h0M1435.5 694.5h0M1435.5 695h0M1436.5 695h0M1438 693.5h0M1439 695h0M1439.5 695h0M1440.5 695h0M1443 695h0M1444.5 694.5h0M1444.5 695h0M1446 694h0M1447.5 694h0M1447.5 695h0M1448 695h0M1449.5 695h0M1450 695h0M1450.5 694h0M1451 695h0M1452 695h0M1452.5 694.5h0M1452.5 695h0M1455.5 695h0M1456 695h0M1458.5 694.5h0M1459.5 695h0M1461.5 695h0M1463 695h0M1463.5 695h0M1465.5 693.5h0M1465.5 694.5h0M1465.5 695h0M1466 694.5h0M1466 695h0M1467 694.5h0M1469.5 695h0M1471 695h0M1475.5 695h0M1481 695h0M1481.5 695h0M1484.5 695h0M1488 694.5h0M1492.5 694.5h0M1493 694.5h0M1493 695h0M1494 695h0M1495 695h0M1498 695h0M1498.5 695h0M1504.5 695h0M1509 695h0M1512.5 694h0M1519 695h0M1525.5 695h0M1526 695h0M1534 694.5h0M1548 695h0"/>
<path d="M1548.2 627.2V664" stroke="#3a3a3a" stroke-width="2.8" fill="none"/>
<path d="M1548.2 671.2l-6.4 -15.2l6.4 3.6l6.4 -3.6z" fill="#3a3a3a"/>
<text x="957.16" y="722.20" font-size="21.4" textLength="10.47" lengthAdjust="spacingAndGlyphs">0</text>
<text x="1075.27" y="722.20" font-size="21.4" textLength="35.77" lengthAdjust="spacingAndGlyphs">100</text>
<text x="1208.58" y="722.20" font-size="21.4" textLength="37.19" lengthAdjust="spacingAndGlyphs">200</text>
<text x="1343.08" y="722.20" font-size="21.4" textLength="36.07" lengthAdjust="spacingAndGlyphs">300</text>
<text x="1476.71" y="722.20" font-size="21.4" textLength="35.83" lengthAdjust="spacingAndGlyphs">400</text>
<text x="1611.44" y="722.20" font-size="21.4" textLength="36.01" lengthAdjust="spacingAndGlyphs">500</text>
<text x="944.31" y="703.00" font-size="21.4" textLength="9.89" lengthAdjust="spacingAndGlyphs">0</text>
<text x="920.99" y="634.46" font-size="21.4" textLength="32.45" lengthAdjust="spacingAndGlyphs">0.1</text>
<text x="920.99" y="565.92" font-size="21.4" textLength="32.49" lengthAdjust="spacingAndGlyphs">0.2</text>
<text x="920.99" y="497.38" font-size="21.4" textLength="32.33" lengthAdjust="spacingAndGlyphs">0.3</text>
<text x="921.00" y="428.84" font-size="21.4" textLength="31.97" lengthAdjust="spacingAndGlyphs">0.4</text>
<text x="920.99" y="360.30" font-size="21.4" textLength="32.28" lengthAdjust="spacingAndGlyphs">0.5</text>
<text x="920.99" y="291.76" font-size="21.4" textLength="32.33" lengthAdjust="spacingAndGlyphs">0.6</text>
<text x="920.99" y="223.22" font-size="21.4" textLength="32.49" lengthAdjust="spacingAndGlyphs">0.7</text>
<text x="920.99" y="154.68" font-size="21.4" textLength="32.32" lengthAdjust="spacingAndGlyphs">0.8</text>
<text x="920.99" y="86.14" font-size="21.4" textLength="32.42" lengthAdjust="spacingAndGlyphs">0.9</text>
<text x="945.12" y="17.60" font-size="21.4" textLength="7.87" lengthAdjust="spacingAndGlyphs">1</text>
<text x="1229.75" y="759.80" font-size="34" textLength="130.23" lengthAdjust="spacingAndGlyphs">Distance</text>
<text transform="translate(904.70 485.10) rotate(-90)" x="-2.81" y="0" font-size="34" textLength="291.68" lengthAdjust="spacingAndGlyphs">Dipersal probability</text>
<text x="1578.21" y="57.50" font-size="35" textLength="20.65" lengthAdjust="spacingAndGlyphs">b</text>
</g>
<g id="pc">
<g fill="none" stroke="#3d3d3b" stroke-width="5.4"><rect x="94.9" y="898.9" width="670.2" height="685.8"/><path d="M128.4 1584.7v-9.7M128.4 898.9v9.7M195.4 1584.7v-9.7M195.4 898.9v9.7M262.3 1584.7v-9.7M262.3 898.9v9.7M329.3 1584.7v-9.7M329.3 898.9v9.7M396.2 1584.7v-9.7M396.2 898.9v9.7M463.3 1584.7v-9.7M463.3 898.9v9.7M530.4 1584.7v-9.7M530.4 898.9v9.7M597.3 1584.7v-9.7M597.3 898.9v9.7M664.4 1584.7v-9.7M664.4 898.9v9.7M731.4 1584.7v-9.7M731.4 898.9v9.7M94.9 1470.4h9.7M765.1 1470.4h-9.7M94.9 1356.1h9.7M765.1 1356.1h-9.7M94.9 1241.8h9.7M765.1 1241.8h-9.7M94.9 1127.5h9.7M765.1 1127.5h-9.7M94.9 1013.2h9.7M765.1 1013.2h-9.7"/></g>
<g fill="none" stroke="#161616" stroke-width="1.7" stroke-dasharray="21.4 13.1">
<path d="M128.4 1170.2V1022.8"/>
<path d="M128.4 1401.2V1269.2"/>
<path d="M195.4 1444.3V1429"/>
<path d="M195.4 1469.6V1458.6"/>
<path d="M262.3 1449.7V1439.5"/>
<path d="M262.3 1469.6V1459.6"/>
<path d="M329.3 1450.7V1442.8"/>
<path d="M329.3 1466.8V1458.4"/>
<path d="M396.2 1451.4V1443.6"/>
<path d="M396.2 1464.5V1456.9"/>
<path d="M463.3 1451.9V1448.4"/>
<path d="M463.3 1461.7V1456.1"/>
<path d="M530.4 1452.7V1446.9"/>
<path d="M530.4 1461.4V1456.6"/>
<path d="M597.3 1453.7V1449.2"/>
<path d="M597.3 1460.7V1457.4"/>
<path d="M664.4 1452.7V1448.9"/>
<path d="M664.4 1459.1V1456.1"/>
<path d="M731.4 1452.7V1451.2"/>
<path d="M731.4 1457.9V1456.1"/>
</g>
<g fill="#999" stroke="#161616" stroke-width="1.8">
<path d="M119.8 1022.8h17.2M119.8 1401.2h17.2" fill="none"/>
<rect x="111.5" y="1170.2" width="33.8" height="99"/>
<path d="M186.8 1429h17.2M186.8 1469.6h17.2" fill="none"/>
<rect x="178.5" y="1444.3" width="33.8" height="14.3"/>
<path d="M253.7 1439.5h17.2M253.7 1469.6h17.2" fill="none"/>
<rect x="245.4" y="1449.7" width="33.8" height="9.9"/>
<path d="M320.7 1442.8h17.2M320.7 1466.8h17.2" fill="none"/>
<rect x="312.4" y="1450.7" width="33.8" height="7.7"/>
<path d="M387.6 1443.6h17.2M387.6 1464.5h17.2" fill="none"/>
<rect x="379.3" y="1451.4" width="33.8" height="5.5"/>
<path d="M454.7 1448.4h17.2M454.7 1461.7h17.2" fill="none"/>
<rect x="446.4" y="1451.9" width="33.8" height="4.2"/>
<path d="M521.8 1446.9h17.2M521.8 1461.4h17.2" fill="none"/>
<rect x="513.5" y="1452.7" width="33.8" height="3.9"/>
<path d="M588.7 1449.2h17.2M588.7 1460.7h17.2" fill="none"/>
<rect x="580.4" y="1453.7" width="33.8" height="3.7"/>
<path d="M655.8 1448.9h17.2M655.8 1459.1h17.2" fill="none"/>
<rect x="647.5" y="1452.7" width="33.8" height="3.4"/>
<path d="M722.8 1451.2h17.2M722.8 1457.9h17.2" fill="none"/>
<rect x="714.5" y="1452.7" width="33.8" height="3.4"/>
</g>
<g stroke="#111" stroke-width="4.6" fill="none">
<path d="M111.5 1215.4h33.8"/>
<path d="M178.5 1452.8h33.8"/>
<path d="M245.4 1454.5h33.8"/>
<path d="M312.4 1454.3h33.8"/>
<path d="M379.3 1454h33.8"/>
<path d="M446.4 1454h33.8"/>
<path d="M513.5 1454.8h33.8"/>
<path d="M580.4 1455.6h33.8"/>
<path d="M647.5 1454.3h33.8"/>
<path d="M714.5 1454.3h33.8"/>
</g>
<path fill="none" stroke="#8a8a8a" stroke-width="5" stroke-linecap="round" d="M128.4 989.2h0M128.4 1015.9h0M195.4 1421.6h0M262.3 1434.1h0M262.3 1473.7h0M329.3 1439.5h0M329.3 1471.6h0M396.2 1441h0M396.2 1473.4h0M463.3 1465h0M530.4 1463.2h0M597.3 1446.4h0M597.3 1464.7h0M664.4 1461.4h0M731.4 1459.1h0"/>
<text x="119.83" y="1612.30" font-size="21.4" textLength="9.29" lengthAdjust="spacingAndGlyphs">1</text>
<text x="176.87" y="1612.30" font-size="21.4" textLength="35.66" lengthAdjust="spacingAndGlyphs">100</text>
<text x="247.89" y="1612.30" font-size="21.4" textLength="36.66" lengthAdjust="spacingAndGlyphs">200</text>
<text x="314.46" y="1612.30" font-size="21.4" textLength="36.91" lengthAdjust="spacingAndGlyphs">300</text>
<text x="381.00" y="1612.30" font-size="21.4" textLength="36.56" lengthAdjust="spacingAndGlyphs">400</text>
<text x="447.33" y="1612.30" font-size="21.4" textLength="36.43" lengthAdjust="spacingAndGlyphs">500</text>
<text x="513.27" y="1612.30" font-size="21.4" textLength="37.10" lengthAdjust="spacingAndGlyphs">600</text>
<text x="580.17" y="1612.30" font-size="21.4" textLength="36.69" lengthAdjust="spacingAndGlyphs">700</text>
<text x="651.44" y="1612.30" font-size="21.4" textLength="36.72" lengthAdjust="spacingAndGlyphs">800</text>
<text x="713.07" y="1612.30" font-size="21.4" textLength="36.80" lengthAdjust="spacingAndGlyphs">900</text>
<text x="53.91" y="906.60" font-size="21.4" textLength="31.74" lengthAdjust="spacingAndGlyphs">0.7</text>
<text x="38.67" y="1020.90" font-size="21.4" textLength="41.25" lengthAdjust="spacingAndGlyphs">0.68</text>
<text x="38.67" y="1135.20" font-size="21.4" textLength="41.26" lengthAdjust="spacingAndGlyphs">0.66</text>
<text x="38.68" y="1249.50" font-size="21.4" textLength="40.94" lengthAdjust="spacingAndGlyphs">0.64</text>
<text x="38.67" y="1363.80" font-size="21.4" textLength="41.40" lengthAdjust="spacingAndGlyphs">0.62</text>
<text x="53.91" y="1478.10" font-size="21.4" textLength="31.59" lengthAdjust="spacingAndGlyphs">0.6</text>
<text x="38.67" y="1592.40" font-size="21.4" textLength="41.25" lengthAdjust="spacingAndGlyphs">0.58</text>
<text x="254.23" y="1657.50" font-size="34" textLength="359.10" lengthAdjust="spacingAndGlyphs">Number of observations</text>
<text transform="translate(27.10 1381.10) rotate(-90)" x="-0.15" y="0" font-size="34" textLength="315.72" lengthAdjust="spacingAndGlyphs">Weighted Modularity</text>
<text x="728.73" y="949.70" font-size="35" textLength="16.12" lengthAdjust="spacingAndGlyphs">c</text>
</g>
<g id="pd">
<g fill="none" stroke="#3d3d3b" stroke-width="5.4"><rect x="964" y="898.9" width="670.2" height="685.8"/><path d="M1005.6 1584.7v-9.7M1005.6 898.9v9.7M1047.5 1584.7v-9.7M1047.5 898.9v9.7M1089.3 1584.7v-9.7M1089.3 898.9v9.7M1131.2 1584.7v-9.7M1131.2 898.9v9.7M1173 1584.7v-9.7M1173 898.9v9.7M1214.9 1584.7v-9.7M1214.9 898.9v9.7M1256.8 1584.7v-9.7M1256.8 898.9v9.7M1298.7 1584.7v-9.7M1298.7 898.9v9.7M1340.5 1584.7v-9.7M1340.5 898.9v9.7M1382.4 1584.7v-9.7M1382.4 898.9v9.7M1424.2 1584.7v-9.7M1424.2 898.9v9.7M1466.1 1584.7v-9.7M1466.1 898.9v9.7M1508 1584.7v-9.7M1508 898.9v9.7M1549.9 1584.7v-9.7M1549.9 898.9v9.7M1591.7 1584.7v-9.7M1591.7 898.9v9.7M964 1486.7h9.7M1634.2 1486.7h-9.7M964 1388.8h9.7M1634.2 1388.8h-9.7M964 1290.8h9.7M1634.2 1290.8h-9.7M964 1192.8h9.7M1634.2 1192.8h-9.7M964 1094.8h9.7M1634.2 1094.8h-9.7M964 996.9h9.7M1634.2 996.9h-9.7"/></g>
<g fill="none" stroke="#161616" stroke-width="1.7" stroke-dasharray="21.4 13.1">
<path d="M1005.6 1054.4V949.1"/>
<path d="M1005.6 1269.7V1149.3"/>
<path d="M1047.5 1165.1V1059.8"/>
<path d="M1047.5 1331.6V1239.6"/>
<path d="M1089.3 1253.9V1198"/>
<path d="M1089.3 1382.6V1312.5"/>
<path d="M1131.2 1321.4V1266.7"/>
<path d="M1131.2 1423.4V1371.4"/>
<path d="M1173 1375V1323.7"/>
<path d="M1173 1457.9V1414.2"/>
<path d="M1214.9 1418.3V1372.7"/>
<path d="M1214.9 1484.6V1450.5"/>
<path d="M1256.8 1454.5V1426.7"/>
<path d="M1256.8 1507.8V1478.6"/>
<path d="M1298.7 1483.4V1457.6"/>
<path d="M1298.7 1526V1503.3"/>
<path d="M1340.5 1505.3V1482.6"/>
<path d="M1340.5 1540.5V1521.9"/>
<path d="M1382.4 1523.7V1505"/>
<path d="M1382.4 1555.8V1537.9"/>
<path d="M1424.2 1538.4V1523.1"/>
<path d="M1424.2 1563.7V1550.4"/>
<path d="M1466.1 1550.7V1539.5"/>
<path d="M1466.1 1571.3V1561.1"/>
<path d="M1508 1560.6V1549.7"/>
<path d="M1508 1579V1569.6"/>
<path d="M1549.9 1569.8V1562.4"/>
<path d="M1549.9 1583.6V1577"/>
<path d="M1591.7 1576.7V1571.3"/>
<path d="M1591.7 1585.1V1582.8"/>
</g>
<g fill="#999" stroke="#161616" stroke-width="1.8">
<path d="M1000.2 949.1h10.8M1000.2 1269.7h10.8" fill="none"/>
<rect x="995" y="1054.4" width="21.2" height="94.9"/>
<path d="M1042.1 1059.8h10.8M1042.1 1331.6h10.8" fill="none"/>
<rect x="1036.9" y="1165.1" width="21.2" height="74.5"/>
<path d="M1083.9 1198h10.8M1083.9 1382.6h10.8" fill="none"/>
<rect x="1078.7" y="1253.9" width="21.2" height="58.6"/>
<path d="M1125.8 1266.7h10.8M1125.8 1423.4h10.8" fill="none"/>
<rect x="1120.6" y="1321.4" width="21.2" height="50"/>
<path d="M1167.6 1323.7h10.8M1167.6 1457.9h10.8" fill="none"/>
<rect x="1162.4" y="1375" width="21.2" height="39.2"/>
<path d="M1209.5 1372.7h10.8M1209.5 1484.6h10.8" fill="none"/>
<rect x="1204.3" y="1418.3" width="21.2" height="32.2"/>
<path d="M1251.4 1426.7h10.8M1251.4 1507.8h10.8" fill="none"/>
<rect x="1246.2" y="1454.5" width="21.2" height="24.1"/>
<path d="M1293.3 1457.6h10.8M1293.3 1526h10.8" fill="none"/>
<rect x="1288.1" y="1483.4" width="21.2" height="19.9"/>
<path d="M1335.1 1482.6h10.8M1335.1 1540.5h10.8" fill="none"/>
<rect x="1329.9" y="1505.3" width="21.2" height="16.6"/>
<path d="M1377 1505h10.8M1377 1555.8h10.8" fill="none"/>
<rect x="1371.8" y="1523.7" width="21.2" height="14.2"/>
<path d="M1418.8 1523.1h10.8M1418.8 1563.7h10.8" fill="none"/>
<rect x="1413.6" y="1538.4" width="21.2" height="12"/>
<path d="M1460.7 1539.5h10.8M1460.7 1571.3h10.8" fill="none"/>
<rect x="1455.5" y="1550.7" width="21.2" height="10.4"/>
<path d="M1502.6 1549.7h10.8M1502.6 1579h10.8" fill="none"/>
<rect x="1497.4" y="1560.6" width="21.2" height="9"/>
<path d="M1544.5 1562.4h10.8M1544.5 1583.6h10.8" fill="none"/>
<rect x="1539.3" y="1569.8" width="21.2" height="7.2"/>
<path d="M1586.3 1571.3h10.8M1586.3 1585.1h10.8" fill="none"/>
<rect x="1581.1" y="1576.7" width="21.2" height="6.1"/>
</g>
<g stroke="#111" stroke-width="4.6" fill="none">
<path d="M995 1092.4h21.2"/>
<path d="M1036.9 1191.9h21.2"/>
<path d="M1078.7 1275h21.2"/>
<path d="M1120.6 1340.5h21.2"/>
<path d="M1162.4 1391h21.2"/>
<path d="M1204.3 1430.6h21.2"/>
<path d="M1246.2 1464.7h21.2"/>
<path d="M1288.1 1489.7h21.2"/>
<path d="M1329.9 1512.7h21.2"/>
<path d="M1371.8 1530.5h21.2"/>
<path d="M1413.6 1544.6h21.2"/>
<path d="M1455.5 1556h21.2"/>
<path d="M1497.4 1565.4h21.2"/>
<path d="M1539.3 1573.4h21.2"/>
<path d="M1581.1 1579.8h21.2"/>
</g>
<path fill="none" stroke="#8a8a8a" stroke-width="5" stroke-linecap="round" d="M1005.6 1310.7h0M1047.5 1369.9h0M1089.3 1152.6h0M1089.3 1412.2h0M1131.2 1237.8h0M1131.2 1447.4h0M1173 1310.7h0M1173 1474.9h0M1214.9 1366.8h0M1214.9 1498.4h0M1256.8 1407h0M1256.8 1412.5h0M1256.8 1518.3h0M1298.7 1442.6h0M1298.7 1445.4h0M1298.7 1533.3h0M1340.5 1469.8h0M1340.5 1472.4h0M1340.5 1546.1h0M1382.4 1494.1h0M1382.4 1496.9h0M1424.2 1512.9h0M1424.2 1515.5h0M1466.1 1531.6h0M1466.1 1533.9h0M1508 1545.8h0M1508 1576.7h0M1549.9 1557.3h0M1591.7 1568h0"/>
<text x="943.87" y="1592.40" font-size="21.4" textLength="11.87" lengthAdjust="spacingAndGlyphs">0</text>
<text x="922.62" y="1494.43" font-size="21.4" textLength="31.28" lengthAdjust="spacingAndGlyphs">0.1</text>
<text x="922.62" y="1396.46" font-size="21.4" textLength="31.31" lengthAdjust="spacingAndGlyphs">0.2</text>
<text x="922.62" y="1298.49" font-size="21.4" textLength="31.16" lengthAdjust="spacingAndGlyphs">0.3</text>
<text x="922.63" y="1200.51" font-size="21.4" textLength="30.82" lengthAdjust="spacingAndGlyphs">0.4</text>
<text x="922.63" y="1102.54" font-size="21.4" textLength="31.11" lengthAdjust="spacingAndGlyphs">0.5</text>
<text x="922.62" y="1004.57" font-size="21.4" textLength="31.16" lengthAdjust="spacingAndGlyphs">0.6</text>
<text x="922.62" y="906.60" font-size="21.4" textLength="31.31" lengthAdjust="spacingAndGlyphs">0.7</text>
<text x="999.03" y="1614.20" font-size="27" textLength="16.04" lengthAdjust="spacingAndGlyphs" style="fill:#f0a30a">P</text>
<text x="1587.40" y="1614.20" font-size="27" textLength="13.37" lengthAdjust="spacingAndGlyphs">F</text>
<text x="1110.90" y="1657.50" font-size="34" textLength="355.27" lengthAdjust="spacingAndGlyphs">Mean dispersal distance</text>
<text transform="translate(910.40 1361.10) rotate(-90)" x="-0.15" y="0" font-size="34" textLength="315.72" lengthAdjust="spacingAndGlyphs">Weighted Modularity</text>
<text x="1574.82" y="949.70" font-size="35" textLength="20.90" lengthAdjust="spacingAndGlyphs">d</text>
</g>
</svg>
</body>
</html>
